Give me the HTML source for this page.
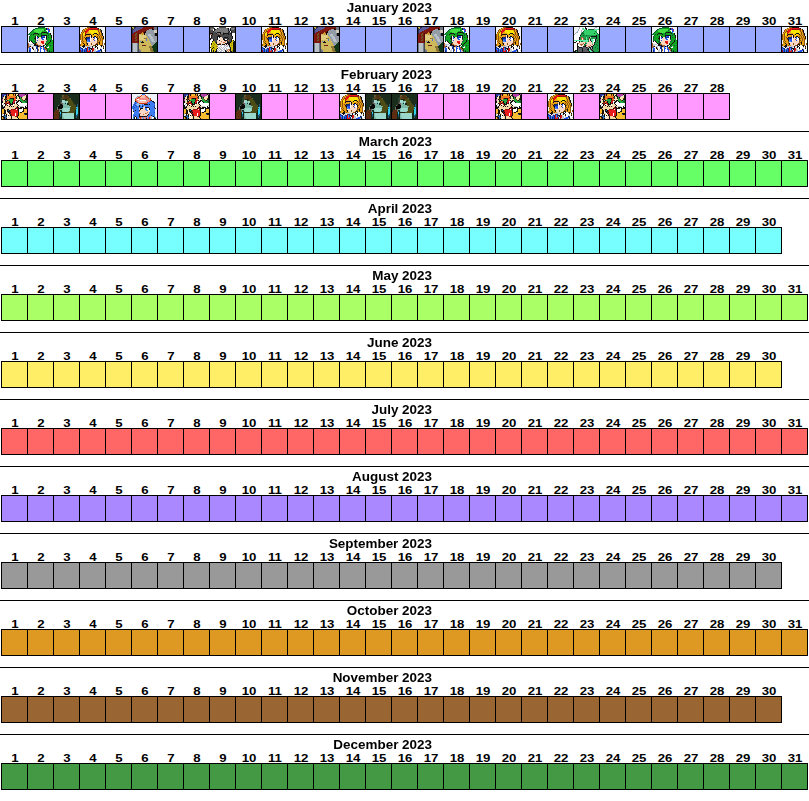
<!DOCTYPE html>
<html><head><meta charset="utf-8"><title>Calendar 2023</title><style>
html,body{margin:0;padding:0;background:#fff;}
body{width:809px;height:801px;overflow:hidden;position:relative;font-family:"Liberation Sans",sans-serif;font-weight:bold;color:#000;}
.t{position:absolute;font-size:12px;line-height:15px;white-space:nowrap;text-align:right;width:300px;transform:scaleX(1.12);transform-origin:100% 0;}
.n{position:absolute;font-size:11px;line-height:13px;width:27px;text-align:center;transform:translateX(0.5px) scaleX(1.2);}
.c{position:absolute;width:27px;height:27px;box-sizing:border-box;border:1px solid #000;overflow:hidden;}
.r{position:absolute;left:0;width:809px;height:1px;background:#000;}
.c svg{position:absolute;left:0;top:0;width:25px;height:25px;}
</style></head>
<body>
<div class="t" style="left:132px;top:1px">January 2023</div><div class="n" style="left:1px;top:15px">1</div><div class="n" style="left:27px;top:15px">2</div><div class="n" style="left:53px;top:15px">3</div><div class="n" style="left:79px;top:15px">4</div><div class="n" style="left:105px;top:15px">5</div><div class="n" style="left:131px;top:15px">6</div><div class="n" style="left:157px;top:15px">7</div><div class="n" style="left:183px;top:15px">8</div><div class="n" style="left:209px;top:15px">9</div><div class="n" style="left:235px;top:15px">10</div><div class="n" style="left:261px;top:15px">11</div><div class="n" style="left:287px;top:15px">12</div><div class="n" style="left:313px;top:15px">13</div><div class="n" style="left:339px;top:15px">14</div><div class="n" style="left:365px;top:15px">15</div><div class="n" style="left:391px;top:15px">16</div><div class="n" style="left:417px;top:15px">17</div><div class="n" style="left:443px;top:15px">18</div><div class="n" style="left:469px;top:15px">19</div><div class="n" style="left:495px;top:15px">20</div><div class="n" style="left:521px;top:15px">21</div><div class="n" style="left:547px;top:15px">22</div><div class="n" style="left:573px;top:15px">23</div><div class="n" style="left:599px;top:15px">24</div><div class="n" style="left:625px;top:15px">25</div><div class="n" style="left:651px;top:15px">26</div><div class="n" style="left:677px;top:15px">27</div><div class="n" style="left:703px;top:15px">28</div><div class="n" style="left:729px;top:15px">29</div><div class="n" style="left:755px;top:15px">30</div><div class="n" style="left:781px;top:15px">31</div><div class="c" style="left:1px;top:26px;background:#99aaff"></div><div class="c" style="left:27px;top:26px;background:#99aaff"><svg viewBox="0 0 25 25" shape-rendering="crispEdges"><path fill="#eef3fb" d="M0 0h10v1h-10zM17 0h8v1h-8zM0 1h7v1h-7zM21 1h4v1h-4zM0 2h5v1h-5zM22 2h3v1h-3zM0 3h4v1h-4zM22 3h3v1h-3zM0 4h3v1h-3zM22 4h3v1h-3zM0 5h2v1h-2zM21 5h4v1h-4zM0 6h1v1h-1zM23 6h2v1h-2zM23 7h2v1h-2zM0 8h2v1h-2zM24 8h1v1h-1zM0 9h1v1h-1zM24 9h1v1h-1zM0 10h1v1h-1zM24 10h1v1h-1zM0 11h1v1h-1zM24 11h1v1h-1zM0 12h1v1h-1zM24 12h1v1h-1zM0 13h1v1h-1zM0 14h1v1h-1zM0 15h1v1h-1z"/><path fill="#10583a" d="M10 0h7v1h-7zM7 1h3v1h-3zM5 2h2v1h-2zM4 3h1v1h-1zM16 3h1v1h-1zM3 4h1v1h-1zM2 5h1v1h-1zM1 6h1v1h-1zM0 7h1v1h-1zM3 7h1v1h-1zM13 7h1v1h-1zM20 7h1v1h-1zM2 8h1v1h-1zM20 8h1v1h-1zM1 9h1v1h-1zM1 10h1v1h-1zM20 10h1v1h-1zM1 11h1v1h-1zM1 12h1v1h-1zM18 12h1v1h-1zM23 12h1v1h-1zM1 13h1v1h-1zM3 13h1v1h-1zM7 13h1v1h-1zM19 13h1v1h-1zM6 14h2v1h-2zM18 14h1v1h-1zM7 15h2v1h-2zM6 16h1v1h-1zM17 16h1v1h-1zM16 18h1v1h-1zM22 18h1v1h-1zM19 19h1v1h-1zM19 22h1v1h-1zM21 23h1v1h-1zM19 24h1v1h-1zM23 24h1v1h-1z"/><path fill="#12a322" d="M10 1h8v1h-8zM16 2h2v1h-2zM5 3h1v1h-1zM17 3h1v1h-1zM4 4h2v1h-2zM14 4h5v1h-5zM3 5h5v1h-5zM13 5h1v1h-1zM19 5h1v1h-1zM2 6h4v1h-4zM10 6h3v1h-3zM14 6h5v1h-5zM20 6h2v1h-2zM1 7h2v1h-2zM4 7h1v1h-1zM6 7h4v1h-4zM11 7h2v1h-2zM14 7h6v1h-6zM21 7h1v1h-1zM3 8h5v1h-5zM9 8h4v1h-4zM19 8h1v1h-1zM21 8h2v1h-2zM2 9h5v1h-5zM10 9h3v1h-3zM19 9h4v1h-4zM2 10h5v1h-5zM19 10h1v1h-1zM21 10h2v1h-2zM2 11h4v1h-4zM19 11h5v1h-5zM2 12h5v1h-5zM19 12h4v1h-4zM2 13h1v1h-1zM4 13h3v1h-3zM20 13h2v1h-2zM23 13h2v1h-2zM4 14h2v1h-2zM19 14h3v1h-3zM23 14h2v1h-2zM5 15h2v1h-2zM18 15h3v1h-3zM22 15h3v1h-3zM18 16h2v1h-2zM21 16h4v1h-4zM18 17h1v1h-1zM20 17h5v1h-5zM19 18h3v1h-3zM23 18h2v1h-2zM17 19h2v1h-2zM21 19h4v1h-4zM18 20h1v1h-1zM21 20h4v1h-4zM19 21h6v1h-6zM20 22h5v1h-5zM20 23h1v1h-1zM22 23h3v1h-3zM20 24h1v1h-1zM22 24h1v1h-1zM24 24h1v1h-1z"/><path fill="#141014" d="M18 1h1v1h-1zM18 2h1v1h-1zM14 5h5v1h-5zM6 6h4v1h-4zM13 6h1v1h-1zM19 6h1v1h-1zM22 6h1v1h-1zM5 7h1v1h-1zM10 7h1v1h-1zM22 7h1v1h-1zM13 8h6v1h-6zM23 8h1v1h-1zM7 9h1v1h-1zM9 9h1v1h-1zM13 9h1v1h-1zM18 9h1v1h-1zM23 9h1v1h-1zM7 10h1v1h-1zM10 10h1v1h-1zM18 10h1v1h-1zM23 10h1v1h-1zM6 11h2v1h-2zM18 11h1v1h-1zM7 12h1v1h-1zM22 13h1v1h-1zM1 14h1v1h-1zM3 14h1v1h-1zM22 14h1v1h-1zM4 15h1v1h-1zM21 15h1v1h-1zM5 16h1v1h-1zM7 16h1v1h-1zM20 16h1v1h-1zM6 17h2v1h-2zM17 17h1v1h-1zM19 17h1v1h-1zM6 18h4v1h-4zM15 18h1v1h-1zM18 18h1v1h-1zM2 19h1v1h-1zM9 19h2v1h-2zM13 19h1v1h-1zM15 19h1v1h-1zM4 20h1v1h-1zM17 20h1v1h-1zM4 21h1v1h-1zM18 21h1v1h-1zM5 22h1v1h-1zM19 23h1v1h-1zM21 24h1v1h-1z"/><path fill="#2255ee" d="M19 1h1v1h-1zM19 2h3v1h-3zM20 3h1v1h-1zM20 4h2v1h-2zM20 5h1v1h-1zM14 9h3v1h-3zM9 10h1v1h-1zM9 11h1v1h-1zM13 11h2v1h-2zM14 12h2v1h-2zM9 13h1v1h-1zM8 19h1v1h-1zM12 19h1v1h-1zM14 19h1v1h-1zM1 20h1v1h-1zM12 20h1v1h-1zM15 20h1v1h-1zM1 21h2v1h-2zM12 21h2v1h-2zM15 21h1v1h-1zM1 22h2v1h-2zM12 22h1v1h-1zM15 22h2v1h-2zM2 23h1v1h-1zM12 23h1v1h-1zM16 23h1v1h-1zM2 24h1v1h-1zM12 24h1v1h-1zM16 24h1v1h-1z"/><path fill="#e41414" d="M20 1h1v1h-1zM21 3h1v1h-1zM13 14h3v1h-3zM13 15h3v1h-3zM14 16h2v1h-2z"/><path fill="#44dd44" d="M7 2h9v1h-9zM6 3h10v1h-10zM6 4h8v1h-8zM8 5h5v1h-5z"/><path fill="#ffffff" d="M18 3h2v1h-2zM19 4h1v1h-1zM8 9h1v1h-1zM17 9h1v1h-1zM8 10h1v1h-1zM17 10h1v1h-1zM8 11h1v1h-1zM15 11h3v1h-3zM8 12h2v1h-2zM16 12h2v1h-2zM2 14h1v1h-1zM1 15h3v1h-3zM1 16h4v1h-4zM5 17h1v1h-1zM3 18h2v1h-2zM17 18h1v1h-1zM6 19h1v1h-1zM16 19h1v1h-1zM2 20h1v1h-1zM6 20h2v1h-2zM14 20h1v1h-1zM19 20h2v1h-2zM3 21h1v1h-1zM6 21h2v1h-2zM11 21h1v1h-1zM14 21h1v1h-1zM3 22h2v1h-2zM6 22h1v1h-1zM8 22h1v1h-1zM11 22h1v1h-1zM13 22h2v1h-2zM3 23h3v1h-3zM8 23h1v1h-1zM11 23h1v1h-1zM13 23h3v1h-3zM3 24h3v1h-3zM8 24h1v1h-1zM11 24h1v1h-1zM13 24h3v1h-3z"/><path fill="#a8602c" d="M8 8h1v1h-1zM0 16h1v1h-1zM8 16h1v1h-1zM0 17h1v1h-1zM8 17h2v1h-2zM0 18h1v1h-1zM10 18h3v1h-3zM0 19h2v1h-2zM11 19h1v1h-1zM0 20h1v1h-1zM16 20h1v1h-1zM5 21h1v1h-1zM16 21h2v1h-2zM10 22h1v1h-1zM17 22h2v1h-2zM10 23h1v1h-1zM18 23h1v1h-1z"/><path fill="#f8d9c4" d="M11 10h2v1h-2zM10 11h3v1h-3zM10 12h4v1h-4zM8 13h1v1h-1zM10 13h9v1h-9zM8 14h5v1h-5zM16 14h2v1h-2zM9 15h4v1h-4zM16 15h2v1h-2zM9 16h5v1h-5zM16 16h1v1h-1zM10 17h7v1h-7zM13 18h2v1h-2zM3 19h1v1h-1zM3 20h1v1h-1zM10 20h2v1h-2zM13 20h1v1h-1zM10 21h1v1h-1zM10 24h1v1h-1z"/><path fill="#0c2f8c" d="M13 10h4v1h-4zM8 20h2v1h-2zM8 21h2v1h-2zM9 22h1v1h-1zM1 23h1v1h-1zM9 23h1v1h-1zM1 24h1v1h-1zM9 24h1v1h-1z"/><path fill="#c4c8d4" d="M1 17h4v1h-4zM1 18h2v1h-2zM5 18h1v1h-1zM4 19h2v1h-2zM7 19h1v1h-1zM20 19h1v1h-1zM5 20h1v1h-1zM0 21h1v1h-1zM0 22h1v1h-1zM7 22h1v1h-1zM0 23h1v1h-1zM6 23h2v1h-2zM17 23h1v1h-1zM0 24h1v1h-1zM6 24h2v1h-2zM17 24h2v1h-2z"/></svg></div><div class="c" style="left:53px;top:26px;background:#99aaff"></div><div class="c" style="left:79px;top:26px;background:#99aaff"><svg viewBox="0 0 25 25" shape-rendering="crispEdges"><path fill="#eef3fb" d="M0 0h7v1h-7zM17 0h8v1h-8zM0 1h5v1h-5zM19 1h6v1h-6zM0 2h3v1h-3zM21 2h4v1h-4zM0 3h2v1h-2zM22 3h3v1h-3zM0 4h2v1h-2zM22 4h3v1h-3zM0 5h1v1h-1zM22 5h3v1h-3zM0 6h1v1h-1zM23 6h2v1h-2zM23 7h2v1h-2zM23 8h2v1h-2zM24 9h1v1h-1zM24 10h1v1h-1zM24 11h1v1h-1zM24 12h1v1h-1z"/><path fill="#8c5210" d="M7 0h3v1h-3zM5 1h1v1h-1zM8 1h1v1h-1zM3 2h1v1h-1zM6 2h1v1h-1zM2 3h1v1h-1zM4 3h1v1h-1zM18 3h1v1h-1zM20 3h1v1h-1zM2 4h1v1h-1zM4 4h1v1h-1zM18 4h1v1h-1zM20 4h1v1h-1zM1 5h1v1h-1zM3 5h1v1h-1zM19 5h1v1h-1zM2 6h1v1h-1zM19 6h1v1h-1zM21 6h1v1h-1zM0 7h1v1h-1zM2 7h1v1h-1zM19 7h1v1h-1zM21 7h1v1h-1zM0 8h1v1h-1zM2 8h1v1h-1zM18 8h1v1h-1zM20 8h1v1h-1zM0 9h1v1h-1zM2 9h1v1h-1zM9 9h1v1h-1zM17 9h1v1h-1zM19 9h1v1h-1zM21 9h1v1h-1zM0 10h1v1h-1zM2 10h1v1h-1zM4 10h1v1h-1zM17 10h1v1h-1zM19 10h1v1h-1zM21 10h1v1h-1zM0 11h1v1h-1zM2 11h1v1h-1zM18 11h1v1h-1zM20 11h1v1h-1zM22 11h1v1h-1zM0 12h1v1h-1zM2 12h1v1h-1zM5 12h1v1h-1zM13 12h1v1h-1zM20 12h1v1h-1zM22 12h1v1h-1zM2 13h1v1h-1zM17 13h2v1h-2zM20 13h1v1h-1zM22 13h1v1h-1zM1 14h1v1h-1zM3 14h1v1h-1zM6 14h1v1h-1zM17 14h1v1h-1zM19 14h1v1h-1zM22 14h1v1h-1zM2 15h1v1h-1zM6 15h1v1h-1zM17 15h2v1h-2zM22 15h1v1h-1zM6 16h1v1h-1zM11 16h1v1h-1zM16 16h2v1h-2zM22 16h1v1h-1zM24 16h1v1h-1zM0 17h1v1h-1zM11 17h1v1h-1zM15 17h1v1h-1zM19 17h1v1h-1zM22 17h1v1h-1zM24 17h1v1h-1zM0 18h1v1h-1zM6 18h1v1h-1zM13 18h2v1h-2zM20 18h1v1h-1zM22 18h1v1h-1zM23 20h1v1h-1z"/><path fill="#141010" d="M10 0h7v1h-7zM18 1h1v1h-1zM20 2h1v1h-1zM21 3h1v1h-1zM21 4h1v1h-1zM21 5h1v1h-1zM14 6h3v1h-3zM22 6h1v1h-1zM6 7h5v1h-5zM13 7h1v1h-1zM17 7h1v1h-1zM22 7h1v1h-1zM5 8h1v1h-1zM11 8h1v1h-1zM22 8h1v1h-1zM11 9h1v1h-1zM14 9h2v1h-2zM23 9h1v1h-1zM6 10h1v1h-1zM11 10h1v1h-1zM13 10h1v1h-1zM16 10h1v1h-1zM23 10h1v1h-1zM5 11h1v1h-1zM17 11h1v1h-1zM23 11h1v1h-1zM6 12h1v1h-1zM17 12h1v1h-1zM6 13h1v1h-1zM19 15h1v1h-1zM3 16h1v1h-1zM7 16h1v1h-1zM19 16h1v1h-1zM4 17h1v1h-1zM7 17h1v1h-1zM16 17h2v1h-2zM3 18h2v1h-2zM15 18h1v1h-1zM17 18h1v1h-1zM21 18h1v1h-1zM2 19h3v1h-3zM12 19h1v1h-1zM15 19h2v1h-2zM21 19h1v1h-1zM23 19h1v1h-1zM3 20h1v1h-1zM12 20h1v1h-1zM15 20h1v1h-1zM17 20h1v1h-1zM10 21h2v1h-2zM17 21h1v1h-1zM23 21h1v1h-1zM11 22h1v1h-1zM20 22h1v1h-1zM21 23h1v1h-1zM21 24h1v1h-1z"/><path fill="#e8a014" d="M6 1h2v1h-2zM4 2h2v1h-2zM19 2h1v1h-1zM3 3h1v1h-1zM5 3h1v1h-1zM17 3h1v1h-1zM19 3h1v1h-1zM3 4h1v1h-1zM8 4h1v1h-1zM19 4h1v1h-1zM2 5h1v1h-1zM7 5h2v1h-2zM18 5h1v1h-1zM20 5h1v1h-1zM1 6h1v1h-1zM6 6h5v1h-5zM18 6h1v1h-1zM20 6h1v1h-1zM1 7h1v1h-1zM11 7h2v1h-2zM16 7h1v1h-1zM18 7h1v1h-1zM20 7h1v1h-1zM1 8h1v1h-1zM4 8h1v1h-1zM6 8h4v1h-4zM12 8h1v1h-1zM14 8h4v1h-4zM19 8h1v1h-1zM21 8h1v1h-1zM1 9h1v1h-1zM3 9h6v1h-6zM12 9h2v1h-2zM16 9h1v1h-1zM18 9h1v1h-1zM20 9h1v1h-1zM22 9h1v1h-1zM1 10h1v1h-1zM3 10h1v1h-1zM5 10h1v1h-1zM18 10h1v1h-1zM20 10h1v1h-1zM22 10h1v1h-1zM1 11h1v1h-1zM3 11h2v1h-2zM19 11h1v1h-1zM21 11h1v1h-1zM1 12h1v1h-1zM3 12h2v1h-2zM18 12h2v1h-2zM21 12h1v1h-1zM23 12h1v1h-1zM1 13h1v1h-1zM3 13h3v1h-3zM19 13h1v1h-1zM21 13h1v1h-1zM2 14h1v1h-1zM4 14h2v1h-2zM18 14h1v1h-1zM20 14h2v1h-2zM1 15h1v1h-1zM3 15h3v1h-3zM20 15h2v1h-2zM1 16h2v1h-2zM4 16h2v1h-2zM18 16h1v1h-1zM20 16h2v1h-2zM1 17h3v1h-3zM5 17h2v1h-2zM18 17h1v1h-1zM20 17h2v1h-2zM1 18h2v1h-2zM5 18h1v1h-1zM7 18h2v1h-2z"/><path fill="#ea1212" d="M9 1h8v1h-8zM7 2h3v1h-3zM6 3h3v1h-3zM6 4h2v1h-2zM5 5h2v1h-2zM7 21h1v1h-1zM13 21h1v1h-1zM7 22h1v1h-1zM13 22h1v1h-1zM7 23h1v1h-1zM9 23h1v1h-1zM13 23h1v1h-1zM7 24h3v1h-3z"/><path fill="#981414" d="M17 1h1v1h-1zM10 2h9v1h-9zM5 4h1v1h-1zM5 6h1v1h-1zM5 7h1v1h-1zM7 20h1v1h-1zM12 21h1v1h-1zM12 22h1v1h-1zM0 23h1v1h-1zM12 23h1v1h-1zM0 24h1v1h-1zM12 24h1v1h-1z"/><path fill="#f8e400" d="M9 3h8v1h-8zM9 4h9v1h-9zM4 5h1v1h-1zM9 5h9v1h-9zM3 6h2v1h-2zM11 6h3v1h-3zM17 6h1v1h-1zM3 7h2v1h-2zM14 7h2v1h-2zM3 8h1v1h-1zM13 8h1v1h-1z"/><path fill="#f8d8c4" d="M10 8h1v1h-1zM10 9h1v1h-1zM12 10h1v1h-1zM11 11h3v1h-3zM11 12h2v1h-2zM14 12h1v1h-1zM11 13h3v1h-3zM15 13h1v1h-1zM10 14h7v1h-7zM7 15h10v1h-10zM8 16h3v1h-3zM12 16h4v1h-4zM8 17h3v1h-3zM12 17h3v1h-3zM10 18h3v1h-3z"/><path fill="#0c2a84" d="M7 10h3v1h-3zM6 11h4v1h-4zM0 20h1v1h-1zM8 20h2v1h-2zM1 21h2v1h-2zM5 21h2v1h-2zM9 21h1v1h-1zM2 22h1v1h-1zM6 22h1v1h-1zM9 22h1v1h-1zM2 23h1v1h-1zM4 23h1v1h-1zM6 23h1v1h-1zM10 23h1v1h-1zM2 24h1v1h-1zM4 24h1v1h-1zM6 24h1v1h-1zM10 24h1v1h-1z"/><path fill="#ffffff" d="M10 10h1v1h-1zM15 10h1v1h-1zM10 11h1v1h-1zM15 11h2v1h-2zM10 12h1v1h-1zM15 12h2v1h-2zM0 13h1v1h-1zM10 13h1v1h-1zM16 13h1v1h-1zM23 13h2v1h-2zM0 14h1v1h-1zM23 14h2v1h-2zM0 15h1v1h-1zM23 15h2v1h-2zM0 16h1v1h-1zM23 16h1v1h-1zM23 17h1v1h-1zM16 18h1v1h-1zM18 18h2v1h-2zM24 18h1v1h-1zM14 19h1v1h-1zM17 19h4v1h-4zM22 19h1v1h-1zM24 19h1v1h-1zM2 20h1v1h-1zM6 20h1v1h-1zM11 20h1v1h-1zM13 20h1v1h-1zM16 20h1v1h-1zM18 20h3v1h-3zM22 20h1v1h-1zM24 20h1v1h-1zM3 21h1v1h-1zM15 21h2v1h-2zM18 21h2v1h-2zM21 21h2v1h-2zM24 21h1v1h-1zM16 22h1v1h-1zM18 22h2v1h-2zM22 22h3v1h-3zM11 23h1v1h-1zM16 23h1v1h-1zM22 23h2v1h-2zM23 24h2v1h-2z"/><path fill="#2452f0" d="M14 10h1v1h-1zM14 11h1v1h-1zM7 12h3v1h-3zM8 13h2v1h-2zM14 13h1v1h-1zM9 14h1v1h-1zM0 21h1v1h-1zM0 22h1v1h-1zM4 22h2v1h-2zM21 22h1v1h-1zM1 23h1v1h-1zM5 23h1v1h-1zM18 23h3v1h-3zM1 24h1v1h-1zM5 24h1v1h-1zM16 24h4v1h-4z"/><path fill="#4c92f4" d="M7 13h1v1h-1zM7 14h2v1h-2zM8 21h1v1h-1zM1 22h1v1h-1zM3 22h1v1h-1zM8 22h1v1h-1zM3 23h1v1h-1zM8 23h1v1h-1zM3 24h1v1h-1z"/><path fill="#c4c8d0" d="M9 18h1v1h-1zM23 18h1v1h-1zM0 19h2v1h-2zM5 19h7v1h-7zM13 19h1v1h-1zM1 20h1v1h-1zM4 20h2v1h-2zM10 20h1v1h-1zM14 20h1v1h-1zM21 20h1v1h-1zM4 21h1v1h-1zM14 21h1v1h-1zM20 21h1v1h-1zM10 22h1v1h-1zM14 22h2v1h-2zM17 22h1v1h-1zM14 23h2v1h-2zM17 23h1v1h-1zM24 23h1v1h-1zM11 24h1v1h-1zM13 24h3v1h-3zM20 24h1v1h-1zM22 24h1v1h-1z"/></svg></div><div class="c" style="left:105px;top:26px;background:#99aaff"></div><div class="c" style="left:131px;top:26px;background:#99aaff"><svg viewBox="0 0 25 25" shape-rendering="crispEdges" style="filter:blur(0.4px)"><path fill="#c8b850" d="M0 0h2v1h-2zM1 1h1v1h-1z"/><path fill="#2c3838" d="M2 0h1v1h-1zM0 1h1v1h-1zM0 2h1v1h-1z"/><path fill="#262a5c" d="M3 0h1v1h-1zM2 1h1v1h-1zM1 2h1v1h-1zM0 3h1v1h-1zM0 4h1v1h-1zM0 5h1v1h-1zM0 6h1v1h-1z"/><path fill="#5c5c98" d="M4 0h7v1h-7zM3 1h7v1h-7zM2 2h6v1h-6zM1 3h5v1h-5zM1 4h3v1h-3zM1 5h1v1h-1z"/><path fill="#7e1810" d="M11 0h11v1h-11zM10 1h10v1h-10zM21 1h1v1h-1zM8 2h9v1h-9zM6 3h9v1h-9zM4 4h9v1h-9zM2 5h8v1h-8zM11 5h1v1h-1zM1 6h3v1h-3zM5 6h1v1h-1zM7 6h2v1h-2zM0 7h3v1h-3zM5 7h1v1h-1zM0 8h3v1h-3zM4 8h2v1h-2zM0 9h4v1h-4zM5 9h1v1h-1zM0 10h3v1h-3zM5 10h1v1h-1zM0 11h3v1h-3zM4 11h2v1h-2zM0 12h4v1h-4zM5 12h1v1h-1zM0 13h3v1h-3zM5 13h1v1h-1zM0 14h6v1h-6zM0 15h6v1h-6z"/><path fill="#727a88" d="M22 0h3v1h-3zM22 1h3v1h-3zM22 2h3v1h-3zM22 6h1v1h-1zM22 7h1v1h-1zM22 8h1v1h-1zM0 16h1v1h-1zM5 16h1v1h-1zM0 17h1v1h-1zM5 17h1v1h-1zM0 18h1v1h-1zM5 18h1v1h-1zM0 19h1v1h-1zM5 19h1v1h-1zM0 20h1v1h-1zM5 20h1v1h-1zM0 21h1v1h-1zM5 21h1v1h-1zM0 22h1v1h-1zM5 22h1v1h-1zM7 22h1v1h-1zM0 23h1v1h-1zM5 23h1v1h-1zM7 23h2v1h-2zM0 24h1v1h-1zM5 24h1v1h-1zM7 24h2v1h-2z"/><path fill="#1c0806" d="M20 1h1v1h-1zM20 2h2v1h-2zM13 4h1v1h-1zM12 5h2v1h-2zM12 6h1v1h-1zM12 7h1v1h-1z"/><path fill="#949ca6" d="M17 2h3v1h-3zM15 3h7v1h-7zM14 4h8v1h-8zM14 5h8v1h-8zM13 6h9v1h-9zM14 7h2v1h-2zM19 7h3v1h-3zM14 8h2v1h-2zM19 8h3v1h-3zM15 9h2v1h-2zM20 9h5v1h-5zM16 10h2v1h-2zM21 10h4v1h-4zM16 11h2v1h-2zM21 11h4v1h-4zM17 12h2v1h-2zM22 12h3v1h-3zM17 13h2v1h-2zM22 13h3v1h-3zM18 14h2v1h-2zM23 14h2v1h-2zM18 15h6v1h-6zM19 16h4v1h-4zM19 17h3v1h-3zM20 18h1v1h-1z"/><path fill="#d0cabc" d="M22 3h3v1h-3zM22 4h3v1h-3zM22 5h3v1h-3z"/><path fill="#c89028" d="M10 5h1v1h-1zM9 6h3v1h-3zM10 7h1v1h-1z"/><path fill="#6c5c28" d="M4 6h1v1h-1zM3 7h2v1h-2zM3 8h1v1h-1zM4 9h1v1h-1zM3 10h2v1h-2zM3 11h1v1h-1zM4 12h1v1h-1zM3 13h2v1h-2z"/><path fill="#520c08" d="M6 6h1v1h-1zM6 7h1v1h-1zM6 8h1v1h-1zM6 9h1v1h-1zM6 10h1v1h-1zM6 11h1v1h-1zM6 12h1v1h-1zM6 13h1v1h-1zM6 14h1v1h-1zM6 15h1v1h-1z"/><path fill="#121010" d="M23 6h2v1h-2zM23 7h2v1h-2zM23 8h2v1h-2zM10 14h1v1h-1zM9 15h3v1h-3z"/><path fill="#ceb85c" d="M7 7h3v1h-3zM11 7h1v1h-1zM13 7h1v1h-1zM14 9h1v1h-1zM14 10h2v1h-2zM15 11h1v1h-1zM15 12h2v1h-2zM7 13h7v1h-7zM15 13h2v1h-2zM7 14h1v1h-1zM9 14h1v1h-1zM11 14h7v1h-7zM7 15h2v1h-2zM12 15h6v1h-6zM7 16h12v1h-12zM7 17h12v1h-12zM7 18h3v1h-3zM14 18h6v1h-6zM7 19h10v1h-10zM7 20h10v1h-10zM7 21h11v1h-11zM8 22h10v1h-10zM9 23h9v1h-9zM9 24h10v1h-10z"/><path fill="#b8c0c8" d="M16 7h3v1h-3zM16 8h3v1h-3zM17 9h3v1h-3zM18 10h3v1h-3zM18 11h3v1h-3zM19 12h3v1h-3zM19 13h3v1h-3zM20 14h3v1h-3zM1 16h4v1h-4zM1 17h4v1h-4zM1 18h4v1h-4zM1 19h4v1h-4zM1 20h4v1h-4zM1 21h4v1h-4zM1 22h4v1h-4zM1 23h4v1h-4zM1 24h4v1h-4z"/><path fill="#e0cc80" d="M7 8h7v1h-7zM7 9h7v1h-7zM7 10h7v1h-7zM7 11h5v1h-5zM7 12h7v1h-7z"/><path fill="#8c7434" d="M12 11h3v1h-3zM17 19h3v1h-3zM17 20h3v1h-3zM18 21h3v1h-3zM18 22h3v1h-3zM18 23h3v1h-3zM19 24h3v1h-3z"/><path fill="#4a74e0" d="M14 12h1v1h-1zM14 13h1v1h-1zM8 14h1v1h-1z"/><path fill="#103818" d="M24 15h1v1h-1zM23 16h2v1h-2zM22 17h3v1h-3zM21 18h4v1h-4zM20 19h5v1h-5zM20 20h5v1h-5zM21 21h4v1h-4zM21 22h4v1h-4zM21 23h4v1h-4zM22 24h3v1h-3z"/><path fill="#444650" d="M6 16h1v1h-1zM6 17h1v1h-1zM6 18h1v1h-1zM6 19h1v1h-1zM6 20h1v1h-1zM6 21h1v1h-1zM6 22h1v1h-1zM6 23h1v1h-1zM6 24h1v1h-1z"/><path fill="#6c1c10" d="M10 18h4v1h-4z"/></svg></div><div class="c" style="left:157px;top:26px;background:#99aaff"></div><div class="c" style="left:183px;top:26px;background:#99aaff"></div><div class="c" style="left:209px;top:26px;background:#99aaff"><svg viewBox="0 0 25 25" shape-rendering="crispEdges"><path fill="#484848" d="M0 0h4v1h-4zM9 0h7v1h-7zM21 0h4v1h-4zM0 1h1v1h-1zM3 1h1v1h-1zM17 1h1v1h-1zM24 2h1v1h-1zM0 3h3v1h-3zM21 3h4v1h-4zM0 4h3v1h-3zM18 4h1v1h-1zM22 4h3v1h-3zM0 5h6v1h-6zM13 5h1v1h-1zM19 5h1v1h-1zM22 5h3v1h-3zM3 6h3v1h-3zM19 6h1v1h-1zM3 7h6v1h-6zM10 7h3v1h-3zM14 7h4v1h-4zM19 7h2v1h-2zM2 8h6v1h-6zM10 8h11v1h-11zM2 9h5v1h-5zM11 9h11v1h-11zM2 10h5v1h-5zM12 10h2v1h-2zM18 10h4v1h-4zM1 11h6v1h-6zM14 11h4v1h-4zM19 11h3v1h-3zM4 12h3v1h-3zM18 12h3v1h-3zM4 13h3v1h-3zM17 13h1v1h-1zM19 13h2v1h-2zM5 14h2v1h-2zM18 14h3v1h-3zM5 15h1v1h-1z"/><path fill="#ffffff" d="M4 0h5v1h-5zM16 0h5v1h-5zM5 1h2v1h-2zM19 1h1v1h-1zM3 2h1v1h-1zM3 3h1v1h-1zM20 4h1v1h-1zM22 6h3v1h-3zM22 7h3v1h-3zM0 8h1v1h-1zM22 8h3v1h-3zM0 9h1v1h-1zM23 9h2v1h-2zM0 10h1v1h-1zM8 10h1v1h-1zM23 10h2v1h-2zM8 11h2v1h-2zM23 11h2v1h-2zM1 12h2v1h-2zM8 12h2v1h-2zM15 12h2v1h-2zM22 12h3v1h-3zM0 13h3v1h-3zM24 13h1v1h-1zM0 14h2v1h-2zM0 15h2v1h-2zM0 16h1v1h-1zM0 17h1v1h-1zM0 18h1v1h-1zM9 18h2v1h-2zM12 18h2v1h-2zM0 19h1v1h-1zM8 19h2v1h-2zM11 19h3v1h-3zM15 19h1v1h-1zM18 19h1v1h-1zM10 20h1v1h-1zM12 20h1v1h-1zM14 20h1v1h-1zM16 20h3v1h-3zM0 21h1v1h-1zM8 21h1v1h-1zM11 21h1v1h-1zM13 21h1v1h-1zM15 21h1v1h-1zM17 21h3v1h-3zM0 22h1v1h-1zM7 22h1v1h-1zM9 22h1v1h-1zM12 22h1v1h-1zM15 22h1v1h-1zM0 23h1v1h-1zM8 23h1v1h-1zM10 23h1v1h-1zM13 23h1v1h-1zM0 24h1v1h-1zM9 24h1v1h-1zM12 24h1v1h-1zM14 24h1v1h-1z"/><path fill="#7a7a7a" d="M1 1h2v1h-2zM8 1h9v1h-9zM21 1h4v1h-4zM0 2h3v1h-3zM6 2h12v1h-12zM21 2h3v1h-3zM5 3h13v1h-13zM4 4h14v1h-14zM6 5h1v1h-1zM11 5h2v1h-2zM14 5h4v1h-4zM7 6h3v1h-3zM11 6h2v1h-2z"/><path fill="#141418" d="M4 1h1v1h-1zM7 1h1v1h-1zM18 1h1v1h-1zM20 1h1v1h-1zM4 2h2v1h-2zM18 2h1v1h-1zM20 2h1v1h-1zM4 3h1v1h-1zM18 3h1v1h-1zM20 3h1v1h-1zM3 4h1v1h-1zM19 4h1v1h-1zM21 4h1v1h-1zM7 5h4v1h-4zM18 5h1v1h-1zM21 5h1v1h-1zM0 6h3v1h-3zM6 6h1v1h-1zM10 6h1v1h-1zM13 6h6v1h-6zM20 6h2v1h-2zM2 7h1v1h-1zM13 7h1v1h-1zM18 7h1v1h-1zM21 7h1v1h-1zM1 8h1v1h-1zM8 8h2v1h-2zM21 8h1v1h-1zM1 9h1v1h-1zM7 9h4v1h-4zM22 9h1v1h-1zM1 10h1v1h-1zM7 10h1v1h-1zM9 10h1v1h-1zM14 10h4v1h-4zM22 10h1v1h-1zM0 11h1v1h-1zM7 11h1v1h-1zM13 11h1v1h-1zM18 11h1v1h-1zM22 11h1v1h-1zM0 12h1v1h-1zM3 12h1v1h-1zM7 12h1v1h-1zM13 12h2v1h-2zM17 12h1v1h-1zM21 12h1v1h-1zM3 13h1v1h-1zM9 13h1v1h-1zM14 13h3v1h-3zM21 13h1v1h-1zM23 13h1v1h-1zM2 14h1v1h-1zM17 14h1v1h-1zM21 14h1v1h-1zM24 14h1v1h-1zM6 15h1v1h-1zM17 15h4v1h-4zM23 15h2v1h-2zM1 16h1v1h-1zM6 16h1v1h-1zM15 16h5v1h-5zM23 16h2v1h-2zM1 17h1v1h-1zM7 17h4v1h-4zM12 17h3v1h-3zM16 17h1v1h-1zM18 17h2v1h-2zM23 17h2v1h-2zM19 18h1v1h-1zM23 18h2v1h-2zM19 19h1v1h-1zM23 19h2v1h-2zM0 20h1v1h-1zM3 20h1v1h-1zM20 20h1v1h-1zM23 20h2v1h-2zM2 21h1v1h-1zM7 21h1v1h-1zM20 21h1v1h-1zM23 21h2v1h-2zM1 22h1v1h-1zM6 22h1v1h-1zM20 22h1v1h-1zM23 22h2v1h-2zM1 23h1v1h-1zM3 23h1v1h-1zM6 23h1v1h-1zM15 23h1v1h-1zM20 23h1v1h-1zM23 23h2v1h-2zM1 24h1v1h-1zM3 24h1v1h-1zM5 24h2v1h-2zM15 24h2v1h-2zM20 24h2v1h-2zM23 24h2v1h-2z"/><path fill="#9aa4b4" d="M19 2h1v1h-1zM19 3h1v1h-1zM20 5h1v1h-1z"/><path fill="#c07040" d="M0 7h2v1h-2zM9 7h1v1h-1zM18 13h1v1h-1zM11 14h1v1h-1zM15 14h1v1h-1zM13 15h2v1h-2zM9 16h2v1h-2zM7 19h1v1h-1zM18 22h2v1h-2zM17 23h1v1h-1zM19 23h1v1h-1zM18 24h1v1h-1z"/><path fill="#f8dcc8" d="M10 10h2v1h-2zM10 11h3v1h-3zM10 12h3v1h-3zM7 13h2v1h-2zM10 13h4v1h-4zM7 14h4v1h-4zM12 14h3v1h-3zM16 14h1v1h-1zM7 15h6v1h-6zM15 15h2v1h-2zM7 16h2v1h-2zM11 16h4v1h-4zM11 17h1v1h-1zM15 17h1v1h-1zM17 17h1v1h-1zM7 18h1v1h-1zM16 18h1v1h-1zM7 20h1v1h-1zM18 23h1v1h-1zM17 24h1v1h-1zM19 24h1v1h-1z"/><path fill="#d0c000" d="M22 13h1v1h-1zM3 14h1v1h-1zM22 14h1v1h-1zM2 15h3v1h-3zM21 15h2v1h-2zM2 16h1v1h-1zM4 16h2v1h-2zM20 16h1v1h-1zM22 16h1v1h-1zM2 17h2v1h-2zM5 17h2v1h-2zM20 17h3v1h-3zM1 18h2v1h-2zM4 18h3v1h-3zM20 18h1v1h-1zM22 18h1v1h-1zM1 19h1v1h-1zM3 19h3v1h-3zM20 19h3v1h-3zM1 20h2v1h-2zM4 20h3v1h-3zM21 20h2v1h-2zM1 21h1v1h-1zM3 21h1v1h-1zM5 21h2v1h-2zM21 21h2v1h-2zM2 22h4v1h-4zM21 22h2v1h-2zM2 23h1v1h-1zM4 23h2v1h-2zM21 23h1v1h-1zM2 24h1v1h-1zM4 24h1v1h-1z"/><path fill="#8a9010" d="M4 14h1v1h-1zM23 14h1v1h-1zM3 16h1v1h-1zM21 16h1v1h-1zM4 17h1v1h-1zM3 18h1v1h-1zM21 18h1v1h-1zM2 19h1v1h-1zM6 19h1v1h-1zM4 21h1v1h-1zM22 23h1v1h-1zM22 24h1v1h-1z"/><path fill="#b8bcc8" d="M8 18h1v1h-1zM11 18h1v1h-1zM14 18h2v1h-2zM17 18h2v1h-2zM10 19h1v1h-1zM14 19h1v1h-1zM16 19h2v1h-2zM8 20h2v1h-2zM11 20h1v1h-1zM13 20h1v1h-1zM15 20h1v1h-1zM19 20h1v1h-1zM9 21h2v1h-2zM12 21h1v1h-1zM14 21h1v1h-1zM16 21h1v1h-1zM8 22h1v1h-1zM10 22h2v1h-2zM13 22h2v1h-2zM16 22h2v1h-2zM7 23h1v1h-1zM9 23h1v1h-1zM11 23h2v1h-2zM14 23h1v1h-1zM16 23h1v1h-1zM7 24h2v1h-2zM10 24h2v1h-2zM13 24h1v1h-1z"/></svg></div><div class="c" style="left:235px;top:26px;background:#99aaff"></div><div class="c" style="left:261px;top:26px;background:#99aaff"><svg viewBox="0 0 25 25" shape-rendering="crispEdges"><path fill="#eef3fb" d="M0 0h7v1h-7zM17 0h8v1h-8zM0 1h5v1h-5zM19 1h6v1h-6zM0 2h3v1h-3zM21 2h4v1h-4zM0 3h2v1h-2zM22 3h3v1h-3zM0 4h2v1h-2zM22 4h3v1h-3zM0 5h1v1h-1zM22 5h3v1h-3zM0 6h1v1h-1zM23 6h2v1h-2zM23 7h2v1h-2zM23 8h2v1h-2zM24 9h1v1h-1zM24 10h1v1h-1zM24 11h1v1h-1zM24 12h1v1h-1z"/><path fill="#8c5210" d="M7 0h3v1h-3zM5 1h1v1h-1zM8 1h1v1h-1zM3 2h1v1h-1zM6 2h1v1h-1zM2 3h1v1h-1zM4 3h1v1h-1zM18 3h1v1h-1zM20 3h1v1h-1zM2 4h1v1h-1zM4 4h1v1h-1zM18 4h1v1h-1zM20 4h1v1h-1zM1 5h1v1h-1zM3 5h1v1h-1zM19 5h1v1h-1zM2 6h1v1h-1zM19 6h1v1h-1zM21 6h1v1h-1zM0 7h1v1h-1zM2 7h1v1h-1zM19 7h1v1h-1zM21 7h1v1h-1zM0 8h1v1h-1zM2 8h1v1h-1zM18 8h1v1h-1zM20 8h1v1h-1zM0 9h1v1h-1zM2 9h1v1h-1zM9 9h1v1h-1zM17 9h1v1h-1zM19 9h1v1h-1zM21 9h1v1h-1zM0 10h1v1h-1zM2 10h1v1h-1zM4 10h1v1h-1zM17 10h1v1h-1zM19 10h1v1h-1zM21 10h1v1h-1zM0 11h1v1h-1zM2 11h1v1h-1zM18 11h1v1h-1zM20 11h1v1h-1zM22 11h1v1h-1zM0 12h1v1h-1zM2 12h1v1h-1zM5 12h1v1h-1zM13 12h1v1h-1zM20 12h1v1h-1zM22 12h1v1h-1zM2 13h1v1h-1zM17 13h2v1h-2zM20 13h1v1h-1zM22 13h1v1h-1zM1 14h1v1h-1zM3 14h1v1h-1zM6 14h1v1h-1zM17 14h1v1h-1zM19 14h1v1h-1zM22 14h1v1h-1zM2 15h1v1h-1zM6 15h1v1h-1zM17 15h2v1h-2zM22 15h1v1h-1zM6 16h1v1h-1zM11 16h1v1h-1zM16 16h2v1h-2zM22 16h1v1h-1zM24 16h1v1h-1zM0 17h1v1h-1zM11 17h1v1h-1zM15 17h1v1h-1zM19 17h1v1h-1zM22 17h1v1h-1zM24 17h1v1h-1zM0 18h1v1h-1zM6 18h1v1h-1zM13 18h2v1h-2zM20 18h1v1h-1zM22 18h1v1h-1zM23 20h1v1h-1z"/><path fill="#141010" d="M10 0h7v1h-7zM18 1h1v1h-1zM20 2h1v1h-1zM21 3h1v1h-1zM21 4h1v1h-1zM21 5h1v1h-1zM14 6h3v1h-3zM22 6h1v1h-1zM6 7h5v1h-5zM13 7h1v1h-1zM17 7h1v1h-1zM22 7h1v1h-1zM5 8h1v1h-1zM11 8h1v1h-1zM22 8h1v1h-1zM11 9h1v1h-1zM14 9h2v1h-2zM23 9h1v1h-1zM6 10h1v1h-1zM11 10h1v1h-1zM13 10h1v1h-1zM16 10h1v1h-1zM23 10h1v1h-1zM5 11h1v1h-1zM17 11h1v1h-1zM23 11h1v1h-1zM6 12h1v1h-1zM17 12h1v1h-1zM6 13h1v1h-1zM19 15h1v1h-1zM3 16h1v1h-1zM7 16h1v1h-1zM19 16h1v1h-1zM4 17h1v1h-1zM7 17h1v1h-1zM16 17h2v1h-2zM3 18h2v1h-2zM15 18h1v1h-1zM17 18h1v1h-1zM21 18h1v1h-1zM2 19h3v1h-3zM12 19h1v1h-1zM15 19h2v1h-2zM21 19h1v1h-1zM23 19h1v1h-1zM3 20h1v1h-1zM12 20h1v1h-1zM15 20h1v1h-1zM17 20h1v1h-1zM10 21h2v1h-2zM17 21h1v1h-1zM23 21h1v1h-1zM11 22h1v1h-1zM20 22h1v1h-1zM21 23h1v1h-1zM21 24h1v1h-1z"/><path fill="#e8a014" d="M6 1h2v1h-2zM4 2h2v1h-2zM19 2h1v1h-1zM3 3h1v1h-1zM5 3h1v1h-1zM17 3h1v1h-1zM19 3h1v1h-1zM3 4h1v1h-1zM8 4h1v1h-1zM19 4h1v1h-1zM2 5h1v1h-1zM7 5h2v1h-2zM18 5h1v1h-1zM20 5h1v1h-1zM1 6h1v1h-1zM6 6h5v1h-5zM18 6h1v1h-1zM20 6h1v1h-1zM1 7h1v1h-1zM11 7h2v1h-2zM16 7h1v1h-1zM18 7h1v1h-1zM20 7h1v1h-1zM1 8h1v1h-1zM4 8h1v1h-1zM6 8h4v1h-4zM12 8h1v1h-1zM14 8h4v1h-4zM19 8h1v1h-1zM21 8h1v1h-1zM1 9h1v1h-1zM3 9h6v1h-6zM12 9h2v1h-2zM16 9h1v1h-1zM18 9h1v1h-1zM20 9h1v1h-1zM22 9h1v1h-1zM1 10h1v1h-1zM3 10h1v1h-1zM5 10h1v1h-1zM18 10h1v1h-1zM20 10h1v1h-1zM22 10h1v1h-1zM1 11h1v1h-1zM3 11h2v1h-2zM19 11h1v1h-1zM21 11h1v1h-1zM1 12h1v1h-1zM3 12h2v1h-2zM18 12h2v1h-2zM21 12h1v1h-1zM23 12h1v1h-1zM1 13h1v1h-1zM3 13h3v1h-3zM19 13h1v1h-1zM21 13h1v1h-1zM2 14h1v1h-1zM4 14h2v1h-2zM18 14h1v1h-1zM20 14h2v1h-2zM1 15h1v1h-1zM3 15h3v1h-3zM20 15h2v1h-2zM1 16h2v1h-2zM4 16h2v1h-2zM18 16h1v1h-1zM20 16h2v1h-2zM1 17h3v1h-3zM5 17h2v1h-2zM18 17h1v1h-1zM20 17h2v1h-2zM1 18h2v1h-2zM5 18h1v1h-1zM7 18h2v1h-2z"/><path fill="#ea1212" d="M9 1h8v1h-8zM7 2h3v1h-3zM6 3h3v1h-3zM6 4h2v1h-2zM5 5h2v1h-2zM7 21h1v1h-1zM13 21h1v1h-1zM7 22h1v1h-1zM13 22h1v1h-1zM7 23h1v1h-1zM9 23h1v1h-1zM13 23h1v1h-1zM7 24h3v1h-3z"/><path fill="#981414" d="M17 1h1v1h-1zM10 2h9v1h-9zM5 4h1v1h-1zM5 6h1v1h-1zM5 7h1v1h-1zM7 20h1v1h-1zM12 21h1v1h-1zM12 22h1v1h-1zM0 23h1v1h-1zM12 23h1v1h-1zM0 24h1v1h-1zM12 24h1v1h-1z"/><path fill="#f8e400" d="M9 3h8v1h-8zM9 4h9v1h-9zM4 5h1v1h-1zM9 5h9v1h-9zM3 6h2v1h-2zM11 6h3v1h-3zM17 6h1v1h-1zM3 7h2v1h-2zM14 7h2v1h-2zM3 8h1v1h-1zM13 8h1v1h-1z"/><path fill="#f8d8c4" d="M10 8h1v1h-1zM10 9h1v1h-1zM12 10h1v1h-1zM11 11h3v1h-3zM11 12h2v1h-2zM14 12h1v1h-1zM11 13h3v1h-3zM15 13h1v1h-1zM10 14h7v1h-7zM7 15h10v1h-10zM8 16h3v1h-3zM12 16h4v1h-4zM8 17h3v1h-3zM12 17h3v1h-3zM10 18h3v1h-3z"/><path fill="#0c2a84" d="M7 10h3v1h-3zM6 11h4v1h-4zM0 20h1v1h-1zM8 20h2v1h-2zM1 21h2v1h-2zM5 21h2v1h-2zM9 21h1v1h-1zM2 22h1v1h-1zM6 22h1v1h-1zM9 22h1v1h-1zM2 23h1v1h-1zM4 23h1v1h-1zM6 23h1v1h-1zM10 23h1v1h-1zM2 24h1v1h-1zM4 24h1v1h-1zM6 24h1v1h-1zM10 24h1v1h-1z"/><path fill="#ffffff" d="M10 10h1v1h-1zM15 10h1v1h-1zM10 11h1v1h-1zM15 11h2v1h-2zM10 12h1v1h-1zM15 12h2v1h-2zM0 13h1v1h-1zM10 13h1v1h-1zM16 13h1v1h-1zM23 13h2v1h-2zM0 14h1v1h-1zM23 14h2v1h-2zM0 15h1v1h-1zM23 15h2v1h-2zM0 16h1v1h-1zM23 16h1v1h-1zM23 17h1v1h-1zM16 18h1v1h-1zM18 18h2v1h-2zM24 18h1v1h-1zM14 19h1v1h-1zM17 19h4v1h-4zM22 19h1v1h-1zM24 19h1v1h-1zM2 20h1v1h-1zM6 20h1v1h-1zM11 20h1v1h-1zM13 20h1v1h-1zM16 20h1v1h-1zM18 20h3v1h-3zM22 20h1v1h-1zM24 20h1v1h-1zM3 21h1v1h-1zM15 21h2v1h-2zM18 21h2v1h-2zM21 21h2v1h-2zM24 21h1v1h-1zM16 22h1v1h-1zM18 22h2v1h-2zM22 22h3v1h-3zM11 23h1v1h-1zM16 23h1v1h-1zM22 23h2v1h-2zM23 24h2v1h-2z"/><path fill="#2452f0" d="M14 10h1v1h-1zM14 11h1v1h-1zM7 12h3v1h-3zM8 13h2v1h-2zM14 13h1v1h-1zM9 14h1v1h-1zM0 21h1v1h-1zM0 22h1v1h-1zM4 22h2v1h-2zM21 22h1v1h-1zM1 23h1v1h-1zM5 23h1v1h-1zM18 23h3v1h-3zM1 24h1v1h-1zM5 24h1v1h-1zM16 24h4v1h-4z"/><path fill="#4c92f4" d="M7 13h1v1h-1zM7 14h2v1h-2zM8 21h1v1h-1zM1 22h1v1h-1zM3 22h1v1h-1zM8 22h1v1h-1zM3 23h1v1h-1zM8 23h1v1h-1zM3 24h1v1h-1z"/><path fill="#c4c8d0" d="M9 18h1v1h-1zM23 18h1v1h-1zM0 19h2v1h-2zM5 19h7v1h-7zM13 19h1v1h-1zM1 20h1v1h-1zM4 20h2v1h-2zM10 20h1v1h-1zM14 20h1v1h-1zM21 20h1v1h-1zM4 21h1v1h-1zM14 21h1v1h-1zM20 21h1v1h-1zM10 22h1v1h-1zM14 22h2v1h-2zM17 22h1v1h-1zM14 23h2v1h-2zM17 23h1v1h-1zM24 23h1v1h-1zM11 24h1v1h-1zM13 24h3v1h-3zM20 24h1v1h-1zM22 24h1v1h-1z"/></svg></div><div class="c" style="left:287px;top:26px;background:#99aaff"></div><div class="c" style="left:313px;top:26px;background:#99aaff"><svg viewBox="0 0 25 25" shape-rendering="crispEdges" style="filter:blur(0.4px)"><path fill="#c8b850" d="M0 0h2v1h-2zM1 1h1v1h-1z"/><path fill="#2c3838" d="M2 0h1v1h-1zM0 1h1v1h-1zM0 2h1v1h-1z"/><path fill="#262a5c" d="M3 0h1v1h-1zM2 1h1v1h-1zM1 2h1v1h-1zM0 3h1v1h-1zM0 4h1v1h-1zM0 5h1v1h-1zM0 6h1v1h-1z"/><path fill="#5c5c98" d="M4 0h7v1h-7zM3 1h7v1h-7zM2 2h6v1h-6zM1 3h5v1h-5zM1 4h3v1h-3zM1 5h1v1h-1z"/><path fill="#7e1810" d="M11 0h11v1h-11zM10 1h10v1h-10zM21 1h1v1h-1zM8 2h9v1h-9zM6 3h9v1h-9zM4 4h9v1h-9zM2 5h8v1h-8zM11 5h1v1h-1zM1 6h3v1h-3zM5 6h1v1h-1zM7 6h2v1h-2zM0 7h3v1h-3zM5 7h1v1h-1zM0 8h3v1h-3zM4 8h2v1h-2zM0 9h4v1h-4zM5 9h1v1h-1zM0 10h3v1h-3zM5 10h1v1h-1zM0 11h3v1h-3zM4 11h2v1h-2zM0 12h4v1h-4zM5 12h1v1h-1zM0 13h3v1h-3zM5 13h1v1h-1zM0 14h6v1h-6zM0 15h6v1h-6z"/><path fill="#727a88" d="M22 0h3v1h-3zM22 1h3v1h-3zM22 2h3v1h-3zM22 6h1v1h-1zM22 7h1v1h-1zM22 8h1v1h-1zM0 16h1v1h-1zM5 16h1v1h-1zM0 17h1v1h-1zM5 17h1v1h-1zM0 18h1v1h-1zM5 18h1v1h-1zM0 19h1v1h-1zM5 19h1v1h-1zM0 20h1v1h-1zM5 20h1v1h-1zM0 21h1v1h-1zM5 21h1v1h-1zM0 22h1v1h-1zM5 22h1v1h-1zM7 22h1v1h-1zM0 23h1v1h-1zM5 23h1v1h-1zM7 23h2v1h-2zM0 24h1v1h-1zM5 24h1v1h-1zM7 24h2v1h-2z"/><path fill="#1c0806" d="M20 1h1v1h-1zM20 2h2v1h-2zM13 4h1v1h-1zM12 5h2v1h-2zM12 6h1v1h-1zM12 7h1v1h-1z"/><path fill="#949ca6" d="M17 2h3v1h-3zM15 3h7v1h-7zM14 4h8v1h-8zM14 5h8v1h-8zM13 6h9v1h-9zM14 7h2v1h-2zM19 7h3v1h-3zM14 8h2v1h-2zM19 8h3v1h-3zM15 9h2v1h-2zM20 9h5v1h-5zM16 10h2v1h-2zM21 10h4v1h-4zM16 11h2v1h-2zM21 11h4v1h-4zM17 12h2v1h-2zM22 12h3v1h-3zM17 13h2v1h-2zM22 13h3v1h-3zM18 14h2v1h-2zM23 14h2v1h-2zM18 15h6v1h-6zM19 16h4v1h-4zM19 17h3v1h-3zM20 18h1v1h-1z"/><path fill="#d0cabc" d="M22 3h3v1h-3zM22 4h3v1h-3zM22 5h3v1h-3z"/><path fill="#c89028" d="M10 5h1v1h-1zM9 6h3v1h-3zM10 7h1v1h-1z"/><path fill="#6c5c28" d="M4 6h1v1h-1zM3 7h2v1h-2zM3 8h1v1h-1zM4 9h1v1h-1zM3 10h2v1h-2zM3 11h1v1h-1zM4 12h1v1h-1zM3 13h2v1h-2z"/><path fill="#520c08" d="M6 6h1v1h-1zM6 7h1v1h-1zM6 8h1v1h-1zM6 9h1v1h-1zM6 10h1v1h-1zM6 11h1v1h-1zM6 12h1v1h-1zM6 13h1v1h-1zM6 14h1v1h-1zM6 15h1v1h-1z"/><path fill="#121010" d="M23 6h2v1h-2zM23 7h2v1h-2zM23 8h2v1h-2zM10 14h1v1h-1zM9 15h3v1h-3z"/><path fill="#ceb85c" d="M7 7h3v1h-3zM11 7h1v1h-1zM13 7h1v1h-1zM14 9h1v1h-1zM14 10h2v1h-2zM15 11h1v1h-1zM15 12h2v1h-2zM7 13h7v1h-7zM15 13h2v1h-2zM7 14h1v1h-1zM9 14h1v1h-1zM11 14h7v1h-7zM7 15h2v1h-2zM12 15h6v1h-6zM7 16h12v1h-12zM7 17h12v1h-12zM7 18h3v1h-3zM14 18h6v1h-6zM7 19h10v1h-10zM7 20h10v1h-10zM7 21h11v1h-11zM8 22h10v1h-10zM9 23h9v1h-9zM9 24h10v1h-10z"/><path fill="#b8c0c8" d="M16 7h3v1h-3zM16 8h3v1h-3zM17 9h3v1h-3zM18 10h3v1h-3zM18 11h3v1h-3zM19 12h3v1h-3zM19 13h3v1h-3zM20 14h3v1h-3zM1 16h4v1h-4zM1 17h4v1h-4zM1 18h4v1h-4zM1 19h4v1h-4zM1 20h4v1h-4zM1 21h4v1h-4zM1 22h4v1h-4zM1 23h4v1h-4zM1 24h4v1h-4z"/><path fill="#e0cc80" d="M7 8h7v1h-7zM7 9h7v1h-7zM7 10h7v1h-7zM7 11h5v1h-5zM7 12h7v1h-7z"/><path fill="#8c7434" d="M12 11h3v1h-3zM17 19h3v1h-3zM17 20h3v1h-3zM18 21h3v1h-3zM18 22h3v1h-3zM18 23h3v1h-3zM19 24h3v1h-3z"/><path fill="#4a74e0" d="M14 12h1v1h-1zM14 13h1v1h-1zM8 14h1v1h-1z"/><path fill="#103818" d="M24 15h1v1h-1zM23 16h2v1h-2zM22 17h3v1h-3zM21 18h4v1h-4zM20 19h5v1h-5zM20 20h5v1h-5zM21 21h4v1h-4zM21 22h4v1h-4zM21 23h4v1h-4zM22 24h3v1h-3z"/><path fill="#444650" d="M6 16h1v1h-1zM6 17h1v1h-1zM6 18h1v1h-1zM6 19h1v1h-1zM6 20h1v1h-1zM6 21h1v1h-1zM6 22h1v1h-1zM6 23h1v1h-1zM6 24h1v1h-1z"/><path fill="#6c1c10" d="M10 18h4v1h-4z"/></svg></div><div class="c" style="left:339px;top:26px;background:#99aaff"></div><div class="c" style="left:365px;top:26px;background:#99aaff"></div><div class="c" style="left:391px;top:26px;background:#99aaff"></div><div class="c" style="left:417px;top:26px;background:#99aaff"><svg viewBox="0 0 25 25" shape-rendering="crispEdges" style="filter:blur(0.4px)"><path fill="#c8b850" d="M0 0h2v1h-2zM1 1h1v1h-1z"/><path fill="#2c3838" d="M2 0h1v1h-1zM0 1h1v1h-1zM0 2h1v1h-1z"/><path fill="#262a5c" d="M3 0h1v1h-1zM2 1h1v1h-1zM1 2h1v1h-1zM0 3h1v1h-1zM0 4h1v1h-1zM0 5h1v1h-1zM0 6h1v1h-1z"/><path fill="#5c5c98" d="M4 0h7v1h-7zM3 1h7v1h-7zM2 2h6v1h-6zM1 3h5v1h-5zM1 4h3v1h-3zM1 5h1v1h-1z"/><path fill="#7e1810" d="M11 0h11v1h-11zM10 1h10v1h-10zM21 1h1v1h-1zM8 2h9v1h-9zM6 3h9v1h-9zM4 4h9v1h-9zM2 5h8v1h-8zM11 5h1v1h-1zM1 6h3v1h-3zM5 6h1v1h-1zM7 6h2v1h-2zM0 7h3v1h-3zM5 7h1v1h-1zM0 8h3v1h-3zM4 8h2v1h-2zM0 9h4v1h-4zM5 9h1v1h-1zM0 10h3v1h-3zM5 10h1v1h-1zM0 11h3v1h-3zM4 11h2v1h-2zM0 12h4v1h-4zM5 12h1v1h-1zM0 13h3v1h-3zM5 13h1v1h-1zM0 14h6v1h-6zM0 15h6v1h-6z"/><path fill="#727a88" d="M22 0h3v1h-3zM22 1h3v1h-3zM22 2h3v1h-3zM22 6h1v1h-1zM22 7h1v1h-1zM22 8h1v1h-1zM0 16h1v1h-1zM5 16h1v1h-1zM0 17h1v1h-1zM5 17h1v1h-1zM0 18h1v1h-1zM5 18h1v1h-1zM0 19h1v1h-1zM5 19h1v1h-1zM0 20h1v1h-1zM5 20h1v1h-1zM0 21h1v1h-1zM5 21h1v1h-1zM0 22h1v1h-1zM5 22h1v1h-1zM7 22h1v1h-1zM0 23h1v1h-1zM5 23h1v1h-1zM7 23h2v1h-2zM0 24h1v1h-1zM5 24h1v1h-1zM7 24h2v1h-2z"/><path fill="#1c0806" d="M20 1h1v1h-1zM20 2h2v1h-2zM13 4h1v1h-1zM12 5h2v1h-2zM12 6h1v1h-1zM12 7h1v1h-1z"/><path fill="#949ca6" d="M17 2h3v1h-3zM15 3h7v1h-7zM14 4h8v1h-8zM14 5h8v1h-8zM13 6h9v1h-9zM14 7h2v1h-2zM19 7h3v1h-3zM14 8h2v1h-2zM19 8h3v1h-3zM15 9h2v1h-2zM20 9h5v1h-5zM16 10h2v1h-2zM21 10h4v1h-4zM16 11h2v1h-2zM21 11h4v1h-4zM17 12h2v1h-2zM22 12h3v1h-3zM17 13h2v1h-2zM22 13h3v1h-3zM18 14h2v1h-2zM23 14h2v1h-2zM18 15h6v1h-6zM19 16h4v1h-4zM19 17h3v1h-3zM20 18h1v1h-1z"/><path fill="#d0cabc" d="M22 3h3v1h-3zM22 4h3v1h-3zM22 5h3v1h-3z"/><path fill="#c89028" d="M10 5h1v1h-1zM9 6h3v1h-3zM10 7h1v1h-1z"/><path fill="#6c5c28" d="M4 6h1v1h-1zM3 7h2v1h-2zM3 8h1v1h-1zM4 9h1v1h-1zM3 10h2v1h-2zM3 11h1v1h-1zM4 12h1v1h-1zM3 13h2v1h-2z"/><path fill="#520c08" d="M6 6h1v1h-1zM6 7h1v1h-1zM6 8h1v1h-1zM6 9h1v1h-1zM6 10h1v1h-1zM6 11h1v1h-1zM6 12h1v1h-1zM6 13h1v1h-1zM6 14h1v1h-1zM6 15h1v1h-1z"/><path fill="#121010" d="M23 6h2v1h-2zM23 7h2v1h-2zM23 8h2v1h-2zM10 14h1v1h-1zM9 15h3v1h-3z"/><path fill="#ceb85c" d="M7 7h3v1h-3zM11 7h1v1h-1zM13 7h1v1h-1zM14 9h1v1h-1zM14 10h2v1h-2zM15 11h1v1h-1zM15 12h2v1h-2zM7 13h7v1h-7zM15 13h2v1h-2zM7 14h1v1h-1zM9 14h1v1h-1zM11 14h7v1h-7zM7 15h2v1h-2zM12 15h6v1h-6zM7 16h12v1h-12zM7 17h12v1h-12zM7 18h3v1h-3zM14 18h6v1h-6zM7 19h10v1h-10zM7 20h10v1h-10zM7 21h11v1h-11zM8 22h10v1h-10zM9 23h9v1h-9zM9 24h10v1h-10z"/><path fill="#b8c0c8" d="M16 7h3v1h-3zM16 8h3v1h-3zM17 9h3v1h-3zM18 10h3v1h-3zM18 11h3v1h-3zM19 12h3v1h-3zM19 13h3v1h-3zM20 14h3v1h-3zM1 16h4v1h-4zM1 17h4v1h-4zM1 18h4v1h-4zM1 19h4v1h-4zM1 20h4v1h-4zM1 21h4v1h-4zM1 22h4v1h-4zM1 23h4v1h-4zM1 24h4v1h-4z"/><path fill="#e0cc80" d="M7 8h7v1h-7zM7 9h7v1h-7zM7 10h7v1h-7zM7 11h5v1h-5zM7 12h7v1h-7z"/><path fill="#8c7434" d="M12 11h3v1h-3zM17 19h3v1h-3zM17 20h3v1h-3zM18 21h3v1h-3zM18 22h3v1h-3zM18 23h3v1h-3zM19 24h3v1h-3z"/><path fill="#4a74e0" d="M14 12h1v1h-1zM14 13h1v1h-1zM8 14h1v1h-1z"/><path fill="#103818" d="M24 15h1v1h-1zM23 16h2v1h-2zM22 17h3v1h-3zM21 18h4v1h-4zM20 19h5v1h-5zM20 20h5v1h-5zM21 21h4v1h-4zM21 22h4v1h-4zM21 23h4v1h-4zM22 24h3v1h-3z"/><path fill="#444650" d="M6 16h1v1h-1zM6 17h1v1h-1zM6 18h1v1h-1zM6 19h1v1h-1zM6 20h1v1h-1zM6 21h1v1h-1zM6 22h1v1h-1zM6 23h1v1h-1zM6 24h1v1h-1z"/><path fill="#6c1c10" d="M10 18h4v1h-4z"/></svg></div><div class="c" style="left:443px;top:26px;background:#99aaff"><svg viewBox="0 0 25 25" shape-rendering="crispEdges"><path fill="#eef3fb" d="M0 0h10v1h-10zM17 0h8v1h-8zM0 1h7v1h-7zM21 1h4v1h-4zM0 2h5v1h-5zM22 2h3v1h-3zM0 3h4v1h-4zM22 3h3v1h-3zM0 4h3v1h-3zM22 4h3v1h-3zM0 5h2v1h-2zM21 5h4v1h-4zM0 6h1v1h-1zM23 6h2v1h-2zM23 7h2v1h-2zM0 8h2v1h-2zM24 8h1v1h-1zM0 9h1v1h-1zM24 9h1v1h-1zM0 10h1v1h-1zM24 10h1v1h-1zM0 11h1v1h-1zM24 11h1v1h-1zM0 12h1v1h-1zM24 12h1v1h-1zM0 13h1v1h-1zM0 14h1v1h-1zM0 15h1v1h-1z"/><path fill="#10583a" d="M10 0h7v1h-7zM7 1h3v1h-3zM5 2h2v1h-2zM4 3h1v1h-1zM16 3h1v1h-1zM3 4h1v1h-1zM2 5h1v1h-1zM1 6h1v1h-1zM0 7h1v1h-1zM3 7h1v1h-1zM13 7h1v1h-1zM20 7h1v1h-1zM2 8h1v1h-1zM20 8h1v1h-1zM1 9h1v1h-1zM1 10h1v1h-1zM20 10h1v1h-1zM1 11h1v1h-1zM1 12h1v1h-1zM18 12h1v1h-1zM23 12h1v1h-1zM1 13h1v1h-1zM3 13h1v1h-1zM7 13h1v1h-1zM19 13h1v1h-1zM6 14h2v1h-2zM18 14h1v1h-1zM7 15h2v1h-2zM6 16h1v1h-1zM17 16h1v1h-1zM16 18h1v1h-1zM22 18h1v1h-1zM19 19h1v1h-1zM19 22h1v1h-1zM21 23h1v1h-1zM19 24h1v1h-1zM23 24h1v1h-1z"/><path fill="#12a322" d="M10 1h8v1h-8zM16 2h2v1h-2zM5 3h1v1h-1zM17 3h1v1h-1zM4 4h2v1h-2zM14 4h5v1h-5zM3 5h5v1h-5zM13 5h1v1h-1zM19 5h1v1h-1zM2 6h4v1h-4zM10 6h3v1h-3zM14 6h5v1h-5zM20 6h2v1h-2zM1 7h2v1h-2zM4 7h1v1h-1zM6 7h4v1h-4zM11 7h2v1h-2zM14 7h6v1h-6zM21 7h1v1h-1zM3 8h5v1h-5zM9 8h4v1h-4zM19 8h1v1h-1zM21 8h2v1h-2zM2 9h5v1h-5zM10 9h3v1h-3zM19 9h4v1h-4zM2 10h5v1h-5zM19 10h1v1h-1zM21 10h2v1h-2zM2 11h4v1h-4zM19 11h5v1h-5zM2 12h5v1h-5zM19 12h4v1h-4zM2 13h1v1h-1zM4 13h3v1h-3zM20 13h2v1h-2zM23 13h2v1h-2zM4 14h2v1h-2zM19 14h3v1h-3zM23 14h2v1h-2zM5 15h2v1h-2zM18 15h3v1h-3zM22 15h3v1h-3zM18 16h2v1h-2zM21 16h4v1h-4zM18 17h1v1h-1zM20 17h5v1h-5zM19 18h3v1h-3zM23 18h2v1h-2zM17 19h2v1h-2zM21 19h4v1h-4zM18 20h1v1h-1zM21 20h4v1h-4zM19 21h6v1h-6zM20 22h5v1h-5zM20 23h1v1h-1zM22 23h3v1h-3zM20 24h1v1h-1zM22 24h1v1h-1zM24 24h1v1h-1z"/><path fill="#141014" d="M18 1h1v1h-1zM18 2h1v1h-1zM14 5h5v1h-5zM6 6h4v1h-4zM13 6h1v1h-1zM19 6h1v1h-1zM22 6h1v1h-1zM5 7h1v1h-1zM10 7h1v1h-1zM22 7h1v1h-1zM13 8h6v1h-6zM23 8h1v1h-1zM7 9h1v1h-1zM9 9h1v1h-1zM13 9h1v1h-1zM18 9h1v1h-1zM23 9h1v1h-1zM7 10h1v1h-1zM10 10h1v1h-1zM18 10h1v1h-1zM23 10h1v1h-1zM6 11h2v1h-2zM18 11h1v1h-1zM7 12h1v1h-1zM22 13h1v1h-1zM1 14h1v1h-1zM3 14h1v1h-1zM22 14h1v1h-1zM4 15h1v1h-1zM21 15h1v1h-1zM5 16h1v1h-1zM7 16h1v1h-1zM20 16h1v1h-1zM6 17h2v1h-2zM17 17h1v1h-1zM19 17h1v1h-1zM6 18h4v1h-4zM15 18h1v1h-1zM18 18h1v1h-1zM2 19h1v1h-1zM9 19h2v1h-2zM13 19h1v1h-1zM15 19h1v1h-1zM4 20h1v1h-1zM17 20h1v1h-1zM4 21h1v1h-1zM18 21h1v1h-1zM5 22h1v1h-1zM19 23h1v1h-1zM21 24h1v1h-1z"/><path fill="#2255ee" d="M19 1h1v1h-1zM19 2h3v1h-3zM20 3h1v1h-1zM20 4h2v1h-2zM20 5h1v1h-1zM14 9h3v1h-3zM9 10h1v1h-1zM9 11h1v1h-1zM13 11h2v1h-2zM14 12h2v1h-2zM9 13h1v1h-1zM8 19h1v1h-1zM12 19h1v1h-1zM14 19h1v1h-1zM1 20h1v1h-1zM12 20h1v1h-1zM15 20h1v1h-1zM1 21h2v1h-2zM12 21h2v1h-2zM15 21h1v1h-1zM1 22h2v1h-2zM12 22h1v1h-1zM15 22h2v1h-2zM2 23h1v1h-1zM12 23h1v1h-1zM16 23h1v1h-1zM2 24h1v1h-1zM12 24h1v1h-1zM16 24h1v1h-1z"/><path fill="#e41414" d="M20 1h1v1h-1zM21 3h1v1h-1zM13 14h3v1h-3zM13 15h3v1h-3zM14 16h2v1h-2z"/><path fill="#44dd44" d="M7 2h9v1h-9zM6 3h10v1h-10zM6 4h8v1h-8zM8 5h5v1h-5z"/><path fill="#ffffff" d="M18 3h2v1h-2zM19 4h1v1h-1zM8 9h1v1h-1zM17 9h1v1h-1zM8 10h1v1h-1zM17 10h1v1h-1zM8 11h1v1h-1zM15 11h3v1h-3zM8 12h2v1h-2zM16 12h2v1h-2zM2 14h1v1h-1zM1 15h3v1h-3zM1 16h4v1h-4zM5 17h1v1h-1zM3 18h2v1h-2zM17 18h1v1h-1zM6 19h1v1h-1zM16 19h1v1h-1zM2 20h1v1h-1zM6 20h2v1h-2zM14 20h1v1h-1zM19 20h2v1h-2zM3 21h1v1h-1zM6 21h2v1h-2zM11 21h1v1h-1zM14 21h1v1h-1zM3 22h2v1h-2zM6 22h1v1h-1zM8 22h1v1h-1zM11 22h1v1h-1zM13 22h2v1h-2zM3 23h3v1h-3zM8 23h1v1h-1zM11 23h1v1h-1zM13 23h3v1h-3zM3 24h3v1h-3zM8 24h1v1h-1zM11 24h1v1h-1zM13 24h3v1h-3z"/><path fill="#a8602c" d="M8 8h1v1h-1zM0 16h1v1h-1zM8 16h1v1h-1zM0 17h1v1h-1zM8 17h2v1h-2zM0 18h1v1h-1zM10 18h3v1h-3zM0 19h2v1h-2zM11 19h1v1h-1zM0 20h1v1h-1zM16 20h1v1h-1zM5 21h1v1h-1zM16 21h2v1h-2zM10 22h1v1h-1zM17 22h2v1h-2zM10 23h1v1h-1zM18 23h1v1h-1z"/><path fill="#f8d9c4" d="M11 10h2v1h-2zM10 11h3v1h-3zM10 12h4v1h-4zM8 13h1v1h-1zM10 13h9v1h-9zM8 14h5v1h-5zM16 14h2v1h-2zM9 15h4v1h-4zM16 15h2v1h-2zM9 16h5v1h-5zM16 16h1v1h-1zM10 17h7v1h-7zM13 18h2v1h-2zM3 19h1v1h-1zM3 20h1v1h-1zM10 20h2v1h-2zM13 20h1v1h-1zM10 21h1v1h-1zM10 24h1v1h-1z"/><path fill="#0c2f8c" d="M13 10h4v1h-4zM8 20h2v1h-2zM8 21h2v1h-2zM9 22h1v1h-1zM1 23h1v1h-1zM9 23h1v1h-1zM1 24h1v1h-1zM9 24h1v1h-1z"/><path fill="#c4c8d4" d="M1 17h4v1h-4zM1 18h2v1h-2zM5 18h1v1h-1zM4 19h2v1h-2zM7 19h1v1h-1zM20 19h1v1h-1zM5 20h1v1h-1zM0 21h1v1h-1zM0 22h1v1h-1zM7 22h1v1h-1zM0 23h1v1h-1zM6 23h2v1h-2zM17 23h1v1h-1zM0 24h1v1h-1zM6 24h2v1h-2zM17 24h2v1h-2z"/></svg></div><div class="c" style="left:469px;top:26px;background:#99aaff"></div><div class="c" style="left:495px;top:26px;background:#99aaff"><svg viewBox="0 0 25 25" shape-rendering="crispEdges"><path fill="#eef3fb" d="M0 0h7v1h-7zM17 0h8v1h-8zM0 1h5v1h-5zM19 1h6v1h-6zM0 2h3v1h-3zM21 2h4v1h-4zM0 3h2v1h-2zM22 3h3v1h-3zM0 4h2v1h-2zM22 4h3v1h-3zM0 5h1v1h-1zM22 5h3v1h-3zM0 6h1v1h-1zM23 6h2v1h-2zM23 7h2v1h-2zM23 8h2v1h-2zM24 9h1v1h-1zM24 10h1v1h-1zM24 11h1v1h-1zM24 12h1v1h-1z"/><path fill="#8c5210" d="M7 0h3v1h-3zM5 1h1v1h-1zM8 1h1v1h-1zM3 2h1v1h-1zM6 2h1v1h-1zM2 3h1v1h-1zM4 3h1v1h-1zM18 3h1v1h-1zM20 3h1v1h-1zM2 4h1v1h-1zM4 4h1v1h-1zM18 4h1v1h-1zM20 4h1v1h-1zM1 5h1v1h-1zM3 5h1v1h-1zM19 5h1v1h-1zM2 6h1v1h-1zM19 6h1v1h-1zM21 6h1v1h-1zM0 7h1v1h-1zM2 7h1v1h-1zM19 7h1v1h-1zM21 7h1v1h-1zM0 8h1v1h-1zM2 8h1v1h-1zM18 8h1v1h-1zM20 8h1v1h-1zM0 9h1v1h-1zM2 9h1v1h-1zM9 9h1v1h-1zM17 9h1v1h-1zM19 9h1v1h-1zM21 9h1v1h-1zM0 10h1v1h-1zM2 10h1v1h-1zM4 10h1v1h-1zM17 10h1v1h-1zM19 10h1v1h-1zM21 10h1v1h-1zM0 11h1v1h-1zM2 11h1v1h-1zM18 11h1v1h-1zM20 11h1v1h-1zM22 11h1v1h-1zM0 12h1v1h-1zM2 12h1v1h-1zM5 12h1v1h-1zM13 12h1v1h-1zM20 12h1v1h-1zM22 12h1v1h-1zM2 13h1v1h-1zM17 13h2v1h-2zM20 13h1v1h-1zM22 13h1v1h-1zM1 14h1v1h-1zM3 14h1v1h-1zM6 14h1v1h-1zM17 14h1v1h-1zM19 14h1v1h-1zM22 14h1v1h-1zM2 15h1v1h-1zM6 15h1v1h-1zM17 15h2v1h-2zM22 15h1v1h-1zM6 16h1v1h-1zM11 16h1v1h-1zM16 16h2v1h-2zM22 16h1v1h-1zM24 16h1v1h-1zM0 17h1v1h-1zM11 17h1v1h-1zM15 17h1v1h-1zM19 17h1v1h-1zM22 17h1v1h-1zM24 17h1v1h-1zM0 18h1v1h-1zM6 18h1v1h-1zM13 18h2v1h-2zM20 18h1v1h-1zM22 18h1v1h-1zM23 20h1v1h-1z"/><path fill="#141010" d="M10 0h7v1h-7zM18 1h1v1h-1zM20 2h1v1h-1zM21 3h1v1h-1zM21 4h1v1h-1zM21 5h1v1h-1zM14 6h3v1h-3zM22 6h1v1h-1zM6 7h5v1h-5zM13 7h1v1h-1zM17 7h1v1h-1zM22 7h1v1h-1zM5 8h1v1h-1zM11 8h1v1h-1zM22 8h1v1h-1zM11 9h1v1h-1zM14 9h2v1h-2zM23 9h1v1h-1zM6 10h1v1h-1zM11 10h1v1h-1zM13 10h1v1h-1zM16 10h1v1h-1zM23 10h1v1h-1zM5 11h1v1h-1zM17 11h1v1h-1zM23 11h1v1h-1zM6 12h1v1h-1zM17 12h1v1h-1zM6 13h1v1h-1zM19 15h1v1h-1zM3 16h1v1h-1zM7 16h1v1h-1zM19 16h1v1h-1zM4 17h1v1h-1zM7 17h1v1h-1zM16 17h2v1h-2zM3 18h2v1h-2zM15 18h1v1h-1zM17 18h1v1h-1zM21 18h1v1h-1zM2 19h3v1h-3zM12 19h1v1h-1zM15 19h2v1h-2zM21 19h1v1h-1zM23 19h1v1h-1zM3 20h1v1h-1zM12 20h1v1h-1zM15 20h1v1h-1zM17 20h1v1h-1zM10 21h2v1h-2zM17 21h1v1h-1zM23 21h1v1h-1zM11 22h1v1h-1zM20 22h1v1h-1zM21 23h1v1h-1zM21 24h1v1h-1z"/><path fill="#e8a014" d="M6 1h2v1h-2zM4 2h2v1h-2zM19 2h1v1h-1zM3 3h1v1h-1zM5 3h1v1h-1zM17 3h1v1h-1zM19 3h1v1h-1zM3 4h1v1h-1zM8 4h1v1h-1zM19 4h1v1h-1zM2 5h1v1h-1zM7 5h2v1h-2zM18 5h1v1h-1zM20 5h1v1h-1zM1 6h1v1h-1zM6 6h5v1h-5zM18 6h1v1h-1zM20 6h1v1h-1zM1 7h1v1h-1zM11 7h2v1h-2zM16 7h1v1h-1zM18 7h1v1h-1zM20 7h1v1h-1zM1 8h1v1h-1zM4 8h1v1h-1zM6 8h4v1h-4zM12 8h1v1h-1zM14 8h4v1h-4zM19 8h1v1h-1zM21 8h1v1h-1zM1 9h1v1h-1zM3 9h6v1h-6zM12 9h2v1h-2zM16 9h1v1h-1zM18 9h1v1h-1zM20 9h1v1h-1zM22 9h1v1h-1zM1 10h1v1h-1zM3 10h1v1h-1zM5 10h1v1h-1zM18 10h1v1h-1zM20 10h1v1h-1zM22 10h1v1h-1zM1 11h1v1h-1zM3 11h2v1h-2zM19 11h1v1h-1zM21 11h1v1h-1zM1 12h1v1h-1zM3 12h2v1h-2zM18 12h2v1h-2zM21 12h1v1h-1zM23 12h1v1h-1zM1 13h1v1h-1zM3 13h3v1h-3zM19 13h1v1h-1zM21 13h1v1h-1zM2 14h1v1h-1zM4 14h2v1h-2zM18 14h1v1h-1zM20 14h2v1h-2zM1 15h1v1h-1zM3 15h3v1h-3zM20 15h2v1h-2zM1 16h2v1h-2zM4 16h2v1h-2zM18 16h1v1h-1zM20 16h2v1h-2zM1 17h3v1h-3zM5 17h2v1h-2zM18 17h1v1h-1zM20 17h2v1h-2zM1 18h2v1h-2zM5 18h1v1h-1zM7 18h2v1h-2z"/><path fill="#ea1212" d="M9 1h8v1h-8zM7 2h3v1h-3zM6 3h3v1h-3zM6 4h2v1h-2zM5 5h2v1h-2zM7 21h1v1h-1zM13 21h1v1h-1zM7 22h1v1h-1zM13 22h1v1h-1zM7 23h1v1h-1zM9 23h1v1h-1zM13 23h1v1h-1zM7 24h3v1h-3z"/><path fill="#981414" d="M17 1h1v1h-1zM10 2h9v1h-9zM5 4h1v1h-1zM5 6h1v1h-1zM5 7h1v1h-1zM7 20h1v1h-1zM12 21h1v1h-1zM12 22h1v1h-1zM0 23h1v1h-1zM12 23h1v1h-1zM0 24h1v1h-1zM12 24h1v1h-1z"/><path fill="#f8e400" d="M9 3h8v1h-8zM9 4h9v1h-9zM4 5h1v1h-1zM9 5h9v1h-9zM3 6h2v1h-2zM11 6h3v1h-3zM17 6h1v1h-1zM3 7h2v1h-2zM14 7h2v1h-2zM3 8h1v1h-1zM13 8h1v1h-1z"/><path fill="#f8d8c4" d="M10 8h1v1h-1zM10 9h1v1h-1zM12 10h1v1h-1zM11 11h3v1h-3zM11 12h2v1h-2zM14 12h1v1h-1zM11 13h3v1h-3zM15 13h1v1h-1zM10 14h7v1h-7zM7 15h10v1h-10zM8 16h3v1h-3zM12 16h4v1h-4zM8 17h3v1h-3zM12 17h3v1h-3zM10 18h3v1h-3z"/><path fill="#0c2a84" d="M7 10h3v1h-3zM6 11h4v1h-4zM0 20h1v1h-1zM8 20h2v1h-2zM1 21h2v1h-2zM5 21h2v1h-2zM9 21h1v1h-1zM2 22h1v1h-1zM6 22h1v1h-1zM9 22h1v1h-1zM2 23h1v1h-1zM4 23h1v1h-1zM6 23h1v1h-1zM10 23h1v1h-1zM2 24h1v1h-1zM4 24h1v1h-1zM6 24h1v1h-1zM10 24h1v1h-1z"/><path fill="#ffffff" d="M10 10h1v1h-1zM15 10h1v1h-1zM10 11h1v1h-1zM15 11h2v1h-2zM10 12h1v1h-1zM15 12h2v1h-2zM0 13h1v1h-1zM10 13h1v1h-1zM16 13h1v1h-1zM23 13h2v1h-2zM0 14h1v1h-1zM23 14h2v1h-2zM0 15h1v1h-1zM23 15h2v1h-2zM0 16h1v1h-1zM23 16h1v1h-1zM23 17h1v1h-1zM16 18h1v1h-1zM18 18h2v1h-2zM24 18h1v1h-1zM14 19h1v1h-1zM17 19h4v1h-4zM22 19h1v1h-1zM24 19h1v1h-1zM2 20h1v1h-1zM6 20h1v1h-1zM11 20h1v1h-1zM13 20h1v1h-1zM16 20h1v1h-1zM18 20h3v1h-3zM22 20h1v1h-1zM24 20h1v1h-1zM3 21h1v1h-1zM15 21h2v1h-2zM18 21h2v1h-2zM21 21h2v1h-2zM24 21h1v1h-1zM16 22h1v1h-1zM18 22h2v1h-2zM22 22h3v1h-3zM11 23h1v1h-1zM16 23h1v1h-1zM22 23h2v1h-2zM23 24h2v1h-2z"/><path fill="#2452f0" d="M14 10h1v1h-1zM14 11h1v1h-1zM7 12h3v1h-3zM8 13h2v1h-2zM14 13h1v1h-1zM9 14h1v1h-1zM0 21h1v1h-1zM0 22h1v1h-1zM4 22h2v1h-2zM21 22h1v1h-1zM1 23h1v1h-1zM5 23h1v1h-1zM18 23h3v1h-3zM1 24h1v1h-1zM5 24h1v1h-1zM16 24h4v1h-4z"/><path fill="#4c92f4" d="M7 13h1v1h-1zM7 14h2v1h-2zM8 21h1v1h-1zM1 22h1v1h-1zM3 22h1v1h-1zM8 22h1v1h-1zM3 23h1v1h-1zM8 23h1v1h-1zM3 24h1v1h-1z"/><path fill="#c4c8d0" d="M9 18h1v1h-1zM23 18h1v1h-1zM0 19h2v1h-2zM5 19h7v1h-7zM13 19h1v1h-1zM1 20h1v1h-1zM4 20h2v1h-2zM10 20h1v1h-1zM14 20h1v1h-1zM21 20h1v1h-1zM4 21h1v1h-1zM14 21h1v1h-1zM20 21h1v1h-1zM10 22h1v1h-1zM14 22h2v1h-2zM17 22h1v1h-1zM14 23h2v1h-2zM17 23h1v1h-1zM24 23h1v1h-1zM11 24h1v1h-1zM13 24h3v1h-3zM20 24h1v1h-1zM22 24h1v1h-1z"/></svg></div><div class="c" style="left:521px;top:26px;background:#99aaff"></div><div class="c" style="left:547px;top:26px;background:#99aaff"></div><div class="c" style="left:573px;top:26px;background:#99aaff"><svg viewBox="0 0 25 25" shape-rendering="crispEdges"><path fill="#eef2fa" d="M0 0h5v1h-5zM13 0h8v1h-8zM23 0h2v1h-2zM0 1h5v1h-5zM13 1h7v1h-7zM22 1h3v1h-3zM0 2h4v1h-4zM0 3h4v1h-4zM0 4h3v1h-3zM0 5h2v1h-2zM0 6h1v1h-1z"/><path fill="#a8acb8" d="M5 0h1v1h-1zM21 0h2v1h-2zM5 1h1v1h-1zM20 1h1v1h-1zM4 2h1v1h-1zM8 2h1v1h-1zM20 2h1v1h-1zM4 3h1v1h-1zM7 3h1v1h-1zM3 4h1v1h-1zM7 4h1v1h-1zM2 5h2v1h-2zM7 5h1v1h-1zM1 6h1v1h-1zM0 7h1v1h-1zM6 7h1v1h-1zM14 20h1v1h-1zM17 20h1v1h-1zM15 21h1v1h-1zM17 21h1v1h-1z"/><path fill="#ffffff" d="M6 0h2v1h-2zM9 0h2v1h-2zM12 0h1v1h-1zM6 1h2v1h-2zM10 1h1v1h-1zM21 1h1v1h-1zM5 2h3v1h-3zM13 2h1v1h-1zM5 3h2v1h-2zM8 3h2v1h-2zM23 3h2v1h-2zM4 4h3v1h-3zM8 4h1v1h-1zM23 4h2v1h-2zM4 5h3v1h-3zM23 5h2v1h-2zM2 6h5v1h-5zM24 6h1v1h-1zM1 7h5v1h-5zM0 8h6v1h-6zM0 9h6v1h-6zM0 10h5v1h-5zM0 11h5v1h-5zM0 12h5v1h-5zM8 12h1v1h-1zM19 12h2v1h-2zM20 13h1v1h-1zM0 14h2v1h-2zM3 14h2v1h-2zM19 14h2v1h-2zM2 15h3v1h-3zM19 15h1v1h-1zM0 16h3v1h-3zM0 17h3v1h-3zM4 17h1v1h-1zM0 18h3v1h-3zM4 18h2v1h-2zM0 19h3v1h-3zM5 19h4v1h-4zM0 20h3v1h-3zM0 21h3v1h-3zM0 22h3v1h-3zM0 23h1v1h-1z"/><path fill="#f4eaf4" d="M8 0h1v1h-1z"/><path fill="#141414" d="M11 0h1v1h-1zM11 1h2v1h-2zM12 2h1v1h-1zM6 8h1v1h-1zM22 8h1v1h-1zM17 9h6v1h-6zM5 10h1v1h-1zM15 10h1v1h-1zM22 10h1v1h-1zM5 11h1v1h-1zM22 11h1v1h-1zM5 12h1v1h-1zM16 12h1v1h-1zM21 12h1v1h-1zM16 13h1v1h-1zM21 13h1v1h-1zM2 14h1v1h-1zM5 14h1v1h-1zM17 14h1v1h-1zM21 14h1v1h-1zM0 15h2v1h-2zM20 15h1v1h-1zM3 16h1v1h-1zM3 17h1v1h-1zM20 17h1v1h-1zM3 18h1v1h-1zM11 18h1v1h-1zM19 18h1v1h-1zM3 19h2v1h-2zM9 19h3v1h-3zM17 19h2v1h-2zM3 20h1v1h-1zM5 20h3v1h-3zM12 20h1v1h-1zM15 20h2v1h-2zM18 20h1v1h-1zM3 21h1v1h-1zM8 21h1v1h-1zM14 21h1v1h-1zM16 21h1v1h-1zM18 21h1v1h-1zM3 22h1v1h-1zM8 22h1v1h-1zM13 22h2v1h-2zM17 22h1v1h-1zM1 23h3v1h-3zM8 23h1v1h-1zM14 23h1v1h-1zM18 23h1v1h-1zM0 24h2v1h-2zM3 24h1v1h-1zM8 24h1v1h-1zM15 24h1v1h-1zM19 24h1v1h-1z"/><path fill="#5eeeaa" d="M8 1h1v1h-1zM9 2h3v1h-3zM21 2h4v1h-4zM21 3h1v1h-1zM12 10h1v1h-1zM12 11h1v1h-1zM12 12h1v1h-1zM17 12h2v1h-2zM0 13h14v1h-14zM17 13h3v1h-3zM6 14h1v1h-1zM9 14h5v1h-5zM18 14h1v1h-1zM12 15h1v1h-1zM18 15h1v1h-1zM18 16h1v1h-1zM15 22h1v1h-1zM15 23h2v1h-2zM16 24h2v1h-2z"/><path fill="#34d06a" d="M9 1h1v1h-1zM11 3h10v1h-10zM22 3h1v1h-1zM10 4h11v1h-11zM22 4h1v1h-1zM10 5h12v1h-12zM10 6h10v1h-10zM21 6h2v1h-2zM11 7h12v1h-12zM2 24h1v1h-1z"/><path fill="#0c6a2c" d="M14 2h6v1h-6zM9 4h1v1h-1zM21 4h1v1h-1zM8 5h1v1h-1zM22 5h1v1h-1zM7 6h3v1h-3zM20 6h1v1h-1zM23 6h1v1h-1zM7 7h1v1h-1zM24 7h1v1h-1zM9 8h1v1h-1zM12 8h1v1h-1zM11 12h1v1h-1zM14 12h1v1h-1zM23 13h1v1h-1zM7 14h2v1h-2zM14 14h1v1h-1zM21 15h1v1h-1zM23 15h1v1h-1zM11 16h1v1h-1zM20 16h1v1h-1zM10 17h1v1h-1zM22 17h1v1h-1zM23 18h1v1h-1zM21 20h1v1h-1zM23 21h1v1h-1zM24 24h1v1h-1z"/><path fill="#1e9e4a" d="M10 3h1v1h-1zM9 5h1v1h-1zM8 7h3v1h-3zM23 7h1v1h-1zM7 8h2v1h-2zM10 8h2v1h-2zM13 8h9v1h-9zM23 8h2v1h-2zM6 9h11v1h-11zM23 9h2v1h-2zM6 10h1v1h-1zM9 10h3v1h-3zM13 10h2v1h-2zM17 10h5v1h-5zM23 10h2v1h-2zM6 11h1v1h-1zM10 11h2v1h-2zM13 11h2v1h-2zM16 11h6v1h-6zM23 11h2v1h-2zM6 12h1v1h-1zM10 12h1v1h-1zM13 12h1v1h-1zM22 12h3v1h-3zM14 13h1v1h-1zM22 13h1v1h-1zM24 13h1v1h-1zM22 14h3v1h-3zM22 15h1v1h-1zM24 15h1v1h-1zM12 16h1v1h-1zM21 16h4v1h-4zM11 17h1v1h-1zM21 17h1v1h-1zM23 17h2v1h-2zM10 18h1v1h-1zM20 18h3v1h-3zM24 18h1v1h-1zM19 19h6v1h-6zM19 20h2v1h-2zM22 20h3v1h-3zM19 21h4v1h-4zM24 21h1v1h-1zM19 22h6v1h-6zM19 23h6v1h-6zM20 24h4v1h-4z"/><path fill="#b0643e" d="M7 10h2v1h-2zM7 11h1v1h-1zM9 11h1v1h-1zM15 11h1v1h-1zM7 12h1v1h-1zM9 12h1v1h-1zM5 15h1v1h-1zM11 15h1v1h-1zM4 16h1v1h-1zM9 16h1v1h-1zM6 17h3v1h-3zM18 17h1v1h-1zM7 18h1v1h-1zM12 18h1v1h-1zM16 18h1v1h-1zM14 19h2v1h-2z"/><path fill="#f6d6c2" d="M16 10h1v1h-1zM8 11h1v1h-1zM15 12h1v1h-1zM15 13h1v1h-1zM15 14h2v1h-2zM6 15h5v1h-5zM13 15h5v1h-5zM5 16h4v1h-4zM10 16h1v1h-1zM13 16h5v1h-5zM19 16h1v1h-1zM5 17h1v1h-1zM9 17h1v1h-1zM12 17h6v1h-6zM19 17h1v1h-1zM6 18h1v1h-1zM8 18h2v1h-2zM13 18h3v1h-3zM17 18h2v1h-2zM12 19h2v1h-2zM16 19h1v1h-1z"/><path fill="#5a5a62" d="M4 20h1v1h-1zM8 20h4v1h-4zM13 20h1v1h-1zM4 21h4v1h-4zM9 21h5v1h-5zM4 22h4v1h-4zM9 22h4v1h-4zM16 22h1v1h-1zM18 22h1v1h-1zM4 23h4v1h-4zM9 23h5v1h-5zM17 23h1v1h-1zM4 24h4v1h-4zM9 24h6v1h-6zM18 24h1v1h-1z"/></svg></div><div class="c" style="left:599px;top:26px;background:#99aaff"></div><div class="c" style="left:625px;top:26px;background:#99aaff"></div><div class="c" style="left:651px;top:26px;background:#99aaff"><svg viewBox="0 0 25 25" shape-rendering="crispEdges"><path fill="#eef3fb" d="M0 0h10v1h-10zM17 0h8v1h-8zM0 1h7v1h-7zM21 1h4v1h-4zM0 2h5v1h-5zM22 2h3v1h-3zM0 3h4v1h-4zM22 3h3v1h-3zM0 4h3v1h-3zM22 4h3v1h-3zM0 5h2v1h-2zM21 5h4v1h-4zM0 6h1v1h-1zM23 6h2v1h-2zM23 7h2v1h-2zM0 8h2v1h-2zM24 8h1v1h-1zM0 9h1v1h-1zM24 9h1v1h-1zM0 10h1v1h-1zM24 10h1v1h-1zM0 11h1v1h-1zM24 11h1v1h-1zM0 12h1v1h-1zM24 12h1v1h-1zM0 13h1v1h-1zM0 14h1v1h-1zM0 15h1v1h-1z"/><path fill="#10583a" d="M10 0h7v1h-7zM7 1h3v1h-3zM5 2h2v1h-2zM4 3h1v1h-1zM16 3h1v1h-1zM3 4h1v1h-1zM2 5h1v1h-1zM1 6h1v1h-1zM0 7h1v1h-1zM3 7h1v1h-1zM13 7h1v1h-1zM20 7h1v1h-1zM2 8h1v1h-1zM20 8h1v1h-1zM1 9h1v1h-1zM1 10h1v1h-1zM20 10h1v1h-1zM1 11h1v1h-1zM1 12h1v1h-1zM18 12h1v1h-1zM23 12h1v1h-1zM1 13h1v1h-1zM3 13h1v1h-1zM7 13h1v1h-1zM19 13h1v1h-1zM6 14h2v1h-2zM18 14h1v1h-1zM7 15h2v1h-2zM6 16h1v1h-1zM17 16h1v1h-1zM16 18h1v1h-1zM22 18h1v1h-1zM19 19h1v1h-1zM19 22h1v1h-1zM21 23h1v1h-1zM19 24h1v1h-1zM23 24h1v1h-1z"/><path fill="#12a322" d="M10 1h8v1h-8zM16 2h2v1h-2zM5 3h1v1h-1zM17 3h1v1h-1zM4 4h2v1h-2zM14 4h5v1h-5zM3 5h5v1h-5zM13 5h1v1h-1zM19 5h1v1h-1zM2 6h4v1h-4zM10 6h3v1h-3zM14 6h5v1h-5zM20 6h2v1h-2zM1 7h2v1h-2zM4 7h1v1h-1zM6 7h4v1h-4zM11 7h2v1h-2zM14 7h6v1h-6zM21 7h1v1h-1zM3 8h5v1h-5zM9 8h4v1h-4zM19 8h1v1h-1zM21 8h2v1h-2zM2 9h5v1h-5zM10 9h3v1h-3zM19 9h4v1h-4zM2 10h5v1h-5zM19 10h1v1h-1zM21 10h2v1h-2zM2 11h4v1h-4zM19 11h5v1h-5zM2 12h5v1h-5zM19 12h4v1h-4zM2 13h1v1h-1zM4 13h3v1h-3zM20 13h2v1h-2zM23 13h2v1h-2zM4 14h2v1h-2zM19 14h3v1h-3zM23 14h2v1h-2zM5 15h2v1h-2zM18 15h3v1h-3zM22 15h3v1h-3zM18 16h2v1h-2zM21 16h4v1h-4zM18 17h1v1h-1zM20 17h5v1h-5zM19 18h3v1h-3zM23 18h2v1h-2zM17 19h2v1h-2zM21 19h4v1h-4zM18 20h1v1h-1zM21 20h4v1h-4zM19 21h6v1h-6zM20 22h5v1h-5zM20 23h1v1h-1zM22 23h3v1h-3zM20 24h1v1h-1zM22 24h1v1h-1zM24 24h1v1h-1z"/><path fill="#141014" d="M18 1h1v1h-1zM18 2h1v1h-1zM14 5h5v1h-5zM6 6h4v1h-4zM13 6h1v1h-1zM19 6h1v1h-1zM22 6h1v1h-1zM5 7h1v1h-1zM10 7h1v1h-1zM22 7h1v1h-1zM13 8h6v1h-6zM23 8h1v1h-1zM7 9h1v1h-1zM9 9h1v1h-1zM13 9h1v1h-1zM18 9h1v1h-1zM23 9h1v1h-1zM7 10h1v1h-1zM10 10h1v1h-1zM18 10h1v1h-1zM23 10h1v1h-1zM6 11h2v1h-2zM18 11h1v1h-1zM7 12h1v1h-1zM22 13h1v1h-1zM1 14h1v1h-1zM3 14h1v1h-1zM22 14h1v1h-1zM4 15h1v1h-1zM21 15h1v1h-1zM5 16h1v1h-1zM7 16h1v1h-1zM20 16h1v1h-1zM6 17h2v1h-2zM17 17h1v1h-1zM19 17h1v1h-1zM6 18h4v1h-4zM15 18h1v1h-1zM18 18h1v1h-1zM2 19h1v1h-1zM9 19h2v1h-2zM13 19h1v1h-1zM15 19h1v1h-1zM4 20h1v1h-1zM17 20h1v1h-1zM4 21h1v1h-1zM18 21h1v1h-1zM5 22h1v1h-1zM19 23h1v1h-1zM21 24h1v1h-1z"/><path fill="#2255ee" d="M19 1h1v1h-1zM19 2h3v1h-3zM20 3h1v1h-1zM20 4h2v1h-2zM20 5h1v1h-1zM14 9h3v1h-3zM9 10h1v1h-1zM9 11h1v1h-1zM13 11h2v1h-2zM14 12h2v1h-2zM9 13h1v1h-1zM8 19h1v1h-1zM12 19h1v1h-1zM14 19h1v1h-1zM1 20h1v1h-1zM12 20h1v1h-1zM15 20h1v1h-1zM1 21h2v1h-2zM12 21h2v1h-2zM15 21h1v1h-1zM1 22h2v1h-2zM12 22h1v1h-1zM15 22h2v1h-2zM2 23h1v1h-1zM12 23h1v1h-1zM16 23h1v1h-1zM2 24h1v1h-1zM12 24h1v1h-1zM16 24h1v1h-1z"/><path fill="#e41414" d="M20 1h1v1h-1zM21 3h1v1h-1zM13 14h3v1h-3zM13 15h3v1h-3zM14 16h2v1h-2z"/><path fill="#44dd44" d="M7 2h9v1h-9zM6 3h10v1h-10zM6 4h8v1h-8zM8 5h5v1h-5z"/><path fill="#ffffff" d="M18 3h2v1h-2zM19 4h1v1h-1zM8 9h1v1h-1zM17 9h1v1h-1zM8 10h1v1h-1zM17 10h1v1h-1zM8 11h1v1h-1zM15 11h3v1h-3zM8 12h2v1h-2zM16 12h2v1h-2zM2 14h1v1h-1zM1 15h3v1h-3zM1 16h4v1h-4zM5 17h1v1h-1zM3 18h2v1h-2zM17 18h1v1h-1zM6 19h1v1h-1zM16 19h1v1h-1zM2 20h1v1h-1zM6 20h2v1h-2zM14 20h1v1h-1zM19 20h2v1h-2zM3 21h1v1h-1zM6 21h2v1h-2zM11 21h1v1h-1zM14 21h1v1h-1zM3 22h2v1h-2zM6 22h1v1h-1zM8 22h1v1h-1zM11 22h1v1h-1zM13 22h2v1h-2zM3 23h3v1h-3zM8 23h1v1h-1zM11 23h1v1h-1zM13 23h3v1h-3zM3 24h3v1h-3zM8 24h1v1h-1zM11 24h1v1h-1zM13 24h3v1h-3z"/><path fill="#a8602c" d="M8 8h1v1h-1zM0 16h1v1h-1zM8 16h1v1h-1zM0 17h1v1h-1zM8 17h2v1h-2zM0 18h1v1h-1zM10 18h3v1h-3zM0 19h2v1h-2zM11 19h1v1h-1zM0 20h1v1h-1zM16 20h1v1h-1zM5 21h1v1h-1zM16 21h2v1h-2zM10 22h1v1h-1zM17 22h2v1h-2zM10 23h1v1h-1zM18 23h1v1h-1z"/><path fill="#f8d9c4" d="M11 10h2v1h-2zM10 11h3v1h-3zM10 12h4v1h-4zM8 13h1v1h-1zM10 13h9v1h-9zM8 14h5v1h-5zM16 14h2v1h-2zM9 15h4v1h-4zM16 15h2v1h-2zM9 16h5v1h-5zM16 16h1v1h-1zM10 17h7v1h-7zM13 18h2v1h-2zM3 19h1v1h-1zM3 20h1v1h-1zM10 20h2v1h-2zM13 20h1v1h-1zM10 21h1v1h-1zM10 24h1v1h-1z"/><path fill="#0c2f8c" d="M13 10h4v1h-4zM8 20h2v1h-2zM8 21h2v1h-2zM9 22h1v1h-1zM1 23h1v1h-1zM9 23h1v1h-1zM1 24h1v1h-1zM9 24h1v1h-1z"/><path fill="#c4c8d4" d="M1 17h4v1h-4zM1 18h2v1h-2zM5 18h1v1h-1zM4 19h2v1h-2zM7 19h1v1h-1zM20 19h1v1h-1zM5 20h1v1h-1zM0 21h1v1h-1zM0 22h1v1h-1zM7 22h1v1h-1zM0 23h1v1h-1zM6 23h2v1h-2zM17 23h1v1h-1zM0 24h1v1h-1zM6 24h2v1h-2zM17 24h2v1h-2z"/></svg></div><div class="c" style="left:677px;top:26px;background:#99aaff"></div><div class="c" style="left:703px;top:26px;background:#99aaff"></div><div class="c" style="left:729px;top:26px;background:#99aaff"></div><div class="c" style="left:755px;top:26px;background:#99aaff"></div><div class="c" style="left:781px;top:26px;background:#99aaff"><svg viewBox="0 0 25 25" shape-rendering="crispEdges"><path fill="#eef3fb" d="M0 0h7v1h-7zM17 0h8v1h-8zM0 1h5v1h-5zM19 1h6v1h-6zM0 2h3v1h-3zM21 2h4v1h-4zM0 3h2v1h-2zM22 3h3v1h-3zM0 4h2v1h-2zM22 4h3v1h-3zM0 5h1v1h-1zM22 5h3v1h-3zM0 6h1v1h-1zM23 6h2v1h-2zM23 7h2v1h-2zM23 8h2v1h-2zM24 9h1v1h-1zM24 10h1v1h-1zM24 11h1v1h-1zM24 12h1v1h-1z"/><path fill="#8c5210" d="M7 0h3v1h-3zM5 1h1v1h-1zM8 1h1v1h-1zM3 2h1v1h-1zM6 2h1v1h-1zM2 3h1v1h-1zM4 3h1v1h-1zM18 3h1v1h-1zM20 3h1v1h-1zM2 4h1v1h-1zM4 4h1v1h-1zM18 4h1v1h-1zM20 4h1v1h-1zM1 5h1v1h-1zM3 5h1v1h-1zM19 5h1v1h-1zM2 6h1v1h-1zM19 6h1v1h-1zM21 6h1v1h-1zM0 7h1v1h-1zM2 7h1v1h-1zM19 7h1v1h-1zM21 7h1v1h-1zM0 8h1v1h-1zM2 8h1v1h-1zM18 8h1v1h-1zM20 8h1v1h-1zM0 9h1v1h-1zM2 9h1v1h-1zM9 9h1v1h-1zM17 9h1v1h-1zM19 9h1v1h-1zM21 9h1v1h-1zM0 10h1v1h-1zM2 10h1v1h-1zM4 10h1v1h-1zM17 10h1v1h-1zM19 10h1v1h-1zM21 10h1v1h-1zM0 11h1v1h-1zM2 11h1v1h-1zM18 11h1v1h-1zM20 11h1v1h-1zM22 11h1v1h-1zM0 12h1v1h-1zM2 12h1v1h-1zM5 12h1v1h-1zM13 12h1v1h-1zM20 12h1v1h-1zM22 12h1v1h-1zM2 13h1v1h-1zM17 13h2v1h-2zM20 13h1v1h-1zM22 13h1v1h-1zM1 14h1v1h-1zM3 14h1v1h-1zM6 14h1v1h-1zM17 14h1v1h-1zM19 14h1v1h-1zM22 14h1v1h-1zM2 15h1v1h-1zM6 15h1v1h-1zM17 15h2v1h-2zM22 15h1v1h-1zM6 16h1v1h-1zM11 16h1v1h-1zM16 16h2v1h-2zM22 16h1v1h-1zM24 16h1v1h-1zM0 17h1v1h-1zM11 17h1v1h-1zM15 17h1v1h-1zM19 17h1v1h-1zM22 17h1v1h-1zM24 17h1v1h-1zM0 18h1v1h-1zM6 18h1v1h-1zM13 18h2v1h-2zM20 18h1v1h-1zM22 18h1v1h-1zM23 20h1v1h-1z"/><path fill="#141010" d="M10 0h7v1h-7zM18 1h1v1h-1zM20 2h1v1h-1zM21 3h1v1h-1zM21 4h1v1h-1zM21 5h1v1h-1zM14 6h3v1h-3zM22 6h1v1h-1zM6 7h5v1h-5zM13 7h1v1h-1zM17 7h1v1h-1zM22 7h1v1h-1zM5 8h1v1h-1zM11 8h1v1h-1zM22 8h1v1h-1zM11 9h1v1h-1zM14 9h2v1h-2zM23 9h1v1h-1zM6 10h1v1h-1zM11 10h1v1h-1zM13 10h1v1h-1zM16 10h1v1h-1zM23 10h1v1h-1zM5 11h1v1h-1zM17 11h1v1h-1zM23 11h1v1h-1zM6 12h1v1h-1zM17 12h1v1h-1zM6 13h1v1h-1zM19 15h1v1h-1zM3 16h1v1h-1zM7 16h1v1h-1zM19 16h1v1h-1zM4 17h1v1h-1zM7 17h1v1h-1zM16 17h2v1h-2zM3 18h2v1h-2zM15 18h1v1h-1zM17 18h1v1h-1zM21 18h1v1h-1zM2 19h3v1h-3zM12 19h1v1h-1zM15 19h2v1h-2zM21 19h1v1h-1zM23 19h1v1h-1zM3 20h1v1h-1zM12 20h1v1h-1zM15 20h1v1h-1zM17 20h1v1h-1zM10 21h2v1h-2zM17 21h1v1h-1zM23 21h1v1h-1zM11 22h1v1h-1zM20 22h1v1h-1zM21 23h1v1h-1zM21 24h1v1h-1z"/><path fill="#e8a014" d="M6 1h2v1h-2zM4 2h2v1h-2zM19 2h1v1h-1zM3 3h1v1h-1zM5 3h1v1h-1zM17 3h1v1h-1zM19 3h1v1h-1zM3 4h1v1h-1zM8 4h1v1h-1zM19 4h1v1h-1zM2 5h1v1h-1zM7 5h2v1h-2zM18 5h1v1h-1zM20 5h1v1h-1zM1 6h1v1h-1zM6 6h5v1h-5zM18 6h1v1h-1zM20 6h1v1h-1zM1 7h1v1h-1zM11 7h2v1h-2zM16 7h1v1h-1zM18 7h1v1h-1zM20 7h1v1h-1zM1 8h1v1h-1zM4 8h1v1h-1zM6 8h4v1h-4zM12 8h1v1h-1zM14 8h4v1h-4zM19 8h1v1h-1zM21 8h1v1h-1zM1 9h1v1h-1zM3 9h6v1h-6zM12 9h2v1h-2zM16 9h1v1h-1zM18 9h1v1h-1zM20 9h1v1h-1zM22 9h1v1h-1zM1 10h1v1h-1zM3 10h1v1h-1zM5 10h1v1h-1zM18 10h1v1h-1zM20 10h1v1h-1zM22 10h1v1h-1zM1 11h1v1h-1zM3 11h2v1h-2zM19 11h1v1h-1zM21 11h1v1h-1zM1 12h1v1h-1zM3 12h2v1h-2zM18 12h2v1h-2zM21 12h1v1h-1zM23 12h1v1h-1zM1 13h1v1h-1zM3 13h3v1h-3zM19 13h1v1h-1zM21 13h1v1h-1zM2 14h1v1h-1zM4 14h2v1h-2zM18 14h1v1h-1zM20 14h2v1h-2zM1 15h1v1h-1zM3 15h3v1h-3zM20 15h2v1h-2zM1 16h2v1h-2zM4 16h2v1h-2zM18 16h1v1h-1zM20 16h2v1h-2zM1 17h3v1h-3zM5 17h2v1h-2zM18 17h1v1h-1zM20 17h2v1h-2zM1 18h2v1h-2zM5 18h1v1h-1zM7 18h2v1h-2z"/><path fill="#ea1212" d="M9 1h8v1h-8zM7 2h3v1h-3zM6 3h3v1h-3zM6 4h2v1h-2zM5 5h2v1h-2zM7 21h1v1h-1zM13 21h1v1h-1zM7 22h1v1h-1zM13 22h1v1h-1zM7 23h1v1h-1zM9 23h1v1h-1zM13 23h1v1h-1zM7 24h3v1h-3z"/><path fill="#981414" d="M17 1h1v1h-1zM10 2h9v1h-9zM5 4h1v1h-1zM5 6h1v1h-1zM5 7h1v1h-1zM7 20h1v1h-1zM12 21h1v1h-1zM12 22h1v1h-1zM0 23h1v1h-1zM12 23h1v1h-1zM0 24h1v1h-1zM12 24h1v1h-1z"/><path fill="#f8e400" d="M9 3h8v1h-8zM9 4h9v1h-9zM4 5h1v1h-1zM9 5h9v1h-9zM3 6h2v1h-2zM11 6h3v1h-3zM17 6h1v1h-1zM3 7h2v1h-2zM14 7h2v1h-2zM3 8h1v1h-1zM13 8h1v1h-1z"/><path fill="#f8d8c4" d="M10 8h1v1h-1zM10 9h1v1h-1zM12 10h1v1h-1zM11 11h3v1h-3zM11 12h2v1h-2zM14 12h1v1h-1zM11 13h3v1h-3zM15 13h1v1h-1zM10 14h7v1h-7zM7 15h10v1h-10zM8 16h3v1h-3zM12 16h4v1h-4zM8 17h3v1h-3zM12 17h3v1h-3zM10 18h3v1h-3z"/><path fill="#0c2a84" d="M7 10h3v1h-3zM6 11h4v1h-4zM0 20h1v1h-1zM8 20h2v1h-2zM1 21h2v1h-2zM5 21h2v1h-2zM9 21h1v1h-1zM2 22h1v1h-1zM6 22h1v1h-1zM9 22h1v1h-1zM2 23h1v1h-1zM4 23h1v1h-1zM6 23h1v1h-1zM10 23h1v1h-1zM2 24h1v1h-1zM4 24h1v1h-1zM6 24h1v1h-1zM10 24h1v1h-1z"/><path fill="#ffffff" d="M10 10h1v1h-1zM15 10h1v1h-1zM10 11h1v1h-1zM15 11h2v1h-2zM10 12h1v1h-1zM15 12h2v1h-2zM0 13h1v1h-1zM10 13h1v1h-1zM16 13h1v1h-1zM23 13h2v1h-2zM0 14h1v1h-1zM23 14h2v1h-2zM0 15h1v1h-1zM23 15h2v1h-2zM0 16h1v1h-1zM23 16h1v1h-1zM23 17h1v1h-1zM16 18h1v1h-1zM18 18h2v1h-2zM24 18h1v1h-1zM14 19h1v1h-1zM17 19h4v1h-4zM22 19h1v1h-1zM24 19h1v1h-1zM2 20h1v1h-1zM6 20h1v1h-1zM11 20h1v1h-1zM13 20h1v1h-1zM16 20h1v1h-1zM18 20h3v1h-3zM22 20h1v1h-1zM24 20h1v1h-1zM3 21h1v1h-1zM15 21h2v1h-2zM18 21h2v1h-2zM21 21h2v1h-2zM24 21h1v1h-1zM16 22h1v1h-1zM18 22h2v1h-2zM22 22h3v1h-3zM11 23h1v1h-1zM16 23h1v1h-1zM22 23h2v1h-2zM23 24h2v1h-2z"/><path fill="#2452f0" d="M14 10h1v1h-1zM14 11h1v1h-1zM7 12h3v1h-3zM8 13h2v1h-2zM14 13h1v1h-1zM9 14h1v1h-1zM0 21h1v1h-1zM0 22h1v1h-1zM4 22h2v1h-2zM21 22h1v1h-1zM1 23h1v1h-1zM5 23h1v1h-1zM18 23h3v1h-3zM1 24h1v1h-1zM5 24h1v1h-1zM16 24h4v1h-4z"/><path fill="#4c92f4" d="M7 13h1v1h-1zM7 14h2v1h-2zM8 21h1v1h-1zM1 22h1v1h-1zM3 22h1v1h-1zM8 22h1v1h-1zM3 23h1v1h-1zM8 23h1v1h-1zM3 24h1v1h-1z"/><path fill="#c4c8d0" d="M9 18h1v1h-1zM23 18h1v1h-1zM0 19h2v1h-2zM5 19h7v1h-7zM13 19h1v1h-1zM1 20h1v1h-1zM4 20h2v1h-2zM10 20h1v1h-1zM14 20h1v1h-1zM21 20h1v1h-1zM4 21h1v1h-1zM14 21h1v1h-1zM20 21h1v1h-1zM10 22h1v1h-1zM14 22h2v1h-2zM17 22h1v1h-1zM14 23h2v1h-2zM17 23h1v1h-1zM24 23h1v1h-1zM11 24h1v1h-1zM13 24h3v1h-3zM20 24h1v1h-1zM22 24h1v1h-1z"/></svg></div><div class="r" style="top:64px"></div><div class="t" style="left:132px;top:68px">February 2023</div><div class="n" style="left:1px;top:82px">1</div><div class="n" style="left:27px;top:82px">2</div><div class="n" style="left:53px;top:82px">3</div><div class="n" style="left:79px;top:82px">4</div><div class="n" style="left:105px;top:82px">5</div><div class="n" style="left:131px;top:82px">6</div><div class="n" style="left:157px;top:82px">7</div><div class="n" style="left:183px;top:82px">8</div><div class="n" style="left:209px;top:82px">9</div><div class="n" style="left:235px;top:82px">10</div><div class="n" style="left:261px;top:82px">11</div><div class="n" style="left:287px;top:82px">12</div><div class="n" style="left:313px;top:82px">13</div><div class="n" style="left:339px;top:82px">14</div><div class="n" style="left:365px;top:82px">15</div><div class="n" style="left:391px;top:82px">16</div><div class="n" style="left:417px;top:82px">17</div><div class="n" style="left:443px;top:82px">18</div><div class="n" style="left:469px;top:82px">19</div><div class="n" style="left:495px;top:82px">20</div><div class="n" style="left:521px;top:82px">21</div><div class="n" style="left:547px;top:82px">22</div><div class="n" style="left:573px;top:82px">23</div><div class="n" style="left:599px;top:82px">24</div><div class="n" style="left:625px;top:82px">25</div><div class="n" style="left:651px;top:82px">26</div><div class="n" style="left:677px;top:82px">27</div><div class="n" style="left:703px;top:82px">28</div><div class="c" style="left:1px;top:93px;background:#ff99ff"><svg viewBox="0 0 25 25" shape-rendering="crispEdges"><path fill="#2c3490" d="M0 0h4v1h-4zM0 1h2v1h-2zM0 2h1v1h-1zM0 3h1v1h-1z"/><path fill="#141010" d="M4 0h1v1h-1zM6 0h1v1h-1zM11 0h1v1h-1zM13 0h1v1h-1zM16 0h1v1h-1zM23 0h1v1h-1zM4 1h1v1h-1zM6 1h1v1h-1zM13 1h1v1h-1zM15 1h2v1h-2zM24 1h1v1h-1zM1 2h1v1h-1zM3 2h2v1h-2zM14 2h1v1h-1zM17 2h1v1h-1zM24 2h1v1h-1zM3 3h2v1h-2zM17 3h1v1h-1zM19 3h1v1h-1zM24 3h1v1h-1zM0 4h1v1h-1zM3 4h1v1h-1zM8 4h4v1h-4zM14 4h1v1h-1zM17 4h1v1h-1zM24 4h1v1h-1zM2 5h1v1h-1zM4 5h1v1h-1zM11 5h1v1h-1zM23 5h2v1h-2zM3 6h1v1h-1zM5 6h1v1h-1zM14 6h1v1h-1zM16 6h2v1h-2zM22 6h1v1h-1zM0 7h1v1h-1zM3 7h2v1h-2zM7 7h1v1h-1zM15 7h2v1h-2zM18 7h1v1h-1zM0 8h1v1h-1zM7 8h1v1h-1zM10 8h1v1h-1zM14 8h2v1h-2zM19 8h1v1h-1zM2 9h1v1h-1zM5 9h1v1h-1zM8 9h1v1h-1zM10 9h1v1h-1zM12 9h1v1h-1zM14 9h1v1h-1zM3 10h1v1h-1zM8 10h3v1h-3zM15 10h1v1h-1zM0 11h1v1h-1zM3 11h1v1h-1zM5 11h1v1h-1zM8 11h1v1h-1zM16 11h1v1h-1zM0 12h1v1h-1zM2 12h1v1h-1zM7 12h1v1h-1zM9 12h1v1h-1zM11 12h1v1h-1zM15 12h1v1h-1zM23 12h1v1h-1zM0 13h3v1h-3zM15 13h2v1h-2zM18 13h4v1h-4zM23 13h2v1h-2zM0 14h2v1h-2zM13 14h1v1h-1zM16 14h4v1h-4zM21 14h4v1h-4zM2 15h1v1h-1zM5 15h2v1h-2zM16 15h1v1h-1zM21 15h1v1h-1zM2 16h2v1h-2zM5 16h1v1h-1zM7 16h1v1h-1zM16 16h1v1h-1zM21 16h1v1h-1zM2 17h2v1h-2zM5 17h3v1h-3zM16 17h1v1h-1zM20 17h2v1h-2zM2 18h2v1h-2zM6 18h1v1h-1zM8 18h1v1h-1zM16 18h1v1h-1zM18 18h2v1h-2zM2 19h2v1h-2zM7 19h1v1h-1zM16 19h1v1h-1zM22 19h3v1h-3zM2 20h1v1h-1zM4 20h1v1h-1zM8 20h1v1h-1zM16 20h1v1h-1zM23 20h2v1h-2zM2 21h1v1h-1zM4 21h1v1h-1zM6 21h1v1h-1zM8 21h1v1h-1zM16 21h1v1h-1zM0 22h2v1h-2zM4 22h1v1h-1zM9 22h1v1h-1zM15 22h1v1h-1zM1 23h2v1h-2zM9 23h1v1h-1zM15 23h1v1h-1zM2 24h1v1h-1zM4 24h1v1h-1zM9 24h1v1h-1zM16 24h1v1h-1z"/><path fill="#b040a8" d="M5 0h1v1h-1zM17 0h6v1h-6zM24 0h1v1h-1zM17 1h6v1h-6zM18 2h3v1h-3zM0 5h1v1h-1zM0 6h1v1h-1z"/><path fill="#f07a24" d="M7 0h1v1h-1zM5 1h1v1h-1zM12 1h1v1h-1zM5 2h9v1h-9zM5 3h8v1h-8zM5 4h2v1h-2zM13 4h1v1h-1zM5 5h1v1h-1zM12 5h2v1h-2zM5 7h2v1h-2zM5 8h1v1h-1z"/><path fill="#f8b828" d="M8 0h3v1h-3zM12 0h1v1h-1zM7 1h4v1h-4zM6 5h1v1h-1zM0 15h2v1h-2zM0 16h2v1h-2zM0 17h2v1h-2zM0 18h2v1h-2zM0 19h1v1h-1zM0 23h1v1h-1zM0 24h1v1h-1z"/><path fill="#f4e6b4" d="M14 0h2v1h-2zM14 1h1v1h-1zM23 1h1v1h-1zM2 2h1v1h-1zM15 2h1v1h-1zM21 2h3v1h-3zM1 3h2v1h-2zM15 3h2v1h-2zM20 3h4v1h-4zM1 4h2v1h-2zM15 4h2v1h-2zM20 4h3v1h-3zM1 5h1v1h-1zM15 5h3v1h-3zM21 5h2v1h-2zM1 6h2v1h-2zM15 6h1v1h-1zM1 7h2v1h-2zM1 8h2v1h-2z"/><path fill="#7c9ce0" d="M2 1h2v1h-2z"/><path fill="#8a4a18" d="M11 1h1v1h-1zM4 4h1v1h-1zM19 4h1v1h-1zM23 4h1v1h-1zM3 5h1v1h-1zM20 5h1v1h-1zM21 6h1v1h-1zM3 8h1v1h-1zM1 19h1v1h-1zM1 24h1v1h-1z"/><path fill="#0e5a22" d="M16 2h1v1h-1zM14 3h1v1h-1zM24 6h1v1h-1zM23 7h2v1h-2zM24 8h1v1h-1z"/><path fill="#981414" d="M13 3h1v1h-1zM11 6h2v1h-2zM11 7h1v1h-1zM4 8h1v1h-1zM6 8h1v1h-1zM12 8h1v1h-1zM3 9h2v1h-2zM7 9h1v1h-1zM11 9h1v1h-1zM4 10h1v1h-1zM7 10h1v1h-1zM14 13h1v1h-1zM14 14h2v1h-2zM9 15h4v1h-4zM15 15h1v1h-1zM8 16h1v1h-1zM15 16h1v1h-1zM8 17h1v1h-1zM7 18h1v1h-1zM8 19h1v1h-1zM9 20h1v1h-1zM9 21h1v1h-1zM15 21h1v1h-1zM13 22h2v1h-2z"/><path fill="#1ea640" d="M18 3h1v1h-1zM18 4h1v1h-1zM7 5h4v1h-4zM18 5h2v1h-2zM6 6h5v1h-5zM18 6h3v1h-3zM23 6h1v1h-1zM8 7h3v1h-3zM19 7h4v1h-4zM8 8h2v1h-2zM20 8h4v1h-4zM9 9h1v1h-1z"/><path fill="#ea1c1c" d="M7 4h1v1h-1zM12 4h1v1h-1zM13 6h1v1h-1zM12 7h1v1h-1zM11 8h1v1h-1zM6 9h1v1h-1zM13 15h1v1h-1zM9 16h6v1h-6zM9 17h7v1h-7zM9 18h7v1h-7zM9 19h4v1h-4zM14 19h2v1h-2zM10 20h3v1h-3zM14 20h2v1h-2zM10 21h3v1h-3zM14 21h1v1h-1z"/><path fill="#ffffff" d="M14 5h1v1h-1zM13 7h1v1h-1zM17 7h1v1h-1zM13 8h1v1h-1zM16 8h3v1h-3zM0 9h2v1h-2zM13 9h1v1h-1zM15 9h10v1h-10zM0 10h1v1h-1zM2 10h1v1h-1zM5 10h2v1h-2zM11 10h1v1h-1zM16 10h9v1h-9zM1 11h2v1h-2zM11 11h1v1h-1zM17 11h7v1h-7zM21 12h2v1h-2zM24 12h1v1h-1zM22 13h1v1h-1zM20 14h1v1h-1zM14 15h1v1h-1zM17 15h4v1h-4zM17 16h4v1h-4zM4 17h1v1h-1zM17 17h3v1h-3zM4 18h1v1h-1zM6 19h1v1h-1zM13 19h1v1h-1zM1 20h1v1h-1zM6 20h1v1h-1zM13 20h1v1h-1zM0 21h1v1h-1zM5 21h1v1h-1zM13 21h1v1h-1zM5 22h2v1h-2zM5 23h1v1h-1zM7 23h1v1h-1zM6 24h1v1h-1z"/><path fill="#b8c0cc" d="M4 6h1v1h-1zM14 7h1v1h-1zM1 10h1v1h-1zM24 11h1v1h-1zM1 12h1v1h-1zM18 12h3v1h-3zM0 20h1v1h-1zM1 21h1v1h-1z"/><path fill="#f4d8a8" d="M12 10h3v1h-3zM4 11h1v1h-1zM6 11h2v1h-2zM9 11h2v1h-2zM12 11h4v1h-4zM3 12h4v1h-4zM8 12h1v1h-1zM10 12h1v1h-1zM12 12h3v1h-3zM16 12h2v1h-2zM3 13h11v1h-11zM17 13h1v1h-1zM2 14h11v1h-11zM3 15h2v1h-2zM7 15h2v1h-2zM4 16h1v1h-1zM5 18h1v1h-1zM4 19h2v1h-2zM3 20h1v1h-1zM5 20h1v1h-1zM7 20h1v1h-1zM7 21h1v1h-1zM7 22h2v1h-2zM10 22h3v1h-3zM6 23h1v1h-1zM8 23h1v1h-1zM10 23h5v1h-5zM5 24h1v1h-1zM7 24h2v1h-2zM10 24h6v1h-6z"/><path fill="#f8bc30" d="M22 15h3v1h-3zM22 16h3v1h-3zM22 17h3v1h-3zM17 18h1v1h-1zM20 18h5v1h-5zM17 19h5v1h-5zM17 20h5v1h-5zM17 21h8v1h-8zM16 22h9v1h-9zM16 23h9v1h-9zM17 24h8v1h-8z"/><path fill="#2a70b8" d="M6 16h1v1h-1zM22 20h1v1h-1zM3 21h1v1h-1zM2 22h2v1h-2zM3 23h2v1h-2zM3 24h1v1h-1z"/></svg></div><div class="c" style="left:27px;top:93px;background:#ff99ff"></div><div class="c" style="left:53px;top:93px;background:#ff99ff"><svg viewBox="0 0 25 25" shape-rendering="crispEdges" style="filter:blur(0.4px)"><path fill="#1a2c1c" d="M0 0h25v1h-25zM0 1h8v1h-8zM14 1h11v1h-11zM0 2h8v1h-8zM15 2h10v1h-10zM0 3h7v1h-7zM15 3h10v1h-10zM0 4h6v1h-6zM17 4h8v1h-8zM0 5h6v1h-6zM17 5h8v1h-8zM0 6h6v1h-6zM18 6h7v1h-7zM0 7h6v1h-6zM19 7h6v1h-6zM0 8h6v1h-6zM19 8h6v1h-6zM0 9h6v1h-6zM20 9h5v1h-5zM0 10h5v1h-5zM21 10h2v1h-2zM24 10h1v1h-1zM0 11h4v1h-4zM5 11h1v1h-1zM22 11h1v1h-1zM24 11h1v1h-1zM0 12h4v1h-4zM22 12h1v1h-1zM24 12h1v1h-1zM0 13h3v1h-3zM24 13h1v1h-1zM0 14h3v1h-3zM24 14h1v1h-1zM0 15h3v1h-3zM24 15h1v1h-1zM0 16h1v1h-1zM6 16h1v1h-1zM24 16h1v1h-1zM0 17h1v1h-1zM24 17h1v1h-1zM24 18h1v1h-1zM24 19h1v1h-1zM24 20h1v1h-1zM24 21h1v1h-1zM24 22h1v1h-1zM24 23h1v1h-1zM23 24h2v1h-2z"/><path fill="#6a5a38" d="M8 1h2v1h-2zM8 2h1v1h-1zM16 4h1v1h-1z"/><path fill="#4a3414" d="M10 1h4v1h-4zM10 2h4v1h-4zM10 3h5v1h-5zM11 4h4v1h-4z"/><path fill="#5c4420" d="M9 2h1v1h-1zM14 2h1v1h-1zM8 3h2v1h-2zM8 4h3v1h-3zM8 5h1v1h-1z"/><path fill="#2c4232" d="M7 3h1v1h-1zM6 4h2v1h-2zM6 5h2v1h-2zM6 6h2v1h-2zM6 7h2v1h-2zM6 8h1v1h-1zM6 9h1v1h-1zM5 10h1v1h-1zM20 10h1v1h-1z"/><path fill="#4c4c14" d="M15 4h1v1h-1zM13 5h4v1h-4zM12 6h6v1h-6zM14 7h5v1h-5zM14 8h5v1h-5zM15 9h5v1h-5zM15 10h5v1h-5zM15 11h7v1h-7zM17 12h5v1h-5zM16 13h6v1h-6zM16 14h6v1h-6zM16 15h6v1h-6zM16 16h5v1h-5zM15 17h6v1h-6zM13 18h8v1h-8z"/><path fill="#202410" d="M9 5h4v1h-4zM11 6h1v1h-1zM13 9h2v1h-2zM13 10h2v1h-2zM8 18h5v1h-5z"/><path fill="#9ad8cc" d="M8 6h3v1h-3zM8 7h3v1h-3zM12 7h2v1h-2zM8 8h3v1h-3zM12 8h1v1h-1zM12 9h1v1h-1zM9 14h7v1h-7zM9 15h6v1h-6zM8 16h8v1h-8zM9 17h5v1h-5zM9 19h11v1h-11zM9 20h11v1h-11zM9 21h11v1h-11zM9 22h11v1h-11zM10 23h10v1h-10zM10 24h10v1h-10z"/><path fill="#7cb8a8" d="M11 7h1v1h-1zM11 8h1v1h-1zM13 8h1v1h-1zM9 9h2v1h-2zM9 10h4v1h-4zM9 11h6v1h-6zM9 12h8v1h-8zM9 13h7v1h-7zM8 14h1v1h-1zM6 15h3v1h-3zM15 15h1v1h-1zM8 17h1v1h-1zM14 17h1v1h-1zM8 19h1v1h-1zM8 20h1v1h-1zM8 21h1v1h-1zM8 22h1v1h-1zM8 23h2v1h-2zM8 24h2v1h-2z"/><path fill="#7a6060" d="M7 8h1v1h-1zM7 9h2v1h-2zM8 10h1v1h-1z"/><path fill="#123444" d="M11 9h1v1h-1z"/><path fill="#060606" d="M6 10h2v1h-2zM6 11h3v1h-3zM4 12h5v1h-5zM4 13h5v1h-5zM4 14h4v1h-4z"/><path fill="#1e5a8a" d="M23 10h1v1h-1zM23 11h1v1h-1zM23 12h1v1h-1zM22 14h1v1h-1zM6 17h1v1h-1zM6 20h1v1h-1zM23 20h1v1h-1zM6 21h1v1h-1zM22 21h2v1h-2zM6 22h1v1h-1zM22 22h1v1h-1zM22 23h1v1h-1z"/><path fill="#6a7464" d="M4 11h1v1h-1zM3 13h1v1h-1zM3 14h1v1h-1zM3 15h1v1h-1zM5 15h1v1h-1zM5 16h1v1h-1zM5 17h1v1h-1z"/><path fill="#34d0e8" d="M22 13h2v1h-2zM23 14h1v1h-1zM22 15h2v1h-2zM22 16h2v1h-2zM22 17h2v1h-2zM6 18h1v1h-1zM22 18h2v1h-2zM6 19h1v1h-1zM22 19h2v1h-2zM22 20h1v1h-1z"/><path fill="#5e2c10" d="M4 15h1v1h-1zM1 16h4v1h-4zM1 17h4v1h-4zM0 18h5v1h-5zM0 19h5v1h-5zM0 20h5v1h-5zM0 21h5v1h-5zM0 22h5v1h-5zM0 23h5v1h-5zM0 24h5v1h-5z"/><path fill="#102a1a" d="M7 16h1v1h-1zM21 16h1v1h-1zM7 17h1v1h-1zM21 17h1v1h-1zM5 18h1v1h-1zM7 18h1v1h-1zM21 18h1v1h-1zM5 19h1v1h-1zM7 19h1v1h-1zM20 19h2v1h-2zM5 20h1v1h-1zM7 20h1v1h-1zM20 20h2v1h-2zM5 21h1v1h-1zM7 21h1v1h-1zM20 21h2v1h-2zM5 22h1v1h-1zM7 22h1v1h-1zM20 22h2v1h-2zM23 22h1v1h-1zM5 23h3v1h-3zM20 23h2v1h-2zM23 23h1v1h-1zM5 24h3v1h-3zM20 24h3v1h-3z"/></svg></div><div class="c" style="left:79px;top:93px;background:#ff99ff"></div><div class="c" style="left:105px;top:93px;background:#ff99ff"></div><div class="c" style="left:131px;top:93px;background:#ff99ff"><svg viewBox="0 0 25 25" shape-rendering="crispEdges"><path fill="#eef3fb" d="M0 0h10v1h-10zM13 0h12v1h-12zM0 1h9v1h-9zM14 1h11v1h-11zM0 2h5v1h-5zM16 2h9v1h-9zM0 3h4v1h-4zM17 3h8v1h-8zM0 4h3v1h-3zM19 4h6v1h-6zM0 5h3v1h-3zM19 5h6v1h-6zM0 6h3v1h-3zM20 6h5v1h-5zM0 7h3v1h-3zM22 7h3v1h-3zM0 8h2v1h-2zM23 8h2v1h-2zM0 9h2v1h-2zM23 9h2v1h-2zM0 10h1v1h-1zM23 10h2v1h-2zM0 11h1v1h-1zM23 11h2v1h-2zM23 12h2v1h-2zM23 13h2v1h-2zM24 14h1v1h-1zM23 15h2v1h-2zM23 16h2v1h-2zM23 17h2v1h-2zM23 18h2v1h-2zM23 19h2v1h-2zM23 20h2v1h-2zM0 21h1v1h-1zM23 21h2v1h-2zM0 22h1v1h-1zM23 22h2v1h-2zM0 23h1v1h-1zM24 23h1v1h-1zM0 24h1v1h-1zM24 24h1v1h-1z"/><path fill="#3c7cf0" d="M10 0h3v1h-3zM18 7h2v1h-2zM2 8h3v1h-3zM16 8h5v1h-5zM2 9h1v1h-1zM4 9h1v1h-1zM15 9h7v1h-7zM1 10h1v1h-1zM3 10h1v1h-1zM10 10h1v1h-1zM16 10h1v1h-1zM18 10h5v1h-5zM1 11h2v1h-2zM4 11h1v1h-1zM8 11h1v1h-1zM11 11h11v1h-11zM0 12h1v1h-1zM2 12h2v1h-2zM5 12h2v1h-2zM8 12h2v1h-2zM11 12h1v1h-1zM13 12h9v1h-9zM0 13h2v1h-2zM3 13h4v1h-4zM8 13h3v1h-3zM17 13h5v1h-5zM0 14h1v1h-1zM2 14h5v1h-5zM13 14h2v1h-2zM18 14h5v1h-5zM1 15h6v1h-6zM13 15h2v1h-2zM18 15h5v1h-5zM1 16h2v1h-2zM4 16h3v1h-3zM14 16h2v1h-2zM18 16h5v1h-5zM2 17h5v1h-5zM18 17h5v1h-5zM2 18h5v1h-5zM17 18h5v1h-5zM2 19h6v1h-6zM17 19h6v1h-6zM1 20h6v1h-6zM17 20h6v1h-6zM1 21h1v1h-1zM3 21h4v1h-4zM16 21h3v1h-3zM20 21h3v1h-3zM1 22h2v1h-2zM4 22h3v1h-3zM16 22h2v1h-2zM20 22h1v1h-1zM22 22h1v1h-1zM1 23h1v1h-1zM5 23h2v1h-2zM10 23h1v1h-1zM14 23h1v1h-1zM16 23h1v1h-1zM23 23h1v1h-1zM1 24h1v1h-1zM5 24h2v1h-2zM11 24h1v1h-1zM16 24h1v1h-1z"/><path fill="#cc3c10" d="M9 1h1v1h-1zM13 1h1v1h-1zM8 2h1v1h-1zM14 2h1v1h-1zM6 3h2v1h-2zM15 3h1v1h-1zM5 4h1v1h-1zM16 4h1v1h-1zM18 4h1v1h-1zM3 5h1v1h-1zM18 5h1v1h-1zM3 6h1v1h-1zM18 6h1v1h-1zM4 7h1v1h-1zM17 7h1v1h-1zM5 8h1v1h-1zM15 8h1v1h-1zM7 9h8v1h-8z"/><path fill="#f8c0ac" d="M10 1h3v1h-3zM9 2h4v1h-4zM8 3h5v1h-5zM6 6h2v1h-2zM6 7h9v1h-9zM7 8h6v1h-6z"/><path fill="#a0a8b4" d="M5 2h3v1h-3zM15 2h1v1h-1zM4 3h1v1h-1zM16 3h1v1h-1zM3 4h1v1h-1zM17 4h1v1h-1zM17 5h1v1h-1zM14 6h1v1h-1z"/><path fill="#f08c88" d="M13 2h1v1h-1zM5 3h1v1h-1zM13 3h2v1h-2zM4 4h1v1h-1zM6 4h10v1h-10zM4 5h1v1h-1zM7 5h10v1h-10zM4 6h2v1h-2zM15 6h3v1h-3zM5 7h1v1h-1zM15 7h2v1h-2zM6 8h1v1h-1zM13 8h2v1h-2zM15 22h1v1h-1zM18 22h1v1h-1zM9 23h1v1h-1zM11 23h3v1h-3zM15 23h1v1h-1zM18 23h1v1h-1zM9 24h1v1h-1zM12 24h2v1h-2zM15 24h1v1h-1zM18 24h1v1h-1z"/><path fill="#ffffff" d="M5 5h2v1h-2zM8 6h6v1h-6zM15 14h2v1h-2zM0 15h1v1h-1zM15 15h2v1h-2zM0 16h1v1h-1zM16 16h1v1h-1zM0 17h1v1h-1zM0 18h2v1h-2zM0 19h2v1h-2zM0 20h1v1h-1zM3 23h1v1h-1zM20 23h2v1h-2zM3 24h1v1h-1zM20 24h1v1h-1z"/><path fill="#141414" d="M19 6h1v1h-1zM3 7h1v1h-1zM20 7h2v1h-2zM22 8h1v1h-1zM12 10h4v1h-4zM17 10h1v1h-1zM7 11h1v1h-1zM7 12h1v1h-1zM10 12h1v1h-1zM13 13h4v1h-4zM22 13h1v1h-1zM8 14h3v1h-3zM17 14h1v1h-1zM23 14h1v1h-1zM8 15h1v1h-1zM17 15h1v1h-1zM3 16h1v1h-1zM7 16h1v1h-1zM1 17h1v1h-1zM7 20h1v1h-1zM16 20h1v1h-1zM7 21h1v1h-1zM15 21h1v1h-1zM19 21h1v1h-1zM3 22h1v1h-1zM7 22h8v1h-8zM21 22h1v1h-1zM2 23h1v1h-1zM4 23h1v1h-1zM22 23h1v1h-1zM2 24h1v1h-1zM4 24h1v1h-1zM14 24h1v1h-1zM22 24h2v1h-2z"/><path fill="#1e4cbc" d="M21 8h1v1h-1zM3 9h1v1h-1zM22 9h1v1h-1zM2 10h1v1h-1zM3 11h1v1h-1zM10 11h1v1h-1zM22 11h1v1h-1zM1 12h1v1h-1zM4 12h1v1h-1zM22 12h1v1h-1zM2 13h1v1h-1zM1 14h1v1h-1zM22 18h1v1h-1zM2 21h1v1h-1z"/><path fill="#8cb8f4" d="M5 9h2v1h-2zM4 10h6v1h-6zM11 10h1v1h-1zM5 11h2v1h-2zM9 11h1v1h-1z"/><path fill="#f8d8c4" d="M12 12h1v1h-1zM11 13h2v1h-2zM7 14h1v1h-1zM11 14h2v1h-2zM7 15h1v1h-1zM9 15h4v1h-4zM8 16h6v1h-6zM17 16h1v1h-1zM8 17h10v1h-10zM7 18h8v1h-8zM16 18h1v1h-1zM9 19h4v1h-4zM15 19h2v1h-2zM8 20h3v1h-3zM12 20h4v1h-4zM8 21h7v1h-7z"/><path fill="#c87444" d="M7 13h1v1h-1zM7 17h1v1h-1zM15 18h1v1h-1zM8 19h1v1h-1zM13 19h2v1h-2zM11 20h1v1h-1z"/><path fill="#b8c4d0" d="M19 22h1v1h-1zM19 23h1v1h-1zM7 24h1v1h-1zM10 24h1v1h-1zM19 24h1v1h-1zM21 24h1v1h-1z"/><path fill="#d82c10" d="M7 23h2v1h-2zM17 23h1v1h-1zM8 24h1v1h-1zM17 24h1v1h-1z"/></svg></div><div class="c" style="left:157px;top:93px;background:#ff99ff"></div><div class="c" style="left:183px;top:93px;background:#ff99ff"><svg viewBox="0 0 25 25" shape-rendering="crispEdges"><path fill="#2c3490" d="M0 0h4v1h-4zM0 1h2v1h-2zM0 2h1v1h-1zM0 3h1v1h-1z"/><path fill="#141010" d="M4 0h1v1h-1zM6 0h1v1h-1zM11 0h1v1h-1zM13 0h1v1h-1zM16 0h1v1h-1zM23 0h1v1h-1zM4 1h1v1h-1zM6 1h1v1h-1zM13 1h1v1h-1zM15 1h2v1h-2zM24 1h1v1h-1zM1 2h1v1h-1zM3 2h2v1h-2zM14 2h1v1h-1zM17 2h1v1h-1zM24 2h1v1h-1zM3 3h2v1h-2zM17 3h1v1h-1zM19 3h1v1h-1zM24 3h1v1h-1zM0 4h1v1h-1zM3 4h1v1h-1zM8 4h4v1h-4zM14 4h1v1h-1zM17 4h1v1h-1zM24 4h1v1h-1zM2 5h1v1h-1zM4 5h1v1h-1zM11 5h1v1h-1zM23 5h2v1h-2zM3 6h1v1h-1zM5 6h1v1h-1zM14 6h1v1h-1zM16 6h2v1h-2zM22 6h1v1h-1zM0 7h1v1h-1zM3 7h2v1h-2zM7 7h1v1h-1zM15 7h2v1h-2zM18 7h1v1h-1zM0 8h1v1h-1zM7 8h1v1h-1zM10 8h1v1h-1zM14 8h2v1h-2zM19 8h1v1h-1zM2 9h1v1h-1zM5 9h1v1h-1zM8 9h1v1h-1zM10 9h1v1h-1zM12 9h1v1h-1zM14 9h1v1h-1zM3 10h1v1h-1zM8 10h3v1h-3zM15 10h1v1h-1zM0 11h1v1h-1zM3 11h1v1h-1zM5 11h1v1h-1zM8 11h1v1h-1zM16 11h1v1h-1zM0 12h1v1h-1zM2 12h1v1h-1zM7 12h1v1h-1zM9 12h1v1h-1zM11 12h1v1h-1zM15 12h1v1h-1zM23 12h1v1h-1zM0 13h3v1h-3zM15 13h2v1h-2zM18 13h4v1h-4zM23 13h2v1h-2zM0 14h2v1h-2zM13 14h1v1h-1zM16 14h4v1h-4zM21 14h4v1h-4zM2 15h1v1h-1zM5 15h2v1h-2zM16 15h1v1h-1zM21 15h1v1h-1zM2 16h2v1h-2zM5 16h1v1h-1zM7 16h1v1h-1zM16 16h1v1h-1zM21 16h1v1h-1zM2 17h2v1h-2zM5 17h3v1h-3zM16 17h1v1h-1zM20 17h2v1h-2zM2 18h2v1h-2zM6 18h1v1h-1zM8 18h1v1h-1zM16 18h1v1h-1zM18 18h2v1h-2zM2 19h2v1h-2zM7 19h1v1h-1zM16 19h1v1h-1zM22 19h3v1h-3zM2 20h1v1h-1zM4 20h1v1h-1zM8 20h1v1h-1zM16 20h1v1h-1zM23 20h2v1h-2zM2 21h1v1h-1zM4 21h1v1h-1zM6 21h1v1h-1zM8 21h1v1h-1zM16 21h1v1h-1zM0 22h2v1h-2zM4 22h1v1h-1zM9 22h1v1h-1zM15 22h1v1h-1zM1 23h2v1h-2zM9 23h1v1h-1zM15 23h1v1h-1zM2 24h1v1h-1zM4 24h1v1h-1zM9 24h1v1h-1zM16 24h1v1h-1z"/><path fill="#b040a8" d="M5 0h1v1h-1zM17 0h6v1h-6zM24 0h1v1h-1zM17 1h6v1h-6zM18 2h3v1h-3zM0 5h1v1h-1zM0 6h1v1h-1z"/><path fill="#f07a24" d="M7 0h1v1h-1zM5 1h1v1h-1zM12 1h1v1h-1zM5 2h9v1h-9zM5 3h8v1h-8zM5 4h2v1h-2zM13 4h1v1h-1zM5 5h1v1h-1zM12 5h2v1h-2zM5 7h2v1h-2zM5 8h1v1h-1z"/><path fill="#f8b828" d="M8 0h3v1h-3zM12 0h1v1h-1zM7 1h4v1h-4zM6 5h1v1h-1zM0 15h2v1h-2zM0 16h2v1h-2zM0 17h2v1h-2zM0 18h2v1h-2zM0 19h1v1h-1zM0 23h1v1h-1zM0 24h1v1h-1z"/><path fill="#f4e6b4" d="M14 0h2v1h-2zM14 1h1v1h-1zM23 1h1v1h-1zM2 2h1v1h-1zM15 2h1v1h-1zM21 2h3v1h-3zM1 3h2v1h-2zM15 3h2v1h-2zM20 3h4v1h-4zM1 4h2v1h-2zM15 4h2v1h-2zM20 4h3v1h-3zM1 5h1v1h-1zM15 5h3v1h-3zM21 5h2v1h-2zM1 6h2v1h-2zM15 6h1v1h-1zM1 7h2v1h-2zM1 8h2v1h-2z"/><path fill="#7c9ce0" d="M2 1h2v1h-2z"/><path fill="#8a4a18" d="M11 1h1v1h-1zM4 4h1v1h-1zM19 4h1v1h-1zM23 4h1v1h-1zM3 5h1v1h-1zM20 5h1v1h-1zM21 6h1v1h-1zM3 8h1v1h-1zM1 19h1v1h-1zM1 24h1v1h-1z"/><path fill="#0e5a22" d="M16 2h1v1h-1zM14 3h1v1h-1zM24 6h1v1h-1zM23 7h2v1h-2zM24 8h1v1h-1z"/><path fill="#981414" d="M13 3h1v1h-1zM11 6h2v1h-2zM11 7h1v1h-1zM4 8h1v1h-1zM6 8h1v1h-1zM12 8h1v1h-1zM3 9h2v1h-2zM7 9h1v1h-1zM11 9h1v1h-1zM4 10h1v1h-1zM7 10h1v1h-1zM14 13h1v1h-1zM14 14h2v1h-2zM9 15h4v1h-4zM15 15h1v1h-1zM8 16h1v1h-1zM15 16h1v1h-1zM8 17h1v1h-1zM7 18h1v1h-1zM8 19h1v1h-1zM9 20h1v1h-1zM9 21h1v1h-1zM15 21h1v1h-1zM13 22h2v1h-2z"/><path fill="#1ea640" d="M18 3h1v1h-1zM18 4h1v1h-1zM7 5h4v1h-4zM18 5h2v1h-2zM6 6h5v1h-5zM18 6h3v1h-3zM23 6h1v1h-1zM8 7h3v1h-3zM19 7h4v1h-4zM8 8h2v1h-2zM20 8h4v1h-4zM9 9h1v1h-1z"/><path fill="#ea1c1c" d="M7 4h1v1h-1zM12 4h1v1h-1zM13 6h1v1h-1zM12 7h1v1h-1zM11 8h1v1h-1zM6 9h1v1h-1zM13 15h1v1h-1zM9 16h6v1h-6zM9 17h7v1h-7zM9 18h7v1h-7zM9 19h4v1h-4zM14 19h2v1h-2zM10 20h3v1h-3zM14 20h2v1h-2zM10 21h3v1h-3zM14 21h1v1h-1z"/><path fill="#ffffff" d="M14 5h1v1h-1zM13 7h1v1h-1zM17 7h1v1h-1zM13 8h1v1h-1zM16 8h3v1h-3zM0 9h2v1h-2zM13 9h1v1h-1zM15 9h10v1h-10zM0 10h1v1h-1zM2 10h1v1h-1zM5 10h2v1h-2zM11 10h1v1h-1zM16 10h9v1h-9zM1 11h2v1h-2zM11 11h1v1h-1zM17 11h7v1h-7zM21 12h2v1h-2zM24 12h1v1h-1zM22 13h1v1h-1zM20 14h1v1h-1zM14 15h1v1h-1zM17 15h4v1h-4zM17 16h4v1h-4zM4 17h1v1h-1zM17 17h3v1h-3zM4 18h1v1h-1zM6 19h1v1h-1zM13 19h1v1h-1zM1 20h1v1h-1zM6 20h1v1h-1zM13 20h1v1h-1zM0 21h1v1h-1zM5 21h1v1h-1zM13 21h1v1h-1zM5 22h2v1h-2zM5 23h1v1h-1zM7 23h1v1h-1zM6 24h1v1h-1z"/><path fill="#b8c0cc" d="M4 6h1v1h-1zM14 7h1v1h-1zM1 10h1v1h-1zM24 11h1v1h-1zM1 12h1v1h-1zM18 12h3v1h-3zM0 20h1v1h-1zM1 21h1v1h-1z"/><path fill="#f4d8a8" d="M12 10h3v1h-3zM4 11h1v1h-1zM6 11h2v1h-2zM9 11h2v1h-2zM12 11h4v1h-4zM3 12h4v1h-4zM8 12h1v1h-1zM10 12h1v1h-1zM12 12h3v1h-3zM16 12h2v1h-2zM3 13h11v1h-11zM17 13h1v1h-1zM2 14h11v1h-11zM3 15h2v1h-2zM7 15h2v1h-2zM4 16h1v1h-1zM5 18h1v1h-1zM4 19h2v1h-2zM3 20h1v1h-1zM5 20h1v1h-1zM7 20h1v1h-1zM7 21h1v1h-1zM7 22h2v1h-2zM10 22h3v1h-3zM6 23h1v1h-1zM8 23h1v1h-1zM10 23h5v1h-5zM5 24h1v1h-1zM7 24h2v1h-2zM10 24h6v1h-6z"/><path fill="#f8bc30" d="M22 15h3v1h-3zM22 16h3v1h-3zM22 17h3v1h-3zM17 18h1v1h-1zM20 18h5v1h-5zM17 19h5v1h-5zM17 20h5v1h-5zM17 21h8v1h-8zM16 22h9v1h-9zM16 23h9v1h-9zM17 24h8v1h-8z"/><path fill="#2a70b8" d="M6 16h1v1h-1zM22 20h1v1h-1zM3 21h1v1h-1zM2 22h2v1h-2zM3 23h2v1h-2zM3 24h1v1h-1z"/></svg></div><div class="c" style="left:209px;top:93px;background:#ff99ff"></div><div class="c" style="left:235px;top:93px;background:#ff99ff"><svg viewBox="0 0 25 25" shape-rendering="crispEdges" style="filter:blur(0.4px)"><path fill="#1a2c1c" d="M0 0h25v1h-25zM0 1h8v1h-8zM14 1h11v1h-11zM0 2h8v1h-8zM15 2h10v1h-10zM0 3h7v1h-7zM15 3h10v1h-10zM0 4h6v1h-6zM17 4h8v1h-8zM0 5h6v1h-6zM17 5h8v1h-8zM0 6h6v1h-6zM18 6h7v1h-7zM0 7h6v1h-6zM19 7h6v1h-6zM0 8h6v1h-6zM19 8h6v1h-6zM0 9h6v1h-6zM20 9h5v1h-5zM0 10h5v1h-5zM21 10h2v1h-2zM24 10h1v1h-1zM0 11h4v1h-4zM5 11h1v1h-1zM22 11h1v1h-1zM24 11h1v1h-1zM0 12h4v1h-4zM22 12h1v1h-1zM24 12h1v1h-1zM0 13h3v1h-3zM24 13h1v1h-1zM0 14h3v1h-3zM24 14h1v1h-1zM0 15h3v1h-3zM24 15h1v1h-1zM0 16h1v1h-1zM6 16h1v1h-1zM24 16h1v1h-1zM0 17h1v1h-1zM24 17h1v1h-1zM24 18h1v1h-1zM24 19h1v1h-1zM24 20h1v1h-1zM24 21h1v1h-1zM24 22h1v1h-1zM24 23h1v1h-1zM23 24h2v1h-2z"/><path fill="#6a5a38" d="M8 1h2v1h-2zM8 2h1v1h-1zM16 4h1v1h-1z"/><path fill="#4a3414" d="M10 1h4v1h-4zM10 2h4v1h-4zM10 3h5v1h-5zM11 4h4v1h-4z"/><path fill="#5c4420" d="M9 2h1v1h-1zM14 2h1v1h-1zM8 3h2v1h-2zM8 4h3v1h-3zM8 5h1v1h-1z"/><path fill="#2c4232" d="M7 3h1v1h-1zM6 4h2v1h-2zM6 5h2v1h-2zM6 6h2v1h-2zM6 7h2v1h-2zM6 8h1v1h-1zM6 9h1v1h-1zM5 10h1v1h-1zM20 10h1v1h-1z"/><path fill="#4c4c14" d="M15 4h1v1h-1zM13 5h4v1h-4zM12 6h6v1h-6zM14 7h5v1h-5zM14 8h5v1h-5zM15 9h5v1h-5zM15 10h5v1h-5zM15 11h7v1h-7zM17 12h5v1h-5zM16 13h6v1h-6zM16 14h6v1h-6zM16 15h6v1h-6zM16 16h5v1h-5zM15 17h6v1h-6zM13 18h8v1h-8z"/><path fill="#202410" d="M9 5h4v1h-4zM11 6h1v1h-1zM13 9h2v1h-2zM13 10h2v1h-2zM8 18h5v1h-5z"/><path fill="#9ad8cc" d="M8 6h3v1h-3zM8 7h3v1h-3zM12 7h2v1h-2zM8 8h3v1h-3zM12 8h1v1h-1zM12 9h1v1h-1zM9 14h7v1h-7zM9 15h6v1h-6zM8 16h8v1h-8zM9 17h5v1h-5zM9 19h11v1h-11zM9 20h11v1h-11zM9 21h11v1h-11zM9 22h11v1h-11zM10 23h10v1h-10zM10 24h10v1h-10z"/><path fill="#7cb8a8" d="M11 7h1v1h-1zM11 8h1v1h-1zM13 8h1v1h-1zM9 9h2v1h-2zM9 10h4v1h-4zM9 11h6v1h-6zM9 12h8v1h-8zM9 13h7v1h-7zM8 14h1v1h-1zM6 15h3v1h-3zM15 15h1v1h-1zM8 17h1v1h-1zM14 17h1v1h-1zM8 19h1v1h-1zM8 20h1v1h-1zM8 21h1v1h-1zM8 22h1v1h-1zM8 23h2v1h-2zM8 24h2v1h-2z"/><path fill="#7a6060" d="M7 8h1v1h-1zM7 9h2v1h-2zM8 10h1v1h-1z"/><path fill="#123444" d="M11 9h1v1h-1z"/><path fill="#060606" d="M6 10h2v1h-2zM6 11h3v1h-3zM4 12h5v1h-5zM4 13h5v1h-5zM4 14h4v1h-4z"/><path fill="#1e5a8a" d="M23 10h1v1h-1zM23 11h1v1h-1zM23 12h1v1h-1zM22 14h1v1h-1zM6 17h1v1h-1zM6 20h1v1h-1zM23 20h1v1h-1zM6 21h1v1h-1zM22 21h2v1h-2zM6 22h1v1h-1zM22 22h1v1h-1zM22 23h1v1h-1z"/><path fill="#6a7464" d="M4 11h1v1h-1zM3 13h1v1h-1zM3 14h1v1h-1zM3 15h1v1h-1zM5 15h1v1h-1zM5 16h1v1h-1zM5 17h1v1h-1z"/><path fill="#34d0e8" d="M22 13h2v1h-2zM23 14h1v1h-1zM22 15h2v1h-2zM22 16h2v1h-2zM22 17h2v1h-2zM6 18h1v1h-1zM22 18h2v1h-2zM6 19h1v1h-1zM22 19h2v1h-2zM22 20h1v1h-1z"/><path fill="#5e2c10" d="M4 15h1v1h-1zM1 16h4v1h-4zM1 17h4v1h-4zM0 18h5v1h-5zM0 19h5v1h-5zM0 20h5v1h-5zM0 21h5v1h-5zM0 22h5v1h-5zM0 23h5v1h-5zM0 24h5v1h-5z"/><path fill="#102a1a" d="M7 16h1v1h-1zM21 16h1v1h-1zM7 17h1v1h-1zM21 17h1v1h-1zM5 18h1v1h-1zM7 18h1v1h-1zM21 18h1v1h-1zM5 19h1v1h-1zM7 19h1v1h-1zM20 19h2v1h-2zM5 20h1v1h-1zM7 20h1v1h-1zM20 20h2v1h-2zM5 21h1v1h-1zM7 21h1v1h-1zM20 21h2v1h-2zM5 22h1v1h-1zM7 22h1v1h-1zM20 22h2v1h-2zM23 22h1v1h-1zM5 23h3v1h-3zM20 23h2v1h-2zM23 23h1v1h-1zM5 24h3v1h-3zM20 24h3v1h-3z"/></svg></div><div class="c" style="left:261px;top:93px;background:#ff99ff"></div><div class="c" style="left:287px;top:93px;background:#ff99ff"></div><div class="c" style="left:313px;top:93px;background:#ff99ff"></div><div class="c" style="left:339px;top:93px;background:#ff99ff"><svg viewBox="0 0 25 25" shape-rendering="crispEdges"><path fill="#eef3fb" d="M0 0h7v1h-7zM17 0h8v1h-8zM0 1h5v1h-5zM19 1h6v1h-6zM0 2h3v1h-3zM21 2h4v1h-4zM0 3h2v1h-2zM22 3h3v1h-3zM0 4h2v1h-2zM22 4h3v1h-3zM0 5h1v1h-1zM22 5h3v1h-3zM0 6h1v1h-1zM23 6h2v1h-2zM23 7h2v1h-2zM23 8h2v1h-2zM24 9h1v1h-1zM24 10h1v1h-1zM24 11h1v1h-1zM24 12h1v1h-1z"/><path fill="#8c5210" d="M7 0h3v1h-3zM5 1h1v1h-1zM8 1h1v1h-1zM3 2h1v1h-1zM6 2h1v1h-1zM2 3h1v1h-1zM4 3h1v1h-1zM18 3h1v1h-1zM20 3h1v1h-1zM2 4h1v1h-1zM4 4h1v1h-1zM18 4h1v1h-1zM20 4h1v1h-1zM1 5h1v1h-1zM3 5h1v1h-1zM19 5h1v1h-1zM2 6h1v1h-1zM19 6h1v1h-1zM21 6h1v1h-1zM0 7h1v1h-1zM2 7h1v1h-1zM19 7h1v1h-1zM21 7h1v1h-1zM0 8h1v1h-1zM2 8h1v1h-1zM18 8h1v1h-1zM20 8h1v1h-1zM0 9h1v1h-1zM2 9h1v1h-1zM9 9h1v1h-1zM17 9h1v1h-1zM19 9h1v1h-1zM21 9h1v1h-1zM0 10h1v1h-1zM2 10h1v1h-1zM4 10h1v1h-1zM17 10h1v1h-1zM19 10h1v1h-1zM21 10h1v1h-1zM0 11h1v1h-1zM2 11h1v1h-1zM18 11h1v1h-1zM20 11h1v1h-1zM22 11h1v1h-1zM0 12h1v1h-1zM2 12h1v1h-1zM5 12h1v1h-1zM13 12h1v1h-1zM20 12h1v1h-1zM22 12h1v1h-1zM2 13h1v1h-1zM17 13h2v1h-2zM20 13h1v1h-1zM22 13h1v1h-1zM1 14h1v1h-1zM3 14h1v1h-1zM6 14h1v1h-1zM17 14h1v1h-1zM19 14h1v1h-1zM22 14h1v1h-1zM2 15h1v1h-1zM6 15h1v1h-1zM17 15h2v1h-2zM22 15h1v1h-1zM6 16h1v1h-1zM11 16h1v1h-1zM16 16h2v1h-2zM22 16h1v1h-1zM24 16h1v1h-1zM0 17h1v1h-1zM11 17h1v1h-1zM15 17h1v1h-1zM19 17h1v1h-1zM22 17h1v1h-1zM24 17h1v1h-1zM0 18h1v1h-1zM6 18h1v1h-1zM13 18h2v1h-2zM20 18h1v1h-1zM22 18h1v1h-1zM23 20h1v1h-1z"/><path fill="#141010" d="M10 0h7v1h-7zM18 1h1v1h-1zM20 2h1v1h-1zM21 3h1v1h-1zM21 4h1v1h-1zM21 5h1v1h-1zM14 6h3v1h-3zM22 6h1v1h-1zM6 7h5v1h-5zM13 7h1v1h-1zM17 7h1v1h-1zM22 7h1v1h-1zM5 8h1v1h-1zM11 8h1v1h-1zM22 8h1v1h-1zM11 9h1v1h-1zM14 9h2v1h-2zM23 9h1v1h-1zM6 10h1v1h-1zM11 10h1v1h-1zM13 10h1v1h-1zM16 10h1v1h-1zM23 10h1v1h-1zM5 11h1v1h-1zM17 11h1v1h-1zM23 11h1v1h-1zM6 12h1v1h-1zM17 12h1v1h-1zM6 13h1v1h-1zM19 15h1v1h-1zM3 16h1v1h-1zM7 16h1v1h-1zM19 16h1v1h-1zM4 17h1v1h-1zM7 17h1v1h-1zM16 17h2v1h-2zM3 18h2v1h-2zM15 18h1v1h-1zM17 18h1v1h-1zM21 18h1v1h-1zM2 19h3v1h-3zM12 19h1v1h-1zM15 19h2v1h-2zM21 19h1v1h-1zM23 19h1v1h-1zM3 20h1v1h-1zM12 20h1v1h-1zM15 20h1v1h-1zM17 20h1v1h-1zM10 21h2v1h-2zM17 21h1v1h-1zM23 21h1v1h-1zM11 22h1v1h-1zM20 22h1v1h-1zM21 23h1v1h-1zM21 24h1v1h-1z"/><path fill="#e8a014" d="M6 1h2v1h-2zM4 2h2v1h-2zM19 2h1v1h-1zM3 3h1v1h-1zM5 3h1v1h-1zM17 3h1v1h-1zM19 3h1v1h-1zM3 4h1v1h-1zM8 4h1v1h-1zM19 4h1v1h-1zM2 5h1v1h-1zM7 5h2v1h-2zM18 5h1v1h-1zM20 5h1v1h-1zM1 6h1v1h-1zM6 6h5v1h-5zM18 6h1v1h-1zM20 6h1v1h-1zM1 7h1v1h-1zM11 7h2v1h-2zM16 7h1v1h-1zM18 7h1v1h-1zM20 7h1v1h-1zM1 8h1v1h-1zM4 8h1v1h-1zM6 8h4v1h-4zM12 8h1v1h-1zM14 8h4v1h-4zM19 8h1v1h-1zM21 8h1v1h-1zM1 9h1v1h-1zM3 9h6v1h-6zM12 9h2v1h-2zM16 9h1v1h-1zM18 9h1v1h-1zM20 9h1v1h-1zM22 9h1v1h-1zM1 10h1v1h-1zM3 10h1v1h-1zM5 10h1v1h-1zM18 10h1v1h-1zM20 10h1v1h-1zM22 10h1v1h-1zM1 11h1v1h-1zM3 11h2v1h-2zM19 11h1v1h-1zM21 11h1v1h-1zM1 12h1v1h-1zM3 12h2v1h-2zM18 12h2v1h-2zM21 12h1v1h-1zM23 12h1v1h-1zM1 13h1v1h-1zM3 13h3v1h-3zM19 13h1v1h-1zM21 13h1v1h-1zM2 14h1v1h-1zM4 14h2v1h-2zM18 14h1v1h-1zM20 14h2v1h-2zM1 15h1v1h-1zM3 15h3v1h-3zM20 15h2v1h-2zM1 16h2v1h-2zM4 16h2v1h-2zM18 16h1v1h-1zM20 16h2v1h-2zM1 17h3v1h-3zM5 17h2v1h-2zM18 17h1v1h-1zM20 17h2v1h-2zM1 18h2v1h-2zM5 18h1v1h-1zM7 18h2v1h-2z"/><path fill="#ea1212" d="M9 1h8v1h-8zM7 2h3v1h-3zM6 3h3v1h-3zM6 4h2v1h-2zM5 5h2v1h-2zM7 21h1v1h-1zM13 21h1v1h-1zM7 22h1v1h-1zM13 22h1v1h-1zM7 23h1v1h-1zM9 23h1v1h-1zM13 23h1v1h-1zM7 24h3v1h-3z"/><path fill="#981414" d="M17 1h1v1h-1zM10 2h9v1h-9zM5 4h1v1h-1zM5 6h1v1h-1zM5 7h1v1h-1zM7 20h1v1h-1zM12 21h1v1h-1zM12 22h1v1h-1zM0 23h1v1h-1zM12 23h1v1h-1zM0 24h1v1h-1zM12 24h1v1h-1z"/><path fill="#f8e400" d="M9 3h8v1h-8zM9 4h9v1h-9zM4 5h1v1h-1zM9 5h9v1h-9zM3 6h2v1h-2zM11 6h3v1h-3zM17 6h1v1h-1zM3 7h2v1h-2zM14 7h2v1h-2zM3 8h1v1h-1zM13 8h1v1h-1z"/><path fill="#f8d8c4" d="M10 8h1v1h-1zM10 9h1v1h-1zM12 10h1v1h-1zM11 11h3v1h-3zM11 12h2v1h-2zM14 12h1v1h-1zM11 13h3v1h-3zM15 13h1v1h-1zM10 14h7v1h-7zM7 15h10v1h-10zM8 16h3v1h-3zM12 16h4v1h-4zM8 17h3v1h-3zM12 17h3v1h-3zM10 18h3v1h-3z"/><path fill="#0c2a84" d="M7 10h3v1h-3zM6 11h4v1h-4zM0 20h1v1h-1zM8 20h2v1h-2zM1 21h2v1h-2zM5 21h2v1h-2zM9 21h1v1h-1zM2 22h1v1h-1zM6 22h1v1h-1zM9 22h1v1h-1zM2 23h1v1h-1zM4 23h1v1h-1zM6 23h1v1h-1zM10 23h1v1h-1zM2 24h1v1h-1zM4 24h1v1h-1zM6 24h1v1h-1zM10 24h1v1h-1z"/><path fill="#ffffff" d="M10 10h1v1h-1zM15 10h1v1h-1zM10 11h1v1h-1zM15 11h2v1h-2zM10 12h1v1h-1zM15 12h2v1h-2zM0 13h1v1h-1zM10 13h1v1h-1zM16 13h1v1h-1zM23 13h2v1h-2zM0 14h1v1h-1zM23 14h2v1h-2zM0 15h1v1h-1zM23 15h2v1h-2zM0 16h1v1h-1zM23 16h1v1h-1zM23 17h1v1h-1zM16 18h1v1h-1zM18 18h2v1h-2zM24 18h1v1h-1zM14 19h1v1h-1zM17 19h4v1h-4zM22 19h1v1h-1zM24 19h1v1h-1zM2 20h1v1h-1zM6 20h1v1h-1zM11 20h1v1h-1zM13 20h1v1h-1zM16 20h1v1h-1zM18 20h3v1h-3zM22 20h1v1h-1zM24 20h1v1h-1zM3 21h1v1h-1zM15 21h2v1h-2zM18 21h2v1h-2zM21 21h2v1h-2zM24 21h1v1h-1zM16 22h1v1h-1zM18 22h2v1h-2zM22 22h3v1h-3zM11 23h1v1h-1zM16 23h1v1h-1zM22 23h2v1h-2zM23 24h2v1h-2z"/><path fill="#2452f0" d="M14 10h1v1h-1zM14 11h1v1h-1zM7 12h3v1h-3zM8 13h2v1h-2zM14 13h1v1h-1zM9 14h1v1h-1zM0 21h1v1h-1zM0 22h1v1h-1zM4 22h2v1h-2zM21 22h1v1h-1zM1 23h1v1h-1zM5 23h1v1h-1zM18 23h3v1h-3zM1 24h1v1h-1zM5 24h1v1h-1zM16 24h4v1h-4z"/><path fill="#4c92f4" d="M7 13h1v1h-1zM7 14h2v1h-2zM8 21h1v1h-1zM1 22h1v1h-1zM3 22h1v1h-1zM8 22h1v1h-1zM3 23h1v1h-1zM8 23h1v1h-1zM3 24h1v1h-1z"/><path fill="#c4c8d0" d="M9 18h1v1h-1zM23 18h1v1h-1zM0 19h2v1h-2zM5 19h7v1h-7zM13 19h1v1h-1zM1 20h1v1h-1zM4 20h2v1h-2zM10 20h1v1h-1zM14 20h1v1h-1zM21 20h1v1h-1zM4 21h1v1h-1zM14 21h1v1h-1zM20 21h1v1h-1zM10 22h1v1h-1zM14 22h2v1h-2zM17 22h1v1h-1zM14 23h2v1h-2zM17 23h1v1h-1zM24 23h1v1h-1zM11 24h1v1h-1zM13 24h3v1h-3zM20 24h1v1h-1zM22 24h1v1h-1z"/></svg></div><div class="c" style="left:365px;top:93px;background:#ff99ff"><svg viewBox="0 0 25 25" shape-rendering="crispEdges" style="filter:blur(0.4px)"><path fill="#1a2c1c" d="M0 0h25v1h-25zM0 1h8v1h-8zM14 1h11v1h-11zM0 2h8v1h-8zM15 2h10v1h-10zM0 3h7v1h-7zM15 3h10v1h-10zM0 4h6v1h-6zM17 4h8v1h-8zM0 5h6v1h-6zM17 5h8v1h-8zM0 6h6v1h-6zM18 6h7v1h-7zM0 7h6v1h-6zM19 7h6v1h-6zM0 8h6v1h-6zM19 8h6v1h-6zM0 9h6v1h-6zM20 9h5v1h-5zM0 10h5v1h-5zM21 10h2v1h-2zM24 10h1v1h-1zM0 11h4v1h-4zM5 11h1v1h-1zM22 11h1v1h-1zM24 11h1v1h-1zM0 12h4v1h-4zM22 12h1v1h-1zM24 12h1v1h-1zM0 13h3v1h-3zM24 13h1v1h-1zM0 14h3v1h-3zM24 14h1v1h-1zM0 15h3v1h-3zM24 15h1v1h-1zM0 16h1v1h-1zM6 16h1v1h-1zM24 16h1v1h-1zM0 17h1v1h-1zM24 17h1v1h-1zM24 18h1v1h-1zM24 19h1v1h-1zM24 20h1v1h-1zM24 21h1v1h-1zM24 22h1v1h-1zM24 23h1v1h-1zM23 24h2v1h-2z"/><path fill="#6a5a38" d="M8 1h2v1h-2zM8 2h1v1h-1zM16 4h1v1h-1z"/><path fill="#4a3414" d="M10 1h4v1h-4zM10 2h4v1h-4zM10 3h5v1h-5zM11 4h4v1h-4z"/><path fill="#5c4420" d="M9 2h1v1h-1zM14 2h1v1h-1zM8 3h2v1h-2zM8 4h3v1h-3zM8 5h1v1h-1z"/><path fill="#2c4232" d="M7 3h1v1h-1zM6 4h2v1h-2zM6 5h2v1h-2zM6 6h2v1h-2zM6 7h2v1h-2zM6 8h1v1h-1zM6 9h1v1h-1zM5 10h1v1h-1zM20 10h1v1h-1z"/><path fill="#4c4c14" d="M15 4h1v1h-1zM13 5h4v1h-4zM12 6h6v1h-6zM14 7h5v1h-5zM14 8h5v1h-5zM15 9h5v1h-5zM15 10h5v1h-5zM15 11h7v1h-7zM17 12h5v1h-5zM16 13h6v1h-6zM16 14h6v1h-6zM16 15h6v1h-6zM16 16h5v1h-5zM15 17h6v1h-6zM13 18h8v1h-8z"/><path fill="#202410" d="M9 5h4v1h-4zM11 6h1v1h-1zM13 9h2v1h-2zM13 10h2v1h-2zM8 18h5v1h-5z"/><path fill="#9ad8cc" d="M8 6h3v1h-3zM8 7h3v1h-3zM12 7h2v1h-2zM8 8h3v1h-3zM12 8h1v1h-1zM12 9h1v1h-1zM9 14h7v1h-7zM9 15h6v1h-6zM8 16h8v1h-8zM9 17h5v1h-5zM9 19h11v1h-11zM9 20h11v1h-11zM9 21h11v1h-11zM9 22h11v1h-11zM10 23h10v1h-10zM10 24h10v1h-10z"/><path fill="#7cb8a8" d="M11 7h1v1h-1zM11 8h1v1h-1zM13 8h1v1h-1zM9 9h2v1h-2zM9 10h4v1h-4zM9 11h6v1h-6zM9 12h8v1h-8zM9 13h7v1h-7zM8 14h1v1h-1zM6 15h3v1h-3zM15 15h1v1h-1zM8 17h1v1h-1zM14 17h1v1h-1zM8 19h1v1h-1zM8 20h1v1h-1zM8 21h1v1h-1zM8 22h1v1h-1zM8 23h2v1h-2zM8 24h2v1h-2z"/><path fill="#7a6060" d="M7 8h1v1h-1zM7 9h2v1h-2zM8 10h1v1h-1z"/><path fill="#123444" d="M11 9h1v1h-1z"/><path fill="#060606" d="M6 10h2v1h-2zM6 11h3v1h-3zM4 12h5v1h-5zM4 13h5v1h-5zM4 14h4v1h-4z"/><path fill="#1e5a8a" d="M23 10h1v1h-1zM23 11h1v1h-1zM23 12h1v1h-1zM22 14h1v1h-1zM6 17h1v1h-1zM6 20h1v1h-1zM23 20h1v1h-1zM6 21h1v1h-1zM22 21h2v1h-2zM6 22h1v1h-1zM22 22h1v1h-1zM22 23h1v1h-1z"/><path fill="#6a7464" d="M4 11h1v1h-1zM3 13h1v1h-1zM3 14h1v1h-1zM3 15h1v1h-1zM5 15h1v1h-1zM5 16h1v1h-1zM5 17h1v1h-1z"/><path fill="#34d0e8" d="M22 13h2v1h-2zM23 14h1v1h-1zM22 15h2v1h-2zM22 16h2v1h-2zM22 17h2v1h-2zM6 18h1v1h-1zM22 18h2v1h-2zM6 19h1v1h-1zM22 19h2v1h-2zM22 20h1v1h-1z"/><path fill="#5e2c10" d="M4 15h1v1h-1zM1 16h4v1h-4zM1 17h4v1h-4zM0 18h5v1h-5zM0 19h5v1h-5zM0 20h5v1h-5zM0 21h5v1h-5zM0 22h5v1h-5zM0 23h5v1h-5zM0 24h5v1h-5z"/><path fill="#102a1a" d="M7 16h1v1h-1zM21 16h1v1h-1zM7 17h1v1h-1zM21 17h1v1h-1zM5 18h1v1h-1zM7 18h1v1h-1zM21 18h1v1h-1zM5 19h1v1h-1zM7 19h1v1h-1zM20 19h2v1h-2zM5 20h1v1h-1zM7 20h1v1h-1zM20 20h2v1h-2zM5 21h1v1h-1zM7 21h1v1h-1zM20 21h2v1h-2zM5 22h1v1h-1zM7 22h1v1h-1zM20 22h2v1h-2zM23 22h1v1h-1zM5 23h3v1h-3zM20 23h2v1h-2zM23 23h1v1h-1zM5 24h3v1h-3zM20 24h3v1h-3z"/></svg></div><div class="c" style="left:391px;top:93px;background:#ff99ff"><svg viewBox="0 0 25 25" shape-rendering="crispEdges" style="filter:blur(0.4px)"><path fill="#1a2c1c" d="M0 0h25v1h-25zM0 1h8v1h-8zM14 1h11v1h-11zM0 2h8v1h-8zM15 2h10v1h-10zM0 3h7v1h-7zM15 3h10v1h-10zM0 4h6v1h-6zM17 4h8v1h-8zM0 5h6v1h-6zM17 5h8v1h-8zM0 6h6v1h-6zM18 6h7v1h-7zM0 7h6v1h-6zM19 7h6v1h-6zM0 8h6v1h-6zM19 8h6v1h-6zM0 9h6v1h-6zM20 9h5v1h-5zM0 10h5v1h-5zM21 10h2v1h-2zM24 10h1v1h-1zM0 11h4v1h-4zM5 11h1v1h-1zM22 11h1v1h-1zM24 11h1v1h-1zM0 12h4v1h-4zM22 12h1v1h-1zM24 12h1v1h-1zM0 13h3v1h-3zM24 13h1v1h-1zM0 14h3v1h-3zM24 14h1v1h-1zM0 15h3v1h-3zM24 15h1v1h-1zM0 16h1v1h-1zM6 16h1v1h-1zM24 16h1v1h-1zM0 17h1v1h-1zM24 17h1v1h-1zM24 18h1v1h-1zM24 19h1v1h-1zM24 20h1v1h-1zM24 21h1v1h-1zM24 22h1v1h-1zM24 23h1v1h-1zM23 24h2v1h-2z"/><path fill="#6a5a38" d="M8 1h2v1h-2zM8 2h1v1h-1zM16 4h1v1h-1z"/><path fill="#4a3414" d="M10 1h4v1h-4zM10 2h4v1h-4zM10 3h5v1h-5zM11 4h4v1h-4z"/><path fill="#5c4420" d="M9 2h1v1h-1zM14 2h1v1h-1zM8 3h2v1h-2zM8 4h3v1h-3zM8 5h1v1h-1z"/><path fill="#2c4232" d="M7 3h1v1h-1zM6 4h2v1h-2zM6 5h2v1h-2zM6 6h2v1h-2zM6 7h2v1h-2zM6 8h1v1h-1zM6 9h1v1h-1zM5 10h1v1h-1zM20 10h1v1h-1z"/><path fill="#4c4c14" d="M15 4h1v1h-1zM13 5h4v1h-4zM12 6h6v1h-6zM14 7h5v1h-5zM14 8h5v1h-5zM15 9h5v1h-5zM15 10h5v1h-5zM15 11h7v1h-7zM17 12h5v1h-5zM16 13h6v1h-6zM16 14h6v1h-6zM16 15h6v1h-6zM16 16h5v1h-5zM15 17h6v1h-6zM13 18h8v1h-8z"/><path fill="#202410" d="M9 5h4v1h-4zM11 6h1v1h-1zM13 9h2v1h-2zM13 10h2v1h-2zM8 18h5v1h-5z"/><path fill="#9ad8cc" d="M8 6h3v1h-3zM8 7h3v1h-3zM12 7h2v1h-2zM8 8h3v1h-3zM12 8h1v1h-1zM12 9h1v1h-1zM9 14h7v1h-7zM9 15h6v1h-6zM8 16h8v1h-8zM9 17h5v1h-5zM9 19h11v1h-11zM9 20h11v1h-11zM9 21h11v1h-11zM9 22h11v1h-11zM10 23h10v1h-10zM10 24h10v1h-10z"/><path fill="#7cb8a8" d="M11 7h1v1h-1zM11 8h1v1h-1zM13 8h1v1h-1zM9 9h2v1h-2zM9 10h4v1h-4zM9 11h6v1h-6zM9 12h8v1h-8zM9 13h7v1h-7zM8 14h1v1h-1zM6 15h3v1h-3zM15 15h1v1h-1zM8 17h1v1h-1zM14 17h1v1h-1zM8 19h1v1h-1zM8 20h1v1h-1zM8 21h1v1h-1zM8 22h1v1h-1zM8 23h2v1h-2zM8 24h2v1h-2z"/><path fill="#7a6060" d="M7 8h1v1h-1zM7 9h2v1h-2zM8 10h1v1h-1z"/><path fill="#123444" d="M11 9h1v1h-1z"/><path fill="#060606" d="M6 10h2v1h-2zM6 11h3v1h-3zM4 12h5v1h-5zM4 13h5v1h-5zM4 14h4v1h-4z"/><path fill="#1e5a8a" d="M23 10h1v1h-1zM23 11h1v1h-1zM23 12h1v1h-1zM22 14h1v1h-1zM6 17h1v1h-1zM6 20h1v1h-1zM23 20h1v1h-1zM6 21h1v1h-1zM22 21h2v1h-2zM6 22h1v1h-1zM22 22h1v1h-1zM22 23h1v1h-1z"/><path fill="#6a7464" d="M4 11h1v1h-1zM3 13h1v1h-1zM3 14h1v1h-1zM3 15h1v1h-1zM5 15h1v1h-1zM5 16h1v1h-1zM5 17h1v1h-1z"/><path fill="#34d0e8" d="M22 13h2v1h-2zM23 14h1v1h-1zM22 15h2v1h-2zM22 16h2v1h-2zM22 17h2v1h-2zM6 18h1v1h-1zM22 18h2v1h-2zM6 19h1v1h-1zM22 19h2v1h-2zM22 20h1v1h-1z"/><path fill="#5e2c10" d="M4 15h1v1h-1zM1 16h4v1h-4zM1 17h4v1h-4zM0 18h5v1h-5zM0 19h5v1h-5zM0 20h5v1h-5zM0 21h5v1h-5zM0 22h5v1h-5zM0 23h5v1h-5zM0 24h5v1h-5z"/><path fill="#102a1a" d="M7 16h1v1h-1zM21 16h1v1h-1zM7 17h1v1h-1zM21 17h1v1h-1zM5 18h1v1h-1zM7 18h1v1h-1zM21 18h1v1h-1zM5 19h1v1h-1zM7 19h1v1h-1zM20 19h2v1h-2zM5 20h1v1h-1zM7 20h1v1h-1zM20 20h2v1h-2zM5 21h1v1h-1zM7 21h1v1h-1zM20 21h2v1h-2zM5 22h1v1h-1zM7 22h1v1h-1zM20 22h2v1h-2zM23 22h1v1h-1zM5 23h3v1h-3zM20 23h2v1h-2zM23 23h1v1h-1zM5 24h3v1h-3zM20 24h3v1h-3z"/></svg></div><div class="c" style="left:417px;top:93px;background:#ff99ff"></div><div class="c" style="left:443px;top:93px;background:#ff99ff"></div><div class="c" style="left:469px;top:93px;background:#ff99ff"></div><div class="c" style="left:495px;top:93px;background:#ff99ff"><svg viewBox="0 0 25 25" shape-rendering="crispEdges"><path fill="#2c3490" d="M0 0h4v1h-4zM0 1h2v1h-2zM0 2h1v1h-1zM0 3h1v1h-1z"/><path fill="#141010" d="M4 0h1v1h-1zM6 0h1v1h-1zM11 0h1v1h-1zM13 0h1v1h-1zM16 0h1v1h-1zM23 0h1v1h-1zM4 1h1v1h-1zM6 1h1v1h-1zM13 1h1v1h-1zM15 1h2v1h-2zM24 1h1v1h-1zM1 2h1v1h-1zM3 2h2v1h-2zM14 2h1v1h-1zM17 2h1v1h-1zM24 2h1v1h-1zM3 3h2v1h-2zM17 3h1v1h-1zM19 3h1v1h-1zM24 3h1v1h-1zM0 4h1v1h-1zM3 4h1v1h-1zM8 4h4v1h-4zM14 4h1v1h-1zM17 4h1v1h-1zM24 4h1v1h-1zM2 5h1v1h-1zM4 5h1v1h-1zM11 5h1v1h-1zM23 5h2v1h-2zM3 6h1v1h-1zM5 6h1v1h-1zM14 6h1v1h-1zM16 6h2v1h-2zM22 6h1v1h-1zM0 7h1v1h-1zM3 7h2v1h-2zM7 7h1v1h-1zM15 7h2v1h-2zM18 7h1v1h-1zM0 8h1v1h-1zM7 8h1v1h-1zM10 8h1v1h-1zM14 8h2v1h-2zM19 8h1v1h-1zM2 9h1v1h-1zM5 9h1v1h-1zM8 9h1v1h-1zM10 9h1v1h-1zM12 9h1v1h-1zM14 9h1v1h-1zM3 10h1v1h-1zM8 10h3v1h-3zM15 10h1v1h-1zM0 11h1v1h-1zM3 11h1v1h-1zM5 11h1v1h-1zM8 11h1v1h-1zM16 11h1v1h-1zM0 12h1v1h-1zM2 12h1v1h-1zM7 12h1v1h-1zM9 12h1v1h-1zM11 12h1v1h-1zM15 12h1v1h-1zM23 12h1v1h-1zM0 13h3v1h-3zM15 13h2v1h-2zM18 13h4v1h-4zM23 13h2v1h-2zM0 14h2v1h-2zM13 14h1v1h-1zM16 14h4v1h-4zM21 14h4v1h-4zM2 15h1v1h-1zM5 15h2v1h-2zM16 15h1v1h-1zM21 15h1v1h-1zM2 16h2v1h-2zM5 16h1v1h-1zM7 16h1v1h-1zM16 16h1v1h-1zM21 16h1v1h-1zM2 17h2v1h-2zM5 17h3v1h-3zM16 17h1v1h-1zM20 17h2v1h-2zM2 18h2v1h-2zM6 18h1v1h-1zM8 18h1v1h-1zM16 18h1v1h-1zM18 18h2v1h-2zM2 19h2v1h-2zM7 19h1v1h-1zM16 19h1v1h-1zM22 19h3v1h-3zM2 20h1v1h-1zM4 20h1v1h-1zM8 20h1v1h-1zM16 20h1v1h-1zM23 20h2v1h-2zM2 21h1v1h-1zM4 21h1v1h-1zM6 21h1v1h-1zM8 21h1v1h-1zM16 21h1v1h-1zM0 22h2v1h-2zM4 22h1v1h-1zM9 22h1v1h-1zM15 22h1v1h-1zM1 23h2v1h-2zM9 23h1v1h-1zM15 23h1v1h-1zM2 24h1v1h-1zM4 24h1v1h-1zM9 24h1v1h-1zM16 24h1v1h-1z"/><path fill="#b040a8" d="M5 0h1v1h-1zM17 0h6v1h-6zM24 0h1v1h-1zM17 1h6v1h-6zM18 2h3v1h-3zM0 5h1v1h-1zM0 6h1v1h-1z"/><path fill="#f07a24" d="M7 0h1v1h-1zM5 1h1v1h-1zM12 1h1v1h-1zM5 2h9v1h-9zM5 3h8v1h-8zM5 4h2v1h-2zM13 4h1v1h-1zM5 5h1v1h-1zM12 5h2v1h-2zM5 7h2v1h-2zM5 8h1v1h-1z"/><path fill="#f8b828" d="M8 0h3v1h-3zM12 0h1v1h-1zM7 1h4v1h-4zM6 5h1v1h-1zM0 15h2v1h-2zM0 16h2v1h-2zM0 17h2v1h-2zM0 18h2v1h-2zM0 19h1v1h-1zM0 23h1v1h-1zM0 24h1v1h-1z"/><path fill="#f4e6b4" d="M14 0h2v1h-2zM14 1h1v1h-1zM23 1h1v1h-1zM2 2h1v1h-1zM15 2h1v1h-1zM21 2h3v1h-3zM1 3h2v1h-2zM15 3h2v1h-2zM20 3h4v1h-4zM1 4h2v1h-2zM15 4h2v1h-2zM20 4h3v1h-3zM1 5h1v1h-1zM15 5h3v1h-3zM21 5h2v1h-2zM1 6h2v1h-2zM15 6h1v1h-1zM1 7h2v1h-2zM1 8h2v1h-2z"/><path fill="#7c9ce0" d="M2 1h2v1h-2z"/><path fill="#8a4a18" d="M11 1h1v1h-1zM4 4h1v1h-1zM19 4h1v1h-1zM23 4h1v1h-1zM3 5h1v1h-1zM20 5h1v1h-1zM21 6h1v1h-1zM3 8h1v1h-1zM1 19h1v1h-1zM1 24h1v1h-1z"/><path fill="#0e5a22" d="M16 2h1v1h-1zM14 3h1v1h-1zM24 6h1v1h-1zM23 7h2v1h-2zM24 8h1v1h-1z"/><path fill="#981414" d="M13 3h1v1h-1zM11 6h2v1h-2zM11 7h1v1h-1zM4 8h1v1h-1zM6 8h1v1h-1zM12 8h1v1h-1zM3 9h2v1h-2zM7 9h1v1h-1zM11 9h1v1h-1zM4 10h1v1h-1zM7 10h1v1h-1zM14 13h1v1h-1zM14 14h2v1h-2zM9 15h4v1h-4zM15 15h1v1h-1zM8 16h1v1h-1zM15 16h1v1h-1zM8 17h1v1h-1zM7 18h1v1h-1zM8 19h1v1h-1zM9 20h1v1h-1zM9 21h1v1h-1zM15 21h1v1h-1zM13 22h2v1h-2z"/><path fill="#1ea640" d="M18 3h1v1h-1zM18 4h1v1h-1zM7 5h4v1h-4zM18 5h2v1h-2zM6 6h5v1h-5zM18 6h3v1h-3zM23 6h1v1h-1zM8 7h3v1h-3zM19 7h4v1h-4zM8 8h2v1h-2zM20 8h4v1h-4zM9 9h1v1h-1z"/><path fill="#ea1c1c" d="M7 4h1v1h-1zM12 4h1v1h-1zM13 6h1v1h-1zM12 7h1v1h-1zM11 8h1v1h-1zM6 9h1v1h-1zM13 15h1v1h-1zM9 16h6v1h-6zM9 17h7v1h-7zM9 18h7v1h-7zM9 19h4v1h-4zM14 19h2v1h-2zM10 20h3v1h-3zM14 20h2v1h-2zM10 21h3v1h-3zM14 21h1v1h-1z"/><path fill="#ffffff" d="M14 5h1v1h-1zM13 7h1v1h-1zM17 7h1v1h-1zM13 8h1v1h-1zM16 8h3v1h-3zM0 9h2v1h-2zM13 9h1v1h-1zM15 9h10v1h-10zM0 10h1v1h-1zM2 10h1v1h-1zM5 10h2v1h-2zM11 10h1v1h-1zM16 10h9v1h-9zM1 11h2v1h-2zM11 11h1v1h-1zM17 11h7v1h-7zM21 12h2v1h-2zM24 12h1v1h-1zM22 13h1v1h-1zM20 14h1v1h-1zM14 15h1v1h-1zM17 15h4v1h-4zM17 16h4v1h-4zM4 17h1v1h-1zM17 17h3v1h-3zM4 18h1v1h-1zM6 19h1v1h-1zM13 19h1v1h-1zM1 20h1v1h-1zM6 20h1v1h-1zM13 20h1v1h-1zM0 21h1v1h-1zM5 21h1v1h-1zM13 21h1v1h-1zM5 22h2v1h-2zM5 23h1v1h-1zM7 23h1v1h-1zM6 24h1v1h-1z"/><path fill="#b8c0cc" d="M4 6h1v1h-1zM14 7h1v1h-1zM1 10h1v1h-1zM24 11h1v1h-1zM1 12h1v1h-1zM18 12h3v1h-3zM0 20h1v1h-1zM1 21h1v1h-1z"/><path fill="#f4d8a8" d="M12 10h3v1h-3zM4 11h1v1h-1zM6 11h2v1h-2zM9 11h2v1h-2zM12 11h4v1h-4zM3 12h4v1h-4zM8 12h1v1h-1zM10 12h1v1h-1zM12 12h3v1h-3zM16 12h2v1h-2zM3 13h11v1h-11zM17 13h1v1h-1zM2 14h11v1h-11zM3 15h2v1h-2zM7 15h2v1h-2zM4 16h1v1h-1zM5 18h1v1h-1zM4 19h2v1h-2zM3 20h1v1h-1zM5 20h1v1h-1zM7 20h1v1h-1zM7 21h1v1h-1zM7 22h2v1h-2zM10 22h3v1h-3zM6 23h1v1h-1zM8 23h1v1h-1zM10 23h5v1h-5zM5 24h1v1h-1zM7 24h2v1h-2zM10 24h6v1h-6z"/><path fill="#f8bc30" d="M22 15h3v1h-3zM22 16h3v1h-3zM22 17h3v1h-3zM17 18h1v1h-1zM20 18h5v1h-5zM17 19h5v1h-5zM17 20h5v1h-5zM17 21h8v1h-8zM16 22h9v1h-9zM16 23h9v1h-9zM17 24h8v1h-8z"/><path fill="#2a70b8" d="M6 16h1v1h-1zM22 20h1v1h-1zM3 21h1v1h-1zM2 22h2v1h-2zM3 23h2v1h-2zM3 24h1v1h-1z"/></svg></div><div class="c" style="left:521px;top:93px;background:#ff99ff"></div><div class="c" style="left:547px;top:93px;background:#ff99ff"><svg viewBox="0 0 25 25" shape-rendering="crispEdges"><path fill="#eef3fb" d="M0 0h7v1h-7zM17 0h8v1h-8zM0 1h5v1h-5zM19 1h6v1h-6zM0 2h3v1h-3zM21 2h4v1h-4zM0 3h2v1h-2zM22 3h3v1h-3zM0 4h2v1h-2zM22 4h3v1h-3zM0 5h1v1h-1zM22 5h3v1h-3zM0 6h1v1h-1zM23 6h2v1h-2zM23 7h2v1h-2zM23 8h2v1h-2zM24 9h1v1h-1zM24 10h1v1h-1zM24 11h1v1h-1zM24 12h1v1h-1z"/><path fill="#8c5210" d="M7 0h3v1h-3zM5 1h1v1h-1zM8 1h1v1h-1zM3 2h1v1h-1zM6 2h1v1h-1zM2 3h1v1h-1zM4 3h1v1h-1zM18 3h1v1h-1zM20 3h1v1h-1zM2 4h1v1h-1zM4 4h1v1h-1zM18 4h1v1h-1zM20 4h1v1h-1zM1 5h1v1h-1zM3 5h1v1h-1zM19 5h1v1h-1zM2 6h1v1h-1zM19 6h1v1h-1zM21 6h1v1h-1zM0 7h1v1h-1zM2 7h1v1h-1zM19 7h1v1h-1zM21 7h1v1h-1zM0 8h1v1h-1zM2 8h1v1h-1zM18 8h1v1h-1zM20 8h1v1h-1zM0 9h1v1h-1zM2 9h1v1h-1zM9 9h1v1h-1zM17 9h1v1h-1zM19 9h1v1h-1zM21 9h1v1h-1zM0 10h1v1h-1zM2 10h1v1h-1zM4 10h1v1h-1zM17 10h1v1h-1zM19 10h1v1h-1zM21 10h1v1h-1zM0 11h1v1h-1zM2 11h1v1h-1zM18 11h1v1h-1zM20 11h1v1h-1zM22 11h1v1h-1zM0 12h1v1h-1zM2 12h1v1h-1zM5 12h1v1h-1zM13 12h1v1h-1zM20 12h1v1h-1zM22 12h1v1h-1zM2 13h1v1h-1zM17 13h2v1h-2zM20 13h1v1h-1zM22 13h1v1h-1zM1 14h1v1h-1zM3 14h1v1h-1zM6 14h1v1h-1zM17 14h1v1h-1zM19 14h1v1h-1zM22 14h1v1h-1zM2 15h1v1h-1zM6 15h1v1h-1zM17 15h2v1h-2zM22 15h1v1h-1zM6 16h1v1h-1zM11 16h1v1h-1zM16 16h2v1h-2zM22 16h1v1h-1zM24 16h1v1h-1zM0 17h1v1h-1zM11 17h1v1h-1zM15 17h1v1h-1zM19 17h1v1h-1zM22 17h1v1h-1zM24 17h1v1h-1zM0 18h1v1h-1zM6 18h1v1h-1zM13 18h2v1h-2zM20 18h1v1h-1zM22 18h1v1h-1zM23 20h1v1h-1z"/><path fill="#141010" d="M10 0h7v1h-7zM18 1h1v1h-1zM20 2h1v1h-1zM21 3h1v1h-1zM21 4h1v1h-1zM21 5h1v1h-1zM14 6h3v1h-3zM22 6h1v1h-1zM6 7h5v1h-5zM13 7h1v1h-1zM17 7h1v1h-1zM22 7h1v1h-1zM5 8h1v1h-1zM11 8h1v1h-1zM22 8h1v1h-1zM11 9h1v1h-1zM14 9h2v1h-2zM23 9h1v1h-1zM6 10h1v1h-1zM11 10h1v1h-1zM13 10h1v1h-1zM16 10h1v1h-1zM23 10h1v1h-1zM5 11h1v1h-1zM17 11h1v1h-1zM23 11h1v1h-1zM6 12h1v1h-1zM17 12h1v1h-1zM6 13h1v1h-1zM19 15h1v1h-1zM3 16h1v1h-1zM7 16h1v1h-1zM19 16h1v1h-1zM4 17h1v1h-1zM7 17h1v1h-1zM16 17h2v1h-2zM3 18h2v1h-2zM15 18h1v1h-1zM17 18h1v1h-1zM21 18h1v1h-1zM2 19h3v1h-3zM12 19h1v1h-1zM15 19h2v1h-2zM21 19h1v1h-1zM23 19h1v1h-1zM3 20h1v1h-1zM12 20h1v1h-1zM15 20h1v1h-1zM17 20h1v1h-1zM10 21h2v1h-2zM17 21h1v1h-1zM23 21h1v1h-1zM11 22h1v1h-1zM20 22h1v1h-1zM21 23h1v1h-1zM21 24h1v1h-1z"/><path fill="#e8a014" d="M6 1h2v1h-2zM4 2h2v1h-2zM19 2h1v1h-1zM3 3h1v1h-1zM5 3h1v1h-1zM17 3h1v1h-1zM19 3h1v1h-1zM3 4h1v1h-1zM8 4h1v1h-1zM19 4h1v1h-1zM2 5h1v1h-1zM7 5h2v1h-2zM18 5h1v1h-1zM20 5h1v1h-1zM1 6h1v1h-1zM6 6h5v1h-5zM18 6h1v1h-1zM20 6h1v1h-1zM1 7h1v1h-1zM11 7h2v1h-2zM16 7h1v1h-1zM18 7h1v1h-1zM20 7h1v1h-1zM1 8h1v1h-1zM4 8h1v1h-1zM6 8h4v1h-4zM12 8h1v1h-1zM14 8h4v1h-4zM19 8h1v1h-1zM21 8h1v1h-1zM1 9h1v1h-1zM3 9h6v1h-6zM12 9h2v1h-2zM16 9h1v1h-1zM18 9h1v1h-1zM20 9h1v1h-1zM22 9h1v1h-1zM1 10h1v1h-1zM3 10h1v1h-1zM5 10h1v1h-1zM18 10h1v1h-1zM20 10h1v1h-1zM22 10h1v1h-1zM1 11h1v1h-1zM3 11h2v1h-2zM19 11h1v1h-1zM21 11h1v1h-1zM1 12h1v1h-1zM3 12h2v1h-2zM18 12h2v1h-2zM21 12h1v1h-1zM23 12h1v1h-1zM1 13h1v1h-1zM3 13h3v1h-3zM19 13h1v1h-1zM21 13h1v1h-1zM2 14h1v1h-1zM4 14h2v1h-2zM18 14h1v1h-1zM20 14h2v1h-2zM1 15h1v1h-1zM3 15h3v1h-3zM20 15h2v1h-2zM1 16h2v1h-2zM4 16h2v1h-2zM18 16h1v1h-1zM20 16h2v1h-2zM1 17h3v1h-3zM5 17h2v1h-2zM18 17h1v1h-1zM20 17h2v1h-2zM1 18h2v1h-2zM5 18h1v1h-1zM7 18h2v1h-2z"/><path fill="#ea1212" d="M9 1h8v1h-8zM7 2h3v1h-3zM6 3h3v1h-3zM6 4h2v1h-2zM5 5h2v1h-2zM7 21h1v1h-1zM13 21h1v1h-1zM7 22h1v1h-1zM13 22h1v1h-1zM7 23h1v1h-1zM9 23h1v1h-1zM13 23h1v1h-1zM7 24h3v1h-3z"/><path fill="#981414" d="M17 1h1v1h-1zM10 2h9v1h-9zM5 4h1v1h-1zM5 6h1v1h-1zM5 7h1v1h-1zM7 20h1v1h-1zM12 21h1v1h-1zM12 22h1v1h-1zM0 23h1v1h-1zM12 23h1v1h-1zM0 24h1v1h-1zM12 24h1v1h-1z"/><path fill="#f8e400" d="M9 3h8v1h-8zM9 4h9v1h-9zM4 5h1v1h-1zM9 5h9v1h-9zM3 6h2v1h-2zM11 6h3v1h-3zM17 6h1v1h-1zM3 7h2v1h-2zM14 7h2v1h-2zM3 8h1v1h-1zM13 8h1v1h-1z"/><path fill="#f8d8c4" d="M10 8h1v1h-1zM10 9h1v1h-1zM12 10h1v1h-1zM11 11h3v1h-3zM11 12h2v1h-2zM14 12h1v1h-1zM11 13h3v1h-3zM15 13h1v1h-1zM10 14h7v1h-7zM7 15h10v1h-10zM8 16h3v1h-3zM12 16h4v1h-4zM8 17h3v1h-3zM12 17h3v1h-3zM10 18h3v1h-3z"/><path fill="#0c2a84" d="M7 10h3v1h-3zM6 11h4v1h-4zM0 20h1v1h-1zM8 20h2v1h-2zM1 21h2v1h-2zM5 21h2v1h-2zM9 21h1v1h-1zM2 22h1v1h-1zM6 22h1v1h-1zM9 22h1v1h-1zM2 23h1v1h-1zM4 23h1v1h-1zM6 23h1v1h-1zM10 23h1v1h-1zM2 24h1v1h-1zM4 24h1v1h-1zM6 24h1v1h-1zM10 24h1v1h-1z"/><path fill="#ffffff" d="M10 10h1v1h-1zM15 10h1v1h-1zM10 11h1v1h-1zM15 11h2v1h-2zM10 12h1v1h-1zM15 12h2v1h-2zM0 13h1v1h-1zM10 13h1v1h-1zM16 13h1v1h-1zM23 13h2v1h-2zM0 14h1v1h-1zM23 14h2v1h-2zM0 15h1v1h-1zM23 15h2v1h-2zM0 16h1v1h-1zM23 16h1v1h-1zM23 17h1v1h-1zM16 18h1v1h-1zM18 18h2v1h-2zM24 18h1v1h-1zM14 19h1v1h-1zM17 19h4v1h-4zM22 19h1v1h-1zM24 19h1v1h-1zM2 20h1v1h-1zM6 20h1v1h-1zM11 20h1v1h-1zM13 20h1v1h-1zM16 20h1v1h-1zM18 20h3v1h-3zM22 20h1v1h-1zM24 20h1v1h-1zM3 21h1v1h-1zM15 21h2v1h-2zM18 21h2v1h-2zM21 21h2v1h-2zM24 21h1v1h-1zM16 22h1v1h-1zM18 22h2v1h-2zM22 22h3v1h-3zM11 23h1v1h-1zM16 23h1v1h-1zM22 23h2v1h-2zM23 24h2v1h-2z"/><path fill="#2452f0" d="M14 10h1v1h-1zM14 11h1v1h-1zM7 12h3v1h-3zM8 13h2v1h-2zM14 13h1v1h-1zM9 14h1v1h-1zM0 21h1v1h-1zM0 22h1v1h-1zM4 22h2v1h-2zM21 22h1v1h-1zM1 23h1v1h-1zM5 23h1v1h-1zM18 23h3v1h-3zM1 24h1v1h-1zM5 24h1v1h-1zM16 24h4v1h-4z"/><path fill="#4c92f4" d="M7 13h1v1h-1zM7 14h2v1h-2zM8 21h1v1h-1zM1 22h1v1h-1zM3 22h1v1h-1zM8 22h1v1h-1zM3 23h1v1h-1zM8 23h1v1h-1zM3 24h1v1h-1z"/><path fill="#c4c8d0" d="M9 18h1v1h-1zM23 18h1v1h-1zM0 19h2v1h-2zM5 19h7v1h-7zM13 19h1v1h-1zM1 20h1v1h-1zM4 20h2v1h-2zM10 20h1v1h-1zM14 20h1v1h-1zM21 20h1v1h-1zM4 21h1v1h-1zM14 21h1v1h-1zM20 21h1v1h-1zM10 22h1v1h-1zM14 22h2v1h-2zM17 22h1v1h-1zM14 23h2v1h-2zM17 23h1v1h-1zM24 23h1v1h-1zM11 24h1v1h-1zM13 24h3v1h-3zM20 24h1v1h-1zM22 24h1v1h-1z"/></svg></div><div class="c" style="left:573px;top:93px;background:#ff99ff"></div><div class="c" style="left:599px;top:93px;background:#ff99ff"><svg viewBox="0 0 25 25" shape-rendering="crispEdges"><path fill="#2c3490" d="M0 0h4v1h-4zM0 1h2v1h-2zM0 2h1v1h-1zM0 3h1v1h-1z"/><path fill="#141010" d="M4 0h1v1h-1zM6 0h1v1h-1zM11 0h1v1h-1zM13 0h1v1h-1zM16 0h1v1h-1zM23 0h1v1h-1zM4 1h1v1h-1zM6 1h1v1h-1zM13 1h1v1h-1zM15 1h2v1h-2zM24 1h1v1h-1zM1 2h1v1h-1zM3 2h2v1h-2zM14 2h1v1h-1zM17 2h1v1h-1zM24 2h1v1h-1zM3 3h2v1h-2zM17 3h1v1h-1zM19 3h1v1h-1zM24 3h1v1h-1zM0 4h1v1h-1zM3 4h1v1h-1zM8 4h4v1h-4zM14 4h1v1h-1zM17 4h1v1h-1zM24 4h1v1h-1zM2 5h1v1h-1zM4 5h1v1h-1zM11 5h1v1h-1zM23 5h2v1h-2zM3 6h1v1h-1zM5 6h1v1h-1zM14 6h1v1h-1zM16 6h2v1h-2zM22 6h1v1h-1zM0 7h1v1h-1zM3 7h2v1h-2zM7 7h1v1h-1zM15 7h2v1h-2zM18 7h1v1h-1zM0 8h1v1h-1zM7 8h1v1h-1zM10 8h1v1h-1zM14 8h2v1h-2zM19 8h1v1h-1zM2 9h1v1h-1zM5 9h1v1h-1zM8 9h1v1h-1zM10 9h1v1h-1zM12 9h1v1h-1zM14 9h1v1h-1zM3 10h1v1h-1zM8 10h3v1h-3zM15 10h1v1h-1zM0 11h1v1h-1zM3 11h1v1h-1zM5 11h1v1h-1zM8 11h1v1h-1zM16 11h1v1h-1zM0 12h1v1h-1zM2 12h1v1h-1zM7 12h1v1h-1zM9 12h1v1h-1zM11 12h1v1h-1zM15 12h1v1h-1zM23 12h1v1h-1zM0 13h3v1h-3zM15 13h2v1h-2zM18 13h4v1h-4zM23 13h2v1h-2zM0 14h2v1h-2zM13 14h1v1h-1zM16 14h4v1h-4zM21 14h4v1h-4zM2 15h1v1h-1zM5 15h2v1h-2zM16 15h1v1h-1zM21 15h1v1h-1zM2 16h2v1h-2zM5 16h1v1h-1zM7 16h1v1h-1zM16 16h1v1h-1zM21 16h1v1h-1zM2 17h2v1h-2zM5 17h3v1h-3zM16 17h1v1h-1zM20 17h2v1h-2zM2 18h2v1h-2zM6 18h1v1h-1zM8 18h1v1h-1zM16 18h1v1h-1zM18 18h2v1h-2zM2 19h2v1h-2zM7 19h1v1h-1zM16 19h1v1h-1zM22 19h3v1h-3zM2 20h1v1h-1zM4 20h1v1h-1zM8 20h1v1h-1zM16 20h1v1h-1zM23 20h2v1h-2zM2 21h1v1h-1zM4 21h1v1h-1zM6 21h1v1h-1zM8 21h1v1h-1zM16 21h1v1h-1zM0 22h2v1h-2zM4 22h1v1h-1zM9 22h1v1h-1zM15 22h1v1h-1zM1 23h2v1h-2zM9 23h1v1h-1zM15 23h1v1h-1zM2 24h1v1h-1zM4 24h1v1h-1zM9 24h1v1h-1zM16 24h1v1h-1z"/><path fill="#b040a8" d="M5 0h1v1h-1zM17 0h6v1h-6zM24 0h1v1h-1zM17 1h6v1h-6zM18 2h3v1h-3zM0 5h1v1h-1zM0 6h1v1h-1z"/><path fill="#f07a24" d="M7 0h1v1h-1zM5 1h1v1h-1zM12 1h1v1h-1zM5 2h9v1h-9zM5 3h8v1h-8zM5 4h2v1h-2zM13 4h1v1h-1zM5 5h1v1h-1zM12 5h2v1h-2zM5 7h2v1h-2zM5 8h1v1h-1z"/><path fill="#f8b828" d="M8 0h3v1h-3zM12 0h1v1h-1zM7 1h4v1h-4zM6 5h1v1h-1zM0 15h2v1h-2zM0 16h2v1h-2zM0 17h2v1h-2zM0 18h2v1h-2zM0 19h1v1h-1zM0 23h1v1h-1zM0 24h1v1h-1z"/><path fill="#f4e6b4" d="M14 0h2v1h-2zM14 1h1v1h-1zM23 1h1v1h-1zM2 2h1v1h-1zM15 2h1v1h-1zM21 2h3v1h-3zM1 3h2v1h-2zM15 3h2v1h-2zM20 3h4v1h-4zM1 4h2v1h-2zM15 4h2v1h-2zM20 4h3v1h-3zM1 5h1v1h-1zM15 5h3v1h-3zM21 5h2v1h-2zM1 6h2v1h-2zM15 6h1v1h-1zM1 7h2v1h-2zM1 8h2v1h-2z"/><path fill="#7c9ce0" d="M2 1h2v1h-2z"/><path fill="#8a4a18" d="M11 1h1v1h-1zM4 4h1v1h-1zM19 4h1v1h-1zM23 4h1v1h-1zM3 5h1v1h-1zM20 5h1v1h-1zM21 6h1v1h-1zM3 8h1v1h-1zM1 19h1v1h-1zM1 24h1v1h-1z"/><path fill="#0e5a22" d="M16 2h1v1h-1zM14 3h1v1h-1zM24 6h1v1h-1zM23 7h2v1h-2zM24 8h1v1h-1z"/><path fill="#981414" d="M13 3h1v1h-1zM11 6h2v1h-2zM11 7h1v1h-1zM4 8h1v1h-1zM6 8h1v1h-1zM12 8h1v1h-1zM3 9h2v1h-2zM7 9h1v1h-1zM11 9h1v1h-1zM4 10h1v1h-1zM7 10h1v1h-1zM14 13h1v1h-1zM14 14h2v1h-2zM9 15h4v1h-4zM15 15h1v1h-1zM8 16h1v1h-1zM15 16h1v1h-1zM8 17h1v1h-1zM7 18h1v1h-1zM8 19h1v1h-1zM9 20h1v1h-1zM9 21h1v1h-1zM15 21h1v1h-1zM13 22h2v1h-2z"/><path fill="#1ea640" d="M18 3h1v1h-1zM18 4h1v1h-1zM7 5h4v1h-4zM18 5h2v1h-2zM6 6h5v1h-5zM18 6h3v1h-3zM23 6h1v1h-1zM8 7h3v1h-3zM19 7h4v1h-4zM8 8h2v1h-2zM20 8h4v1h-4zM9 9h1v1h-1z"/><path fill="#ea1c1c" d="M7 4h1v1h-1zM12 4h1v1h-1zM13 6h1v1h-1zM12 7h1v1h-1zM11 8h1v1h-1zM6 9h1v1h-1zM13 15h1v1h-1zM9 16h6v1h-6zM9 17h7v1h-7zM9 18h7v1h-7zM9 19h4v1h-4zM14 19h2v1h-2zM10 20h3v1h-3zM14 20h2v1h-2zM10 21h3v1h-3zM14 21h1v1h-1z"/><path fill="#ffffff" d="M14 5h1v1h-1zM13 7h1v1h-1zM17 7h1v1h-1zM13 8h1v1h-1zM16 8h3v1h-3zM0 9h2v1h-2zM13 9h1v1h-1zM15 9h10v1h-10zM0 10h1v1h-1zM2 10h1v1h-1zM5 10h2v1h-2zM11 10h1v1h-1zM16 10h9v1h-9zM1 11h2v1h-2zM11 11h1v1h-1zM17 11h7v1h-7zM21 12h2v1h-2zM24 12h1v1h-1zM22 13h1v1h-1zM20 14h1v1h-1zM14 15h1v1h-1zM17 15h4v1h-4zM17 16h4v1h-4zM4 17h1v1h-1zM17 17h3v1h-3zM4 18h1v1h-1zM6 19h1v1h-1zM13 19h1v1h-1zM1 20h1v1h-1zM6 20h1v1h-1zM13 20h1v1h-1zM0 21h1v1h-1zM5 21h1v1h-1zM13 21h1v1h-1zM5 22h2v1h-2zM5 23h1v1h-1zM7 23h1v1h-1zM6 24h1v1h-1z"/><path fill="#b8c0cc" d="M4 6h1v1h-1zM14 7h1v1h-1zM1 10h1v1h-1zM24 11h1v1h-1zM1 12h1v1h-1zM18 12h3v1h-3zM0 20h1v1h-1zM1 21h1v1h-1z"/><path fill="#f4d8a8" d="M12 10h3v1h-3zM4 11h1v1h-1zM6 11h2v1h-2zM9 11h2v1h-2zM12 11h4v1h-4zM3 12h4v1h-4zM8 12h1v1h-1zM10 12h1v1h-1zM12 12h3v1h-3zM16 12h2v1h-2zM3 13h11v1h-11zM17 13h1v1h-1zM2 14h11v1h-11zM3 15h2v1h-2zM7 15h2v1h-2zM4 16h1v1h-1zM5 18h1v1h-1zM4 19h2v1h-2zM3 20h1v1h-1zM5 20h1v1h-1zM7 20h1v1h-1zM7 21h1v1h-1zM7 22h2v1h-2zM10 22h3v1h-3zM6 23h1v1h-1zM8 23h1v1h-1zM10 23h5v1h-5zM5 24h1v1h-1zM7 24h2v1h-2zM10 24h6v1h-6z"/><path fill="#f8bc30" d="M22 15h3v1h-3zM22 16h3v1h-3zM22 17h3v1h-3zM17 18h1v1h-1zM20 18h5v1h-5zM17 19h5v1h-5zM17 20h5v1h-5zM17 21h8v1h-8zM16 22h9v1h-9zM16 23h9v1h-9zM17 24h8v1h-8z"/><path fill="#2a70b8" d="M6 16h1v1h-1zM22 20h1v1h-1zM3 21h1v1h-1zM2 22h2v1h-2zM3 23h2v1h-2zM3 24h1v1h-1z"/></svg></div><div class="c" style="left:625px;top:93px;background:#ff99ff"></div><div class="c" style="left:651px;top:93px;background:#ff99ff"></div><div class="c" style="left:677px;top:93px;background:#ff99ff"></div><div class="c" style="left:703px;top:93px;background:#ff99ff"></div><div class="r" style="top:131px"></div><div class="t" style="left:132px;top:135px">March 2023</div><div class="n" style="left:1px;top:149px">1</div><div class="n" style="left:27px;top:149px">2</div><div class="n" style="left:53px;top:149px">3</div><div class="n" style="left:79px;top:149px">4</div><div class="n" style="left:105px;top:149px">5</div><div class="n" style="left:131px;top:149px">6</div><div class="n" style="left:157px;top:149px">7</div><div class="n" style="left:183px;top:149px">8</div><div class="n" style="left:209px;top:149px">9</div><div class="n" style="left:235px;top:149px">10</div><div class="n" style="left:261px;top:149px">11</div><div class="n" style="left:287px;top:149px">12</div><div class="n" style="left:313px;top:149px">13</div><div class="n" style="left:339px;top:149px">14</div><div class="n" style="left:365px;top:149px">15</div><div class="n" style="left:391px;top:149px">16</div><div class="n" style="left:417px;top:149px">17</div><div class="n" style="left:443px;top:149px">18</div><div class="n" style="left:469px;top:149px">19</div><div class="n" style="left:495px;top:149px">20</div><div class="n" style="left:521px;top:149px">21</div><div class="n" style="left:547px;top:149px">22</div><div class="n" style="left:573px;top:149px">23</div><div class="n" style="left:599px;top:149px">24</div><div class="n" style="left:625px;top:149px">25</div><div class="n" style="left:651px;top:149px">26</div><div class="n" style="left:677px;top:149px">27</div><div class="n" style="left:703px;top:149px">28</div><div class="n" style="left:729px;top:149px">29</div><div class="n" style="left:755px;top:149px">30</div><div class="n" style="left:781px;top:149px">31</div><div class="c" style="left:1px;top:160px;background:#66ff66"></div><div class="c" style="left:27px;top:160px;background:#66ff66"></div><div class="c" style="left:53px;top:160px;background:#66ff66"></div><div class="c" style="left:79px;top:160px;background:#66ff66"></div><div class="c" style="left:105px;top:160px;background:#66ff66"></div><div class="c" style="left:131px;top:160px;background:#66ff66"></div><div class="c" style="left:157px;top:160px;background:#66ff66"></div><div class="c" style="left:183px;top:160px;background:#66ff66"></div><div class="c" style="left:209px;top:160px;background:#66ff66"></div><div class="c" style="left:235px;top:160px;background:#66ff66"></div><div class="c" style="left:261px;top:160px;background:#66ff66"></div><div class="c" style="left:287px;top:160px;background:#66ff66"></div><div class="c" style="left:313px;top:160px;background:#66ff66"></div><div class="c" style="left:339px;top:160px;background:#66ff66"></div><div class="c" style="left:365px;top:160px;background:#66ff66"></div><div class="c" style="left:391px;top:160px;background:#66ff66"></div><div class="c" style="left:417px;top:160px;background:#66ff66"></div><div class="c" style="left:443px;top:160px;background:#66ff66"></div><div class="c" style="left:469px;top:160px;background:#66ff66"></div><div class="c" style="left:495px;top:160px;background:#66ff66"></div><div class="c" style="left:521px;top:160px;background:#66ff66"></div><div class="c" style="left:547px;top:160px;background:#66ff66"></div><div class="c" style="left:573px;top:160px;background:#66ff66"></div><div class="c" style="left:599px;top:160px;background:#66ff66"></div><div class="c" style="left:625px;top:160px;background:#66ff66"></div><div class="c" style="left:651px;top:160px;background:#66ff66"></div><div class="c" style="left:677px;top:160px;background:#66ff66"></div><div class="c" style="left:703px;top:160px;background:#66ff66"></div><div class="c" style="left:729px;top:160px;background:#66ff66"></div><div class="c" style="left:755px;top:160px;background:#66ff66"></div><div class="c" style="left:781px;top:160px;background:#66ff66"></div><div class="r" style="top:198px"></div><div class="t" style="left:132px;top:202px">April 2023</div><div class="n" style="left:1px;top:216px">1</div><div class="n" style="left:27px;top:216px">2</div><div class="n" style="left:53px;top:216px">3</div><div class="n" style="left:79px;top:216px">4</div><div class="n" style="left:105px;top:216px">5</div><div class="n" style="left:131px;top:216px">6</div><div class="n" style="left:157px;top:216px">7</div><div class="n" style="left:183px;top:216px">8</div><div class="n" style="left:209px;top:216px">9</div><div class="n" style="left:235px;top:216px">10</div><div class="n" style="left:261px;top:216px">11</div><div class="n" style="left:287px;top:216px">12</div><div class="n" style="left:313px;top:216px">13</div><div class="n" style="left:339px;top:216px">14</div><div class="n" style="left:365px;top:216px">15</div><div class="n" style="left:391px;top:216px">16</div><div class="n" style="left:417px;top:216px">17</div><div class="n" style="left:443px;top:216px">18</div><div class="n" style="left:469px;top:216px">19</div><div class="n" style="left:495px;top:216px">20</div><div class="n" style="left:521px;top:216px">21</div><div class="n" style="left:547px;top:216px">22</div><div class="n" style="left:573px;top:216px">23</div><div class="n" style="left:599px;top:216px">24</div><div class="n" style="left:625px;top:216px">25</div><div class="n" style="left:651px;top:216px">26</div><div class="n" style="left:677px;top:216px">27</div><div class="n" style="left:703px;top:216px">28</div><div class="n" style="left:729px;top:216px">29</div><div class="n" style="left:755px;top:216px">30</div><div class="c" style="left:1px;top:227px;background:#77ffff"></div><div class="c" style="left:27px;top:227px;background:#77ffff"></div><div class="c" style="left:53px;top:227px;background:#77ffff"></div><div class="c" style="left:79px;top:227px;background:#77ffff"></div><div class="c" style="left:105px;top:227px;background:#77ffff"></div><div class="c" style="left:131px;top:227px;background:#77ffff"></div><div class="c" style="left:157px;top:227px;background:#77ffff"></div><div class="c" style="left:183px;top:227px;background:#77ffff"></div><div class="c" style="left:209px;top:227px;background:#77ffff"></div><div class="c" style="left:235px;top:227px;background:#77ffff"></div><div class="c" style="left:261px;top:227px;background:#77ffff"></div><div class="c" style="left:287px;top:227px;background:#77ffff"></div><div class="c" style="left:313px;top:227px;background:#77ffff"></div><div class="c" style="left:339px;top:227px;background:#77ffff"></div><div class="c" style="left:365px;top:227px;background:#77ffff"></div><div class="c" style="left:391px;top:227px;background:#77ffff"></div><div class="c" style="left:417px;top:227px;background:#77ffff"></div><div class="c" style="left:443px;top:227px;background:#77ffff"></div><div class="c" style="left:469px;top:227px;background:#77ffff"></div><div class="c" style="left:495px;top:227px;background:#77ffff"></div><div class="c" style="left:521px;top:227px;background:#77ffff"></div><div class="c" style="left:547px;top:227px;background:#77ffff"></div><div class="c" style="left:573px;top:227px;background:#77ffff"></div><div class="c" style="left:599px;top:227px;background:#77ffff"></div><div class="c" style="left:625px;top:227px;background:#77ffff"></div><div class="c" style="left:651px;top:227px;background:#77ffff"></div><div class="c" style="left:677px;top:227px;background:#77ffff"></div><div class="c" style="left:703px;top:227px;background:#77ffff"></div><div class="c" style="left:729px;top:227px;background:#77ffff"></div><div class="c" style="left:755px;top:227px;background:#77ffff"></div><div class="r" style="top:265px"></div><div class="t" style="left:132px;top:269px">May 2023</div><div class="n" style="left:1px;top:283px">1</div><div class="n" style="left:27px;top:283px">2</div><div class="n" style="left:53px;top:283px">3</div><div class="n" style="left:79px;top:283px">4</div><div class="n" style="left:105px;top:283px">5</div><div class="n" style="left:131px;top:283px">6</div><div class="n" style="left:157px;top:283px">7</div><div class="n" style="left:183px;top:283px">8</div><div class="n" style="left:209px;top:283px">9</div><div class="n" style="left:235px;top:283px">10</div><div class="n" style="left:261px;top:283px">11</div><div class="n" style="left:287px;top:283px">12</div><div class="n" style="left:313px;top:283px">13</div><div class="n" style="left:339px;top:283px">14</div><div class="n" style="left:365px;top:283px">15</div><div class="n" style="left:391px;top:283px">16</div><div class="n" style="left:417px;top:283px">17</div><div class="n" style="left:443px;top:283px">18</div><div class="n" style="left:469px;top:283px">19</div><div class="n" style="left:495px;top:283px">20</div><div class="n" style="left:521px;top:283px">21</div><div class="n" style="left:547px;top:283px">22</div><div class="n" style="left:573px;top:283px">23</div><div class="n" style="left:599px;top:283px">24</div><div class="n" style="left:625px;top:283px">25</div><div class="n" style="left:651px;top:283px">26</div><div class="n" style="left:677px;top:283px">27</div><div class="n" style="left:703px;top:283px">28</div><div class="n" style="left:729px;top:283px">29</div><div class="n" style="left:755px;top:283px">30</div><div class="n" style="left:781px;top:283px">31</div><div class="c" style="left:1px;top:294px;background:#aaff66"></div><div class="c" style="left:27px;top:294px;background:#aaff66"></div><div class="c" style="left:53px;top:294px;background:#aaff66"></div><div class="c" style="left:79px;top:294px;background:#aaff66"></div><div class="c" style="left:105px;top:294px;background:#aaff66"></div><div class="c" style="left:131px;top:294px;background:#aaff66"></div><div class="c" style="left:157px;top:294px;background:#aaff66"></div><div class="c" style="left:183px;top:294px;background:#aaff66"></div><div class="c" style="left:209px;top:294px;background:#aaff66"></div><div class="c" style="left:235px;top:294px;background:#aaff66"></div><div class="c" style="left:261px;top:294px;background:#aaff66"></div><div class="c" style="left:287px;top:294px;background:#aaff66"></div><div class="c" style="left:313px;top:294px;background:#aaff66"></div><div class="c" style="left:339px;top:294px;background:#aaff66"></div><div class="c" style="left:365px;top:294px;background:#aaff66"></div><div class="c" style="left:391px;top:294px;background:#aaff66"></div><div class="c" style="left:417px;top:294px;background:#aaff66"></div><div class="c" style="left:443px;top:294px;background:#aaff66"></div><div class="c" style="left:469px;top:294px;background:#aaff66"></div><div class="c" style="left:495px;top:294px;background:#aaff66"></div><div class="c" style="left:521px;top:294px;background:#aaff66"></div><div class="c" style="left:547px;top:294px;background:#aaff66"></div><div class="c" style="left:573px;top:294px;background:#aaff66"></div><div class="c" style="left:599px;top:294px;background:#aaff66"></div><div class="c" style="left:625px;top:294px;background:#aaff66"></div><div class="c" style="left:651px;top:294px;background:#aaff66"></div><div class="c" style="left:677px;top:294px;background:#aaff66"></div><div class="c" style="left:703px;top:294px;background:#aaff66"></div><div class="c" style="left:729px;top:294px;background:#aaff66"></div><div class="c" style="left:755px;top:294px;background:#aaff66"></div><div class="c" style="left:781px;top:294px;background:#aaff66"></div><div class="r" style="top:332px"></div><div class="t" style="left:132px;top:336px">June 2023</div><div class="n" style="left:1px;top:350px">1</div><div class="n" style="left:27px;top:350px">2</div><div class="n" style="left:53px;top:350px">3</div><div class="n" style="left:79px;top:350px">4</div><div class="n" style="left:105px;top:350px">5</div><div class="n" style="left:131px;top:350px">6</div><div class="n" style="left:157px;top:350px">7</div><div class="n" style="left:183px;top:350px">8</div><div class="n" style="left:209px;top:350px">9</div><div class="n" style="left:235px;top:350px">10</div><div class="n" style="left:261px;top:350px">11</div><div class="n" style="left:287px;top:350px">12</div><div class="n" style="left:313px;top:350px">13</div><div class="n" style="left:339px;top:350px">14</div><div class="n" style="left:365px;top:350px">15</div><div class="n" style="left:391px;top:350px">16</div><div class="n" style="left:417px;top:350px">17</div><div class="n" style="left:443px;top:350px">18</div><div class="n" style="left:469px;top:350px">19</div><div class="n" style="left:495px;top:350px">20</div><div class="n" style="left:521px;top:350px">21</div><div class="n" style="left:547px;top:350px">22</div><div class="n" style="left:573px;top:350px">23</div><div class="n" style="left:599px;top:350px">24</div><div class="n" style="left:625px;top:350px">25</div><div class="n" style="left:651px;top:350px">26</div><div class="n" style="left:677px;top:350px">27</div><div class="n" style="left:703px;top:350px">28</div><div class="n" style="left:729px;top:350px">29</div><div class="n" style="left:755px;top:350px">30</div><div class="c" style="left:1px;top:361px;background:#ffee66"></div><div class="c" style="left:27px;top:361px;background:#ffee66"></div><div class="c" style="left:53px;top:361px;background:#ffee66"></div><div class="c" style="left:79px;top:361px;background:#ffee66"></div><div class="c" style="left:105px;top:361px;background:#ffee66"></div><div class="c" style="left:131px;top:361px;background:#ffee66"></div><div class="c" style="left:157px;top:361px;background:#ffee66"></div><div class="c" style="left:183px;top:361px;background:#ffee66"></div><div class="c" style="left:209px;top:361px;background:#ffee66"></div><div class="c" style="left:235px;top:361px;background:#ffee66"></div><div class="c" style="left:261px;top:361px;background:#ffee66"></div><div class="c" style="left:287px;top:361px;background:#ffee66"></div><div class="c" style="left:313px;top:361px;background:#ffee66"></div><div class="c" style="left:339px;top:361px;background:#ffee66"></div><div class="c" style="left:365px;top:361px;background:#ffee66"></div><div class="c" style="left:391px;top:361px;background:#ffee66"></div><div class="c" style="left:417px;top:361px;background:#ffee66"></div><div class="c" style="left:443px;top:361px;background:#ffee66"></div><div class="c" style="left:469px;top:361px;background:#ffee66"></div><div class="c" style="left:495px;top:361px;background:#ffee66"></div><div class="c" style="left:521px;top:361px;background:#ffee66"></div><div class="c" style="left:547px;top:361px;background:#ffee66"></div><div class="c" style="left:573px;top:361px;background:#ffee66"></div><div class="c" style="left:599px;top:361px;background:#ffee66"></div><div class="c" style="left:625px;top:361px;background:#ffee66"></div><div class="c" style="left:651px;top:361px;background:#ffee66"></div><div class="c" style="left:677px;top:361px;background:#ffee66"></div><div class="c" style="left:703px;top:361px;background:#ffee66"></div><div class="c" style="left:729px;top:361px;background:#ffee66"></div><div class="c" style="left:755px;top:361px;background:#ffee66"></div><div class="r" style="top:399px"></div><div class="t" style="left:132px;top:403px">July 2023</div><div class="n" style="left:1px;top:417px">1</div><div class="n" style="left:27px;top:417px">2</div><div class="n" style="left:53px;top:417px">3</div><div class="n" style="left:79px;top:417px">4</div><div class="n" style="left:105px;top:417px">5</div><div class="n" style="left:131px;top:417px">6</div><div class="n" style="left:157px;top:417px">7</div><div class="n" style="left:183px;top:417px">8</div><div class="n" style="left:209px;top:417px">9</div><div class="n" style="left:235px;top:417px">10</div><div class="n" style="left:261px;top:417px">11</div><div class="n" style="left:287px;top:417px">12</div><div class="n" style="left:313px;top:417px">13</div><div class="n" style="left:339px;top:417px">14</div><div class="n" style="left:365px;top:417px">15</div><div class="n" style="left:391px;top:417px">16</div><div class="n" style="left:417px;top:417px">17</div><div class="n" style="left:443px;top:417px">18</div><div class="n" style="left:469px;top:417px">19</div><div class="n" style="left:495px;top:417px">20</div><div class="n" style="left:521px;top:417px">21</div><div class="n" style="left:547px;top:417px">22</div><div class="n" style="left:573px;top:417px">23</div><div class="n" style="left:599px;top:417px">24</div><div class="n" style="left:625px;top:417px">25</div><div class="n" style="left:651px;top:417px">26</div><div class="n" style="left:677px;top:417px">27</div><div class="n" style="left:703px;top:417px">28</div><div class="n" style="left:729px;top:417px">29</div><div class="n" style="left:755px;top:417px">30</div><div class="n" style="left:781px;top:417px">31</div><div class="c" style="left:1px;top:428px;background:#ff6666"></div><div class="c" style="left:27px;top:428px;background:#ff6666"></div><div class="c" style="left:53px;top:428px;background:#ff6666"></div><div class="c" style="left:79px;top:428px;background:#ff6666"></div><div class="c" style="left:105px;top:428px;background:#ff6666"></div><div class="c" style="left:131px;top:428px;background:#ff6666"></div><div class="c" style="left:157px;top:428px;background:#ff6666"></div><div class="c" style="left:183px;top:428px;background:#ff6666"></div><div class="c" style="left:209px;top:428px;background:#ff6666"></div><div class="c" style="left:235px;top:428px;background:#ff6666"></div><div class="c" style="left:261px;top:428px;background:#ff6666"></div><div class="c" style="left:287px;top:428px;background:#ff6666"></div><div class="c" style="left:313px;top:428px;background:#ff6666"></div><div class="c" style="left:339px;top:428px;background:#ff6666"></div><div class="c" style="left:365px;top:428px;background:#ff6666"></div><div class="c" style="left:391px;top:428px;background:#ff6666"></div><div class="c" style="left:417px;top:428px;background:#ff6666"></div><div class="c" style="left:443px;top:428px;background:#ff6666"></div><div class="c" style="left:469px;top:428px;background:#ff6666"></div><div class="c" style="left:495px;top:428px;background:#ff6666"></div><div class="c" style="left:521px;top:428px;background:#ff6666"></div><div class="c" style="left:547px;top:428px;background:#ff6666"></div><div class="c" style="left:573px;top:428px;background:#ff6666"></div><div class="c" style="left:599px;top:428px;background:#ff6666"></div><div class="c" style="left:625px;top:428px;background:#ff6666"></div><div class="c" style="left:651px;top:428px;background:#ff6666"></div><div class="c" style="left:677px;top:428px;background:#ff6666"></div><div class="c" style="left:703px;top:428px;background:#ff6666"></div><div class="c" style="left:729px;top:428px;background:#ff6666"></div><div class="c" style="left:755px;top:428px;background:#ff6666"></div><div class="c" style="left:781px;top:428px;background:#ff6666"></div><div class="r" style="top:466px"></div><div class="t" style="left:132px;top:470px">August 2023</div><div class="n" style="left:1px;top:484px">1</div><div class="n" style="left:27px;top:484px">2</div><div class="n" style="left:53px;top:484px">3</div><div class="n" style="left:79px;top:484px">4</div><div class="n" style="left:105px;top:484px">5</div><div class="n" style="left:131px;top:484px">6</div><div class="n" style="left:157px;top:484px">7</div><div class="n" style="left:183px;top:484px">8</div><div class="n" style="left:209px;top:484px">9</div><div class="n" style="left:235px;top:484px">10</div><div class="n" style="left:261px;top:484px">11</div><div class="n" style="left:287px;top:484px">12</div><div class="n" style="left:313px;top:484px">13</div><div class="n" style="left:339px;top:484px">14</div><div class="n" style="left:365px;top:484px">15</div><div class="n" style="left:391px;top:484px">16</div><div class="n" style="left:417px;top:484px">17</div><div class="n" style="left:443px;top:484px">18</div><div class="n" style="left:469px;top:484px">19</div><div class="n" style="left:495px;top:484px">20</div><div class="n" style="left:521px;top:484px">21</div><div class="n" style="left:547px;top:484px">22</div><div class="n" style="left:573px;top:484px">23</div><div class="n" style="left:599px;top:484px">24</div><div class="n" style="left:625px;top:484px">25</div><div class="n" style="left:651px;top:484px">26</div><div class="n" style="left:677px;top:484px">27</div><div class="n" style="left:703px;top:484px">28</div><div class="n" style="left:729px;top:484px">29</div><div class="n" style="left:755px;top:484px">30</div><div class="n" style="left:781px;top:484px">31</div><div class="c" style="left:1px;top:495px;background:#aa88ff"></div><div class="c" style="left:27px;top:495px;background:#aa88ff"></div><div class="c" style="left:53px;top:495px;background:#aa88ff"></div><div class="c" style="left:79px;top:495px;background:#aa88ff"></div><div class="c" style="left:105px;top:495px;background:#aa88ff"></div><div class="c" style="left:131px;top:495px;background:#aa88ff"></div><div class="c" style="left:157px;top:495px;background:#aa88ff"></div><div class="c" style="left:183px;top:495px;background:#aa88ff"></div><div class="c" style="left:209px;top:495px;background:#aa88ff"></div><div class="c" style="left:235px;top:495px;background:#aa88ff"></div><div class="c" style="left:261px;top:495px;background:#aa88ff"></div><div class="c" style="left:287px;top:495px;background:#aa88ff"></div><div class="c" style="left:313px;top:495px;background:#aa88ff"></div><div class="c" style="left:339px;top:495px;background:#aa88ff"></div><div class="c" style="left:365px;top:495px;background:#aa88ff"></div><div class="c" style="left:391px;top:495px;background:#aa88ff"></div><div class="c" style="left:417px;top:495px;background:#aa88ff"></div><div class="c" style="left:443px;top:495px;background:#aa88ff"></div><div class="c" style="left:469px;top:495px;background:#aa88ff"></div><div class="c" style="left:495px;top:495px;background:#aa88ff"></div><div class="c" style="left:521px;top:495px;background:#aa88ff"></div><div class="c" style="left:547px;top:495px;background:#aa88ff"></div><div class="c" style="left:573px;top:495px;background:#aa88ff"></div><div class="c" style="left:599px;top:495px;background:#aa88ff"></div><div class="c" style="left:625px;top:495px;background:#aa88ff"></div><div class="c" style="left:651px;top:495px;background:#aa88ff"></div><div class="c" style="left:677px;top:495px;background:#aa88ff"></div><div class="c" style="left:703px;top:495px;background:#aa88ff"></div><div class="c" style="left:729px;top:495px;background:#aa88ff"></div><div class="c" style="left:755px;top:495px;background:#aa88ff"></div><div class="c" style="left:781px;top:495px;background:#aa88ff"></div><div class="r" style="top:533px"></div><div class="t" style="left:132px;top:537px">September 2023</div><div class="n" style="left:1px;top:551px">1</div><div class="n" style="left:27px;top:551px">2</div><div class="n" style="left:53px;top:551px">3</div><div class="n" style="left:79px;top:551px">4</div><div class="n" style="left:105px;top:551px">5</div><div class="n" style="left:131px;top:551px">6</div><div class="n" style="left:157px;top:551px">7</div><div class="n" style="left:183px;top:551px">8</div><div class="n" style="left:209px;top:551px">9</div><div class="n" style="left:235px;top:551px">10</div><div class="n" style="left:261px;top:551px">11</div><div class="n" style="left:287px;top:551px">12</div><div class="n" style="left:313px;top:551px">13</div><div class="n" style="left:339px;top:551px">14</div><div class="n" style="left:365px;top:551px">15</div><div class="n" style="left:391px;top:551px">16</div><div class="n" style="left:417px;top:551px">17</div><div class="n" style="left:443px;top:551px">18</div><div class="n" style="left:469px;top:551px">19</div><div class="n" style="left:495px;top:551px">20</div><div class="n" style="left:521px;top:551px">21</div><div class="n" style="left:547px;top:551px">22</div><div class="n" style="left:573px;top:551px">23</div><div class="n" style="left:599px;top:551px">24</div><div class="n" style="left:625px;top:551px">25</div><div class="n" style="left:651px;top:551px">26</div><div class="n" style="left:677px;top:551px">27</div><div class="n" style="left:703px;top:551px">28</div><div class="n" style="left:729px;top:551px">29</div><div class="n" style="left:755px;top:551px">30</div><div class="c" style="left:1px;top:562px;background:#999999"></div><div class="c" style="left:27px;top:562px;background:#999999"></div><div class="c" style="left:53px;top:562px;background:#999999"></div><div class="c" style="left:79px;top:562px;background:#999999"></div><div class="c" style="left:105px;top:562px;background:#999999"></div><div class="c" style="left:131px;top:562px;background:#999999"></div><div class="c" style="left:157px;top:562px;background:#999999"></div><div class="c" style="left:183px;top:562px;background:#999999"></div><div class="c" style="left:209px;top:562px;background:#999999"></div><div class="c" style="left:235px;top:562px;background:#999999"></div><div class="c" style="left:261px;top:562px;background:#999999"></div><div class="c" style="left:287px;top:562px;background:#999999"></div><div class="c" style="left:313px;top:562px;background:#999999"></div><div class="c" style="left:339px;top:562px;background:#999999"></div><div class="c" style="left:365px;top:562px;background:#999999"></div><div class="c" style="left:391px;top:562px;background:#999999"></div><div class="c" style="left:417px;top:562px;background:#999999"></div><div class="c" style="left:443px;top:562px;background:#999999"></div><div class="c" style="left:469px;top:562px;background:#999999"></div><div class="c" style="left:495px;top:562px;background:#999999"></div><div class="c" style="left:521px;top:562px;background:#999999"></div><div class="c" style="left:547px;top:562px;background:#999999"></div><div class="c" style="left:573px;top:562px;background:#999999"></div><div class="c" style="left:599px;top:562px;background:#999999"></div><div class="c" style="left:625px;top:562px;background:#999999"></div><div class="c" style="left:651px;top:562px;background:#999999"></div><div class="c" style="left:677px;top:562px;background:#999999"></div><div class="c" style="left:703px;top:562px;background:#999999"></div><div class="c" style="left:729px;top:562px;background:#999999"></div><div class="c" style="left:755px;top:562px;background:#999999"></div><div class="r" style="top:600px"></div><div class="t" style="left:132px;top:604px">October 2023</div><div class="n" style="left:1px;top:618px">1</div><div class="n" style="left:27px;top:618px">2</div><div class="n" style="left:53px;top:618px">3</div><div class="n" style="left:79px;top:618px">4</div><div class="n" style="left:105px;top:618px">5</div><div class="n" style="left:131px;top:618px">6</div><div class="n" style="left:157px;top:618px">7</div><div class="n" style="left:183px;top:618px">8</div><div class="n" style="left:209px;top:618px">9</div><div class="n" style="left:235px;top:618px">10</div><div class="n" style="left:261px;top:618px">11</div><div class="n" style="left:287px;top:618px">12</div><div class="n" style="left:313px;top:618px">13</div><div class="n" style="left:339px;top:618px">14</div><div class="n" style="left:365px;top:618px">15</div><div class="n" style="left:391px;top:618px">16</div><div class="n" style="left:417px;top:618px">17</div><div class="n" style="left:443px;top:618px">18</div><div class="n" style="left:469px;top:618px">19</div><div class="n" style="left:495px;top:618px">20</div><div class="n" style="left:521px;top:618px">21</div><div class="n" style="left:547px;top:618px">22</div><div class="n" style="left:573px;top:618px">23</div><div class="n" style="left:599px;top:618px">24</div><div class="n" style="left:625px;top:618px">25</div><div class="n" style="left:651px;top:618px">26</div><div class="n" style="left:677px;top:618px">27</div><div class="n" style="left:703px;top:618px">28</div><div class="n" style="left:729px;top:618px">29</div><div class="n" style="left:755px;top:618px">30</div><div class="n" style="left:781px;top:618px">31</div><div class="c" style="left:1px;top:629px;background:#dd9922"></div><div class="c" style="left:27px;top:629px;background:#dd9922"></div><div class="c" style="left:53px;top:629px;background:#dd9922"></div><div class="c" style="left:79px;top:629px;background:#dd9922"></div><div class="c" style="left:105px;top:629px;background:#dd9922"></div><div class="c" style="left:131px;top:629px;background:#dd9922"></div><div class="c" style="left:157px;top:629px;background:#dd9922"></div><div class="c" style="left:183px;top:629px;background:#dd9922"></div><div class="c" style="left:209px;top:629px;background:#dd9922"></div><div class="c" style="left:235px;top:629px;background:#dd9922"></div><div class="c" style="left:261px;top:629px;background:#dd9922"></div><div class="c" style="left:287px;top:629px;background:#dd9922"></div><div class="c" style="left:313px;top:629px;background:#dd9922"></div><div class="c" style="left:339px;top:629px;background:#dd9922"></div><div class="c" style="left:365px;top:629px;background:#dd9922"></div><div class="c" style="left:391px;top:629px;background:#dd9922"></div><div class="c" style="left:417px;top:629px;background:#dd9922"></div><div class="c" style="left:443px;top:629px;background:#dd9922"></div><div class="c" style="left:469px;top:629px;background:#dd9922"></div><div class="c" style="left:495px;top:629px;background:#dd9922"></div><div class="c" style="left:521px;top:629px;background:#dd9922"></div><div class="c" style="left:547px;top:629px;background:#dd9922"></div><div class="c" style="left:573px;top:629px;background:#dd9922"></div><div class="c" style="left:599px;top:629px;background:#dd9922"></div><div class="c" style="left:625px;top:629px;background:#dd9922"></div><div class="c" style="left:651px;top:629px;background:#dd9922"></div><div class="c" style="left:677px;top:629px;background:#dd9922"></div><div class="c" style="left:703px;top:629px;background:#dd9922"></div><div class="c" style="left:729px;top:629px;background:#dd9922"></div><div class="c" style="left:755px;top:629px;background:#dd9922"></div><div class="c" style="left:781px;top:629px;background:#dd9922"></div><div class="r" style="top:667px"></div><div class="t" style="left:132px;top:671px">November 2023</div><div class="n" style="left:1px;top:685px">1</div><div class="n" style="left:27px;top:685px">2</div><div class="n" style="left:53px;top:685px">3</div><div class="n" style="left:79px;top:685px">4</div><div class="n" style="left:105px;top:685px">5</div><div class="n" style="left:131px;top:685px">6</div><div class="n" style="left:157px;top:685px">7</div><div class="n" style="left:183px;top:685px">8</div><div class="n" style="left:209px;top:685px">9</div><div class="n" style="left:235px;top:685px">10</div><div class="n" style="left:261px;top:685px">11</div><div class="n" style="left:287px;top:685px">12</div><div class="n" style="left:313px;top:685px">13</div><div class="n" style="left:339px;top:685px">14</div><div class="n" style="left:365px;top:685px">15</div><div class="n" style="left:391px;top:685px">16</div><div class="n" style="left:417px;top:685px">17</div><div class="n" style="left:443px;top:685px">18</div><div class="n" style="left:469px;top:685px">19</div><div class="n" style="left:495px;top:685px">20</div><div class="n" style="left:521px;top:685px">21</div><div class="n" style="left:547px;top:685px">22</div><div class="n" style="left:573px;top:685px">23</div><div class="n" style="left:599px;top:685px">24</div><div class="n" style="left:625px;top:685px">25</div><div class="n" style="left:651px;top:685px">26</div><div class="n" style="left:677px;top:685px">27</div><div class="n" style="left:703px;top:685px">28</div><div class="n" style="left:729px;top:685px">29</div><div class="n" style="left:755px;top:685px">30</div><div class="c" style="left:1px;top:696px;background:#996633"></div><div class="c" style="left:27px;top:696px;background:#996633"></div><div class="c" style="left:53px;top:696px;background:#996633"></div><div class="c" style="left:79px;top:696px;background:#996633"></div><div class="c" style="left:105px;top:696px;background:#996633"></div><div class="c" style="left:131px;top:696px;background:#996633"></div><div class="c" style="left:157px;top:696px;background:#996633"></div><div class="c" style="left:183px;top:696px;background:#996633"></div><div class="c" style="left:209px;top:696px;background:#996633"></div><div class="c" style="left:235px;top:696px;background:#996633"></div><div class="c" style="left:261px;top:696px;background:#996633"></div><div class="c" style="left:287px;top:696px;background:#996633"></div><div class="c" style="left:313px;top:696px;background:#996633"></div><div class="c" style="left:339px;top:696px;background:#996633"></div><div class="c" style="left:365px;top:696px;background:#996633"></div><div class="c" style="left:391px;top:696px;background:#996633"></div><div class="c" style="left:417px;top:696px;background:#996633"></div><div class="c" style="left:443px;top:696px;background:#996633"></div><div class="c" style="left:469px;top:696px;background:#996633"></div><div class="c" style="left:495px;top:696px;background:#996633"></div><div class="c" style="left:521px;top:696px;background:#996633"></div><div class="c" style="left:547px;top:696px;background:#996633"></div><div class="c" style="left:573px;top:696px;background:#996633"></div><div class="c" style="left:599px;top:696px;background:#996633"></div><div class="c" style="left:625px;top:696px;background:#996633"></div><div class="c" style="left:651px;top:696px;background:#996633"></div><div class="c" style="left:677px;top:696px;background:#996633"></div><div class="c" style="left:703px;top:696px;background:#996633"></div><div class="c" style="left:729px;top:696px;background:#996633"></div><div class="c" style="left:755px;top:696px;background:#996633"></div><div class="r" style="top:734px"></div><div class="t" style="left:132px;top:738px">December 2023</div><div class="n" style="left:1px;top:752px">1</div><div class="n" style="left:27px;top:752px">2</div><div class="n" style="left:53px;top:752px">3</div><div class="n" style="left:79px;top:752px">4</div><div class="n" style="left:105px;top:752px">5</div><div class="n" style="left:131px;top:752px">6</div><div class="n" style="left:157px;top:752px">7</div><div class="n" style="left:183px;top:752px">8</div><div class="n" style="left:209px;top:752px">9</div><div class="n" style="left:235px;top:752px">10</div><div class="n" style="left:261px;top:752px">11</div><div class="n" style="left:287px;top:752px">12</div><div class="n" style="left:313px;top:752px">13</div><div class="n" style="left:339px;top:752px">14</div><div class="n" style="left:365px;top:752px">15</div><div class="n" style="left:391px;top:752px">16</div><div class="n" style="left:417px;top:752px">17</div><div class="n" style="left:443px;top:752px">18</div><div class="n" style="left:469px;top:752px">19</div><div class="n" style="left:495px;top:752px">20</div><div class="n" style="left:521px;top:752px">21</div><div class="n" style="left:547px;top:752px">22</div><div class="n" style="left:573px;top:752px">23</div><div class="n" style="left:599px;top:752px">24</div><div class="n" style="left:625px;top:752px">25</div><div class="n" style="left:651px;top:752px">26</div><div class="n" style="left:677px;top:752px">27</div><div class="n" style="left:703px;top:752px">28</div><div class="n" style="left:729px;top:752px">29</div><div class="n" style="left:755px;top:752px">30</div><div class="n" style="left:781px;top:752px">31</div><div class="c" style="left:1px;top:763px;background:#449944"></div><div class="c" style="left:27px;top:763px;background:#449944"></div><div class="c" style="left:53px;top:763px;background:#449944"></div><div class="c" style="left:79px;top:763px;background:#449944"></div><div class="c" style="left:105px;top:763px;background:#449944"></div><div class="c" style="left:131px;top:763px;background:#449944"></div><div class="c" style="left:157px;top:763px;background:#449944"></div><div class="c" style="left:183px;top:763px;background:#449944"></div><div class="c" style="left:209px;top:763px;background:#449944"></div><div class="c" style="left:235px;top:763px;background:#449944"></div><div class="c" style="left:261px;top:763px;background:#449944"></div><div class="c" style="left:287px;top:763px;background:#449944"></div><div class="c" style="left:313px;top:763px;background:#449944"></div><div class="c" style="left:339px;top:763px;background:#449944"></div><div class="c" style="left:365px;top:763px;background:#449944"></div><div class="c" style="left:391px;top:763px;background:#449944"></div><div class="c" style="left:417px;top:763px;background:#449944"></div><div class="c" style="left:443px;top:763px;background:#449944"></div><div class="c" style="left:469px;top:763px;background:#449944"></div><div class="c" style="left:495px;top:763px;background:#449944"></div><div class="c" style="left:521px;top:763px;background:#449944"></div><div class="c" style="left:547px;top:763px;background:#449944"></div><div class="c" style="left:573px;top:763px;background:#449944"></div><div class="c" style="left:599px;top:763px;background:#449944"></div><div class="c" style="left:625px;top:763px;background:#449944"></div><div class="c" style="left:651px;top:763px;background:#449944"></div><div class="c" style="left:677px;top:763px;background:#449944"></div><div class="c" style="left:703px;top:763px;background:#449944"></div><div class="c" style="left:729px;top:763px;background:#449944"></div><div class="c" style="left:755px;top:763px;background:#449944"></div><div class="c" style="left:781px;top:763px;background:#449944"></div><div class="r" style="top:801px"></div>
</body></html>
